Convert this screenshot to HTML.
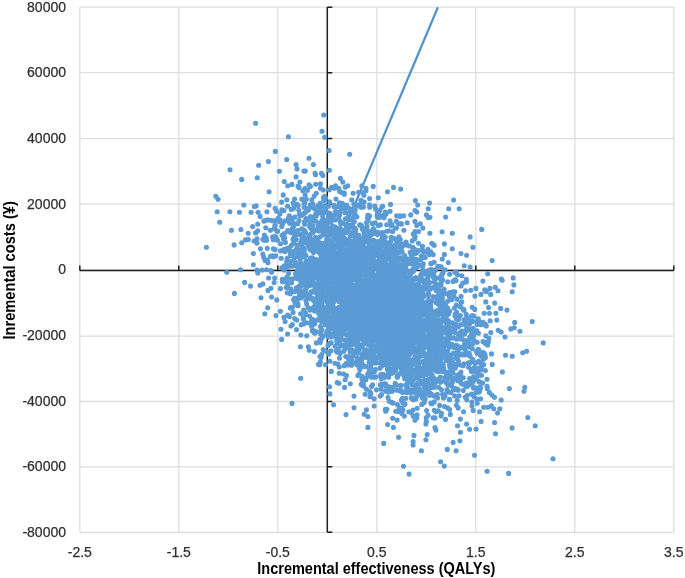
<!DOCTYPE html>
<html><head><meta charset="utf-8"><style>
html,body{margin:0;padding:0;background:#fff;}
svg{display:block;will-change:transform;}
text{font-family:"Liberation Sans",sans-serif;}
</style></head><body>
<svg width="685" height="578" viewBox="0 0 685 578">
<rect width="685" height="578" fill="#fff"/>
<g stroke="#dedede" stroke-width="1.3"><line x1="79.8" y1="7.1" x2="79.8" y2="532.3"/><line x1="178.8" y1="7.1" x2="178.8" y2="532.3"/><line x1="277.8" y1="7.1" x2="277.8" y2="532.3"/><line x1="376.8" y1="7.1" x2="376.8" y2="532.3"/><line x1="475.8" y1="7.1" x2="475.8" y2="532.3"/><line x1="574.8" y1="7.1" x2="574.8" y2="532.3"/><line x1="673.8" y1="7.1" x2="673.8" y2="532.3"/><line x1="79.8" y1="7.20" x2="673.8" y2="7.20"/><line x1="79.8" y1="72.70" x2="673.8" y2="72.70"/><line x1="79.8" y1="138.55" x2="673.8" y2="138.55"/><line x1="79.8" y1="204.10" x2="673.8" y2="204.10"/><line x1="79.8" y1="269.90" x2="673.8" y2="269.90"/><line x1="79.8" y1="336.20" x2="673.8" y2="336.20"/><line x1="79.8" y1="401.50" x2="673.8" y2="401.50"/><line x1="79.8" y1="466.80" x2="673.8" y2="466.80"/><line x1="79.8" y1="532.30" x2="673.8" y2="532.30"/></g>
<g stroke="#1e1e1e" stroke-width="1.5" fill="none">
<line x1="79.8" y1="270.5" x2="673.8" y2="270.5"/>
<line x1="327.3" y1="7.1" x2="327.3" y2="532.3"/>
<path d="M327.3 7.20h5 M327.3 72.70h5 M327.3 138.55h5 M327.3 204.10h5 M327.3 269.90h5 M327.3 336.20h5 M327.3 401.50h5 M327.3 466.80h5 M327.3 532.30h5 M79.8 270.5v-5 M178.8 270.5v-5 M277.8 270.5v-5 M376.8 270.5v-5 M475.8 270.5v-5 M574.8 270.5v-5 M673.8 270.5v-5"/>
</g>
<line x1="327.3" y1="269.7" x2="437.9" y2="7.3" stroke="#5090cc" stroke-width="2.2"/>
<g id="cloud" fill="#5b9bd5">
<circle cx="424.4" cy="372.1" r="2.55"/><circle cx="418.1" cy="320.7" r="2.55"/><circle cx="349.6" cy="284.0" r="2.55"/><circle cx="287.8" cy="315.5" r="2.55"/><circle cx="415.9" cy="399.0" r="2.55"/><circle cx="393.0" cy="330.7" r="2.55"/><circle cx="367.6" cy="269.0" r="2.55"/><circle cx="367.0" cy="277.6" r="2.55"/><circle cx="404.9" cy="403.8" r="2.55"/><circle cx="392.3" cy="323.8" r="2.55"/><circle cx="378.8" cy="299.1" r="2.55"/><circle cx="502.4" cy="371.9" r="2.55"/><circle cx="400.2" cy="306.0" r="2.55"/><circle cx="398.1" cy="284.2" r="2.55"/><circle cx="448.6" cy="314.1" r="2.55"/><circle cx="352.9" cy="254.5" r="2.55"/><circle cx="391.7" cy="338.7" r="2.55"/><circle cx="411.5" cy="345.7" r="2.55"/><circle cx="404.8" cy="342.9" r="2.55"/><circle cx="340.7" cy="292.1" r="2.55"/><circle cx="369.4" cy="281.5" r="2.55"/><circle cx="338.7" cy="253.3" r="2.55"/><circle cx="295.1" cy="261.9" r="2.55"/><circle cx="406.1" cy="293.2" r="2.55"/><circle cx="374.7" cy="231.6" r="2.55"/><circle cx="349.0" cy="356.6" r="2.55"/><circle cx="401.9" cy="260.1" r="2.55"/><circle cx="367.5" cy="306.1" r="2.55"/><circle cx="363.9" cy="195.3" r="2.55"/><circle cx="356.4" cy="274.8" r="2.55"/><circle cx="421.9" cy="301.0" r="2.55"/><circle cx="408.0" cy="346.2" r="2.55"/><circle cx="349.1" cy="318.8" r="2.55"/><circle cx="317.3" cy="238.6" r="2.55"/><circle cx="344.3" cy="327.8" r="2.55"/><circle cx="337.6" cy="272.8" r="2.55"/><circle cx="383.1" cy="295.6" r="2.55"/><circle cx="429.6" cy="392.9" r="2.55"/><circle cx="338.0" cy="326.0" r="2.55"/><circle cx="401.9" cy="356.3" r="2.55"/><circle cx="446.7" cy="328.0" r="2.55"/><circle cx="266.1" cy="237.5" r="2.55"/><circle cx="326.3" cy="255.4" r="2.55"/><circle cx="450.8" cy="384.2" r="2.55"/><circle cx="413.3" cy="379.9" r="2.55"/><circle cx="266.7" cy="240.2" r="2.55"/><circle cx="355.8" cy="290.5" r="2.55"/><circle cx="345.4" cy="303.3" r="2.55"/><circle cx="439.5" cy="339.8" r="2.55"/><circle cx="333.4" cy="233.2" r="2.55"/><circle cx="372.1" cy="290.9" r="2.55"/><circle cx="324.3" cy="283.0" r="2.55"/><circle cx="405.6" cy="295.7" r="2.55"/><circle cx="386.8" cy="265.5" r="2.55"/><circle cx="478.1" cy="390.0" r="2.55"/><circle cx="376.0" cy="252.1" r="2.55"/><circle cx="338.9" cy="206.4" r="2.55"/><circle cx="385.7" cy="290.5" r="2.55"/><circle cx="300.6" cy="313.7" r="2.55"/><circle cx="329.8" cy="326.1" r="2.55"/><circle cx="377.9" cy="211.1" r="2.55"/><circle cx="413.4" cy="303.5" r="2.55"/><circle cx="377.9" cy="279.0" r="2.55"/><circle cx="389.1" cy="327.1" r="2.55"/><circle cx="330.0" cy="306.0" r="2.55"/><circle cx="423.3" cy="263.7" r="2.55"/><circle cx="368.1" cy="217.3" r="2.55"/><circle cx="389.9" cy="341.3" r="2.55"/><circle cx="295.5" cy="273.8" r="2.55"/><circle cx="422.0" cy="342.6" r="2.55"/><circle cx="500.6" cy="308.4" r="2.55"/><circle cx="379.4" cy="268.9" r="2.55"/><circle cx="398.9" cy="374.3" r="2.55"/><circle cx="352.4" cy="330.6" r="2.55"/><circle cx="325.0" cy="295.8" r="2.55"/><circle cx="400.2" cy="244.4" r="2.55"/><circle cx="323.4" cy="197.6" r="2.55"/><circle cx="369.8" cy="376.3" r="2.55"/><circle cx="376.9" cy="334.2" r="2.55"/><circle cx="371.6" cy="299.0" r="2.55"/><circle cx="331.3" cy="320.9" r="2.55"/><circle cx="394.1" cy="357.4" r="2.55"/><circle cx="350.3" cy="302.3" r="2.55"/><circle cx="381.5" cy="306.7" r="2.55"/><circle cx="370.6" cy="268.1" r="2.55"/><circle cx="350.0" cy="329.3" r="2.55"/><circle cx="349.7" cy="344.4" r="2.55"/><circle cx="324.7" cy="276.4" r="2.55"/><circle cx="454.8" cy="328.4" r="2.55"/><circle cx="482.6" cy="324.2" r="2.55"/><circle cx="401.1" cy="327.5" r="2.55"/><circle cx="303.5" cy="239.6" r="2.55"/><circle cx="412.3" cy="340.5" r="2.55"/><circle cx="389.5" cy="264.8" r="2.55"/><circle cx="437.6" cy="398.0" r="2.55"/><circle cx="368.3" cy="339.4" r="2.55"/><circle cx="403.7" cy="215.8" r="2.55"/><circle cx="348.4" cy="311.1" r="2.55"/><circle cx="419.2" cy="334.6" r="2.55"/><circle cx="345.2" cy="206.6" r="2.55"/><circle cx="322.3" cy="313.7" r="2.55"/><circle cx="399.4" cy="331.1" r="2.55"/><circle cx="473.9" cy="340.3" r="2.55"/><circle cx="411.8" cy="304.7" r="2.55"/><circle cx="411.4" cy="293.2" r="2.55"/><circle cx="437.7" cy="364.9" r="2.55"/><circle cx="294.9" cy="300.4" r="2.55"/><circle cx="379.1" cy="249.1" r="2.55"/><circle cx="323.3" cy="309.5" r="2.55"/><circle cx="522.7" cy="352.7" r="2.55"/><circle cx="470.1" cy="267.0" r="2.55"/><circle cx="396.7" cy="351.4" r="2.55"/><circle cx="350.1" cy="351.7" r="2.55"/><circle cx="327.0" cy="301.4" r="2.55"/><circle cx="322.8" cy="175.4" r="2.55"/><circle cx="384.5" cy="327.1" r="2.55"/><circle cx="319.7" cy="263.8" r="2.55"/><circle cx="360.6" cy="297.4" r="2.55"/><circle cx="350.1" cy="248.2" r="2.55"/><circle cx="331.0" cy="259.3" r="2.55"/><circle cx="452.0" cy="380.9" r="2.55"/><circle cx="457.8" cy="363.8" r="2.55"/><circle cx="479.7" cy="382.1" r="2.55"/><circle cx="416.9" cy="368.0" r="2.55"/><circle cx="373.1" cy="248.2" r="2.55"/><circle cx="354.4" cy="246.4" r="2.55"/><circle cx="366.1" cy="315.9" r="2.55"/><circle cx="337.5" cy="262.2" r="2.55"/><circle cx="395.1" cy="326.2" r="2.55"/><circle cx="366.4" cy="334.6" r="2.55"/><circle cx="328.8" cy="250.0" r="2.55"/><circle cx="386.3" cy="343.2" r="2.55"/><circle cx="376.8" cy="314.6" r="2.55"/><circle cx="445.5" cy="304.3" r="2.55"/><circle cx="384.3" cy="340.8" r="2.55"/><circle cx="337.0" cy="299.0" r="2.55"/><circle cx="315.8" cy="275.5" r="2.55"/><circle cx="400.9" cy="350.4" r="2.55"/><circle cx="374.8" cy="264.6" r="2.55"/><circle cx="402.4" cy="328.6" r="2.55"/><circle cx="415.9" cy="268.0" r="2.55"/><circle cx="375.5" cy="329.2" r="2.55"/><circle cx="229.9" cy="211.7" r="2.55"/><circle cx="307.2" cy="238.4" r="2.55"/><circle cx="383.1" cy="305.2" r="2.55"/><circle cx="267.7" cy="307.7" r="2.55"/><circle cx="356.4" cy="267.5" r="2.55"/><circle cx="336.9" cy="257.9" r="2.55"/><circle cx="434.0" cy="352.6" r="2.55"/><circle cx="436.2" cy="278.3" r="2.55"/><circle cx="339.0" cy="280.3" r="2.55"/><circle cx="305.0" cy="188.6" r="2.55"/><circle cx="306.0" cy="218.6" r="2.55"/><circle cx="409.4" cy="292.1" r="2.55"/><circle cx="324.2" cy="295.6" r="2.55"/><circle cx="329.5" cy="263.2" r="2.55"/><circle cx="349.8" cy="274.1" r="2.55"/><circle cx="475.0" cy="363.6" r="2.55"/><circle cx="364.3" cy="316.1" r="2.55"/><circle cx="234.1" cy="244.9" r="2.55"/><circle cx="331.2" cy="287.6" r="2.55"/><circle cx="311.0" cy="282.0" r="2.55"/><circle cx="387.0" cy="356.0" r="2.55"/><circle cx="400.3" cy="252.2" r="2.55"/><circle cx="386.0" cy="361.6" r="2.55"/><circle cx="370.6" cy="299.4" r="2.55"/><circle cx="304.3" cy="249.2" r="2.55"/><circle cx="433.4" cy="365.2" r="2.55"/><circle cx="376.1" cy="324.8" r="2.55"/><circle cx="429.8" cy="348.6" r="2.55"/><circle cx="309.8" cy="241.3" r="2.55"/><circle cx="395.2" cy="383.2" r="2.55"/><circle cx="365.7" cy="322.4" r="2.55"/><circle cx="397.3" cy="331.2" r="2.55"/><circle cx="402.4" cy="283.2" r="2.55"/><circle cx="239.4" cy="212.3" r="2.55"/><circle cx="315.9" cy="213.3" r="2.55"/><circle cx="370.7" cy="274.7" r="2.55"/><circle cx="377.8" cy="286.6" r="2.55"/><circle cx="356.4" cy="256.2" r="2.55"/><circle cx="402.1" cy="251.5" r="2.55"/><circle cx="472.3" cy="348.7" r="2.55"/><circle cx="346.2" cy="279.1" r="2.55"/><circle cx="289.1" cy="220.6" r="2.55"/><circle cx="461.4" cy="331.9" r="2.55"/><circle cx="357.8" cy="362.9" r="2.55"/><circle cx="325.6" cy="205.5" r="2.55"/><circle cx="279.4" cy="171.3" r="2.55"/><circle cx="406.1" cy="316.0" r="2.55"/><circle cx="403.8" cy="339.7" r="2.55"/><circle cx="440.3" cy="348.3" r="2.55"/><circle cx="328.5" cy="272.6" r="2.55"/><circle cx="339.4" cy="316.2" r="2.55"/><circle cx="455.3" cy="366.8" r="2.55"/><circle cx="413.8" cy="342.8" r="2.55"/><circle cx="391.7" cy="347.7" r="2.55"/><circle cx="377.3" cy="315.7" r="2.55"/><circle cx="366.6" cy="308.2" r="2.55"/><circle cx="384.3" cy="377.4" r="2.55"/><circle cx="351.3" cy="314.2" r="2.55"/><circle cx="380.6" cy="265.5" r="2.55"/><circle cx="351.2" cy="292.3" r="2.55"/><circle cx="372.3" cy="309.6" r="2.55"/><circle cx="420.3" cy="384.3" r="2.55"/><circle cx="352.8" cy="250.7" r="2.55"/><circle cx="379.2" cy="255.5" r="2.55"/><circle cx="330.0" cy="268.3" r="2.55"/><circle cx="343.5" cy="301.6" r="2.55"/><circle cx="447.0" cy="392.2" r="2.55"/><circle cx="463.2" cy="365.8" r="2.55"/><circle cx="395.8" cy="275.2" r="2.55"/><circle cx="412.5" cy="314.0" r="2.55"/><circle cx="332.1" cy="277.7" r="2.55"/><circle cx="439.5" cy="290.3" r="2.55"/><circle cx="424.4" cy="284.7" r="2.55"/><circle cx="350.3" cy="276.1" r="2.55"/><circle cx="332.1" cy="257.3" r="2.55"/><circle cx="480.1" cy="322.4" r="2.55"/><circle cx="340.3" cy="275.5" r="2.55"/><circle cx="354.4" cy="212.9" r="2.55"/><circle cx="402.0" cy="348.3" r="2.55"/><circle cx="405.9" cy="315.2" r="2.55"/><circle cx="372.2" cy="254.4" r="2.55"/><circle cx="382.0" cy="301.4" r="2.55"/><circle cx="378.6" cy="304.5" r="2.55"/><circle cx="375.9" cy="303.3" r="2.55"/><circle cx="396.3" cy="269.9" r="2.55"/><circle cx="438.0" cy="360.5" r="2.55"/><circle cx="374.4" cy="327.4" r="2.55"/><circle cx="383.9" cy="302.1" r="2.55"/><circle cx="255.6" cy="123.2" r="2.55"/><circle cx="413.8" cy="261.1" r="2.55"/><circle cx="441.7" cy="280.4" r="2.55"/><circle cx="383.0" cy="300.6" r="2.55"/><circle cx="287.7" cy="287.5" r="2.55"/><circle cx="323.9" cy="206.0" r="2.55"/><circle cx="370.2" cy="305.2" r="2.55"/><circle cx="445.6" cy="351.7" r="2.55"/><circle cx="467.0" cy="330.7" r="2.55"/><circle cx="365.0" cy="316.7" r="2.55"/><circle cx="374.3" cy="351.9" r="2.55"/><circle cx="350.2" cy="325.9" r="2.55"/><circle cx="366.2" cy="278.5" r="2.55"/><circle cx="440.7" cy="351.9" r="2.55"/><circle cx="411.2" cy="302.1" r="2.55"/><circle cx="345.4" cy="307.8" r="2.55"/><circle cx="351.0" cy="304.7" r="2.55"/><circle cx="375.1" cy="324.0" r="2.55"/><circle cx="473.0" cy="328.4" r="2.55"/><circle cx="293.5" cy="238.2" r="2.55"/><circle cx="407.8" cy="355.1" r="2.55"/><circle cx="361.7" cy="292.6" r="2.55"/><circle cx="376.7" cy="268.8" r="2.55"/><circle cx="343.4" cy="241.6" r="2.55"/><circle cx="336.1" cy="287.6" r="2.55"/><circle cx="410.7" cy="308.9" r="2.55"/><circle cx="438.2" cy="347.7" r="2.55"/><circle cx="535.2" cy="425.7" r="2.55"/><circle cx="342.6" cy="331.0" r="2.55"/><circle cx="390.5" cy="204.4" r="2.55"/><circle cx="378.5" cy="276.8" r="2.55"/><circle cx="265.8" cy="227.8" r="2.55"/><circle cx="361.1" cy="326.2" r="2.55"/><circle cx="328.7" cy="275.6" r="2.55"/><circle cx="390.2" cy="319.9" r="2.55"/><circle cx="362.5" cy="327.1" r="2.55"/><circle cx="355.3" cy="237.9" r="2.55"/><circle cx="371.0" cy="286.9" r="2.55"/><circle cx="321.4" cy="279.9" r="2.55"/><circle cx="371.2" cy="315.7" r="2.55"/><circle cx="374.2" cy="406.0" r="2.55"/><circle cx="436.4" cy="310.8" r="2.55"/><circle cx="352.3" cy="245.1" r="2.55"/><circle cx="398.8" cy="337.1" r="2.55"/><circle cx="385.0" cy="355.0" r="2.55"/><circle cx="357.4" cy="313.0" r="2.55"/><circle cx="386.1" cy="265.1" r="2.55"/><circle cx="368.3" cy="324.8" r="2.55"/><circle cx="366.2" cy="274.1" r="2.55"/><circle cx="355.8" cy="316.6" r="2.55"/><circle cx="240.5" cy="269.7" r="2.55"/><circle cx="289.9" cy="222.4" r="2.55"/><circle cx="347.7" cy="185.7" r="2.55"/><circle cx="368.2" cy="220.5" r="2.55"/><circle cx="427.8" cy="277.7" r="2.55"/><circle cx="372.6" cy="251.4" r="2.55"/><circle cx="383.2" cy="329.2" r="2.55"/><circle cx="366.4" cy="277.7" r="2.55"/><circle cx="331.0" cy="222.3" r="2.55"/><circle cx="326.1" cy="333.4" r="2.55"/><circle cx="443.1" cy="272.8" r="2.55"/><circle cx="357.3" cy="353.3" r="2.55"/><circle cx="350.3" cy="383.8" r="2.55"/><circle cx="425.9" cy="288.5" r="2.55"/><circle cx="343.0" cy="268.5" r="2.55"/><circle cx="396.1" cy="286.2" r="2.55"/><circle cx="294.6" cy="237.4" r="2.55"/><circle cx="338.7" cy="246.5" r="2.55"/><circle cx="432.7" cy="325.6" r="2.55"/><circle cx="380.5" cy="347.0" r="2.55"/><circle cx="305.2" cy="194.7" r="2.55"/><circle cx="424.2" cy="402.4" r="2.55"/><circle cx="407.2" cy="222.8" r="2.55"/><circle cx="406.3" cy="330.9" r="2.55"/><circle cx="361.2" cy="283.8" r="2.55"/><circle cx="495.5" cy="433.7" r="2.55"/><circle cx="454.8" cy="291.8" r="2.55"/><circle cx="383.4" cy="265.7" r="2.55"/><circle cx="310.0" cy="266.1" r="2.55"/><circle cx="396.7" cy="284.4" r="2.55"/><circle cx="302.8" cy="199.5" r="2.55"/><circle cx="413.5" cy="324.6" r="2.55"/><circle cx="338.8" cy="218.7" r="2.55"/><circle cx="424.2" cy="308.4" r="2.55"/><circle cx="363.8" cy="280.0" r="2.55"/><circle cx="364.5" cy="321.4" r="2.55"/><circle cx="409.4" cy="310.6" r="2.55"/><circle cx="434.3" cy="351.0" r="2.55"/><circle cx="392.7" cy="231.5" r="2.55"/><circle cx="348.2" cy="319.1" r="2.55"/><circle cx="415.0" cy="210.6" r="2.55"/><circle cx="445.6" cy="338.8" r="2.55"/><circle cx="398.7" cy="307.0" r="2.55"/><circle cx="349.4" cy="245.6" r="2.55"/><circle cx="376.7" cy="298.2" r="2.55"/><circle cx="260.0" cy="285.3" r="2.55"/><circle cx="377.4" cy="292.3" r="2.55"/><circle cx="450.9" cy="392.6" r="2.55"/><circle cx="408.4" cy="376.4" r="2.55"/><circle cx="332.0" cy="274.2" r="2.55"/><circle cx="425.3" cy="325.4" r="2.55"/><circle cx="432.3" cy="319.9" r="2.55"/><circle cx="364.8" cy="318.5" r="2.55"/><circle cx="393.4" cy="265.8" r="2.55"/><circle cx="383.5" cy="285.3" r="2.55"/><circle cx="382.1" cy="238.4" r="2.55"/><circle cx="318.6" cy="300.4" r="2.55"/><circle cx="429.9" cy="233.3" r="2.55"/><circle cx="365.0" cy="334.2" r="2.55"/><circle cx="438.7" cy="327.9" r="2.55"/><circle cx="339.9" cy="333.9" r="2.55"/><circle cx="337.6" cy="254.8" r="2.55"/><circle cx="370.3" cy="335.1" r="2.55"/><circle cx="438.5" cy="294.9" r="2.55"/><circle cx="422.5" cy="246.3" r="2.55"/><circle cx="428.5" cy="359.3" r="2.55"/><circle cx="351.1" cy="265.3" r="2.55"/><circle cx="461.1" cy="324.6" r="2.55"/><circle cx="334.4" cy="236.6" r="2.55"/><circle cx="339.8" cy="228.0" r="2.55"/><circle cx="352.6" cy="292.2" r="2.55"/><circle cx="387.9" cy="244.6" r="2.55"/><circle cx="418.0" cy="376.0" r="2.55"/><circle cx="412.4" cy="340.5" r="2.55"/><circle cx="420.7" cy="315.9" r="2.55"/><circle cx="419.0" cy="311.5" r="2.55"/><circle cx="348.6" cy="247.9" r="2.55"/><circle cx="344.8" cy="349.1" r="2.55"/><circle cx="301.1" cy="324.8" r="2.55"/><circle cx="416.9" cy="259.6" r="2.55"/><circle cx="328.7" cy="304.4" r="2.55"/><circle cx="343.0" cy="275.8" r="2.55"/><circle cx="351.5" cy="293.0" r="2.55"/><circle cx="354.3" cy="230.8" r="2.55"/><circle cx="420.1" cy="394.8" r="2.55"/><circle cx="381.7" cy="254.3" r="2.55"/><circle cx="365.4" cy="283.2" r="2.55"/><circle cx="398.2" cy="297.6" r="2.55"/><circle cx="390.2" cy="297.5" r="2.55"/><circle cx="362.2" cy="313.6" r="2.55"/><circle cx="419.0" cy="264.7" r="2.55"/><circle cx="382.0" cy="359.6" r="2.55"/><circle cx="363.6" cy="354.1" r="2.55"/><circle cx="384.5" cy="328.5" r="2.55"/><circle cx="357.6" cy="255.2" r="2.55"/><circle cx="407.4" cy="349.3" r="2.55"/><circle cx="486.4" cy="291.6" r="2.55"/><circle cx="366.4" cy="389.2" r="2.55"/><circle cx="364.3" cy="328.1" r="2.55"/><circle cx="353.5" cy="322.9" r="2.55"/><circle cx="428.0" cy="285.0" r="2.55"/><circle cx="394.3" cy="336.5" r="2.55"/><circle cx="389.2" cy="230.8" r="2.55"/><circle cx="519.9" cy="331.3" r="2.55"/><circle cx="313.6" cy="278.1" r="2.55"/><circle cx="340.3" cy="282.6" r="2.55"/><circle cx="336.5" cy="275.5" r="2.55"/><circle cx="414.8" cy="321.1" r="2.55"/><circle cx="358.2" cy="268.4" r="2.55"/><circle cx="381.3" cy="326.9" r="2.55"/><circle cx="275.3" cy="236.6" r="2.55"/><circle cx="441.9" cy="346.4" r="2.55"/><circle cx="420.7" cy="295.0" r="2.55"/><circle cx="309.0" cy="272.8" r="2.55"/><circle cx="361.5" cy="304.6" r="2.55"/><circle cx="340.9" cy="266.0" r="2.55"/><circle cx="460.0" cy="380.3" r="2.55"/><circle cx="342.9" cy="272.4" r="2.55"/><circle cx="334.5" cy="335.4" r="2.55"/><circle cx="380.6" cy="299.6" r="2.55"/><circle cx="396.8" cy="354.5" r="2.55"/><circle cx="393.2" cy="292.6" r="2.55"/><circle cx="359.9" cy="369.5" r="2.55"/><circle cx="390.1" cy="309.7" r="2.55"/><circle cx="442.2" cy="338.2" r="2.55"/><circle cx="328.0" cy="314.8" r="2.55"/><circle cx="418.1" cy="290.9" r="2.55"/><circle cx="321.2" cy="318.6" r="2.55"/><circle cx="403.9" cy="230.2" r="2.55"/><circle cx="388.1" cy="315.1" r="2.55"/><circle cx="393.5" cy="312.6" r="2.55"/><circle cx="426.5" cy="374.6" r="2.55"/><circle cx="418.5" cy="231.6" r="2.55"/><circle cx="272.4" cy="255.9" r="2.55"/><circle cx="318.0" cy="308.1" r="2.55"/><circle cx="441.1" cy="282.8" r="2.55"/><circle cx="421.8" cy="327.6" r="2.55"/><circle cx="407.7" cy="355.0" r="2.55"/><circle cx="381.6" cy="321.0" r="2.55"/><circle cx="348.2" cy="304.9" r="2.55"/><circle cx="292.6" cy="218.2" r="2.55"/><circle cx="388.0" cy="317.2" r="2.55"/><circle cx="339.6" cy="333.0" r="2.55"/><circle cx="319.1" cy="265.3" r="2.55"/><circle cx="363.6" cy="292.7" r="2.55"/><circle cx="297.8" cy="263.7" r="2.55"/><circle cx="414.2" cy="250.5" r="2.55"/><circle cx="352.7" cy="311.7" r="2.55"/><circle cx="475.3" cy="379.3" r="2.55"/><circle cx="461.1" cy="296.4" r="2.55"/><circle cx="314.2" cy="196.1" r="2.55"/><circle cx="353.8" cy="352.8" r="2.55"/><circle cx="329.8" cy="290.1" r="2.55"/><circle cx="321.8" cy="329.5" r="2.55"/><circle cx="310.2" cy="277.6" r="2.55"/><circle cx="362.4" cy="366.5" r="2.55"/><circle cx="375.5" cy="376.9" r="2.55"/><circle cx="380.6" cy="320.6" r="2.55"/><circle cx="444.1" cy="309.6" r="2.55"/><circle cx="368.0" cy="264.9" r="2.55"/><circle cx="416.3" cy="312.5" r="2.55"/><circle cx="445.8" cy="372.2" r="2.55"/><circle cx="441.1" cy="415.9" r="2.55"/><circle cx="383.9" cy="262.3" r="2.55"/><circle cx="293.1" cy="312.4" r="2.55"/><circle cx="431.1" cy="387.4" r="2.55"/><circle cx="403.7" cy="277.3" r="2.55"/><circle cx="440.0" cy="364.1" r="2.55"/><circle cx="411.2" cy="321.1" r="2.55"/><circle cx="354.5" cy="216.2" r="2.55"/><circle cx="391.9" cy="328.3" r="2.55"/><circle cx="346.8" cy="258.8" r="2.55"/><circle cx="393.4" cy="427.4" r="2.55"/><circle cx="373.4" cy="297.5" r="2.55"/><circle cx="355.8" cy="325.9" r="2.55"/><circle cx="412.3" cy="328.3" r="2.55"/><circle cx="415.4" cy="338.8" r="2.55"/><circle cx="360.4" cy="243.9" r="2.55"/><circle cx="330.7" cy="262.9" r="2.55"/><circle cx="400.8" cy="359.3" r="2.55"/><circle cx="345.2" cy="294.8" r="2.55"/><circle cx="392.2" cy="291.9" r="2.55"/><circle cx="253.4" cy="253.6" r="2.55"/><circle cx="315.8" cy="259.5" r="2.55"/><circle cx="487.0" cy="379.3" r="2.55"/><circle cx="284.2" cy="270.1" r="2.55"/><circle cx="441.2" cy="363.0" r="2.55"/><circle cx="438.4" cy="355.2" r="2.55"/><circle cx="314.1" cy="283.4" r="2.55"/><circle cx="309.6" cy="267.7" r="2.55"/><circle cx="366.0" cy="295.8" r="2.55"/><circle cx="401.9" cy="307.9" r="2.55"/><circle cx="294.1" cy="257.9" r="2.55"/><circle cx="391.0" cy="280.8" r="2.55"/><circle cx="452.9" cy="372.8" r="2.55"/><circle cx="382.6" cy="206.2" r="2.55"/><circle cx="305.7" cy="292.2" r="2.55"/><circle cx="331.1" cy="350.8" r="2.55"/><circle cx="420.2" cy="350.4" r="2.55"/><circle cx="393.7" cy="355.9" r="2.55"/><circle cx="381.6" cy="339.1" r="2.55"/><circle cx="321.5" cy="310.7" r="2.55"/><circle cx="367.0" cy="253.1" r="2.55"/><circle cx="438.5" cy="356.4" r="2.55"/><circle cx="477.6" cy="388.0" r="2.55"/><circle cx="386.9" cy="332.2" r="2.55"/><circle cx="379.8" cy="232.7" r="2.55"/><circle cx="432.1" cy="366.3" r="2.55"/><circle cx="378.6" cy="241.5" r="2.55"/><circle cx="432.1" cy="374.7" r="2.55"/><circle cx="402.0" cy="309.0" r="2.55"/><circle cx="315.2" cy="238.2" r="2.55"/><circle cx="387.7" cy="315.3" r="2.55"/><circle cx="289.0" cy="220.1" r="2.55"/><circle cx="371.8" cy="320.0" r="2.55"/><circle cx="395.2" cy="303.5" r="2.55"/><circle cx="303.9" cy="295.2" r="2.55"/><circle cx="379.1" cy="277.4" r="2.55"/><circle cx="325.0" cy="318.4" r="2.55"/><circle cx="338.0" cy="263.2" r="2.55"/><circle cx="350.6" cy="226.4" r="2.55"/><circle cx="318.2" cy="225.7" r="2.55"/><circle cx="296.9" cy="204.4" r="2.55"/><circle cx="380.9" cy="276.2" r="2.55"/><circle cx="418.4" cy="343.4" r="2.55"/><circle cx="398.0" cy="276.1" r="2.55"/><circle cx="394.0" cy="329.8" r="2.55"/><circle cx="454.0" cy="296.2" r="2.55"/><circle cx="355.4" cy="324.6" r="2.55"/><circle cx="358.7" cy="345.4" r="2.55"/><circle cx="345.4" cy="218.7" r="2.55"/><circle cx="347.0" cy="240.8" r="2.55"/><circle cx="292.1" cy="266.3" r="2.55"/><circle cx="260.1" cy="216.4" r="2.55"/><circle cx="428.8" cy="384.3" r="2.55"/><circle cx="409.4" cy="287.5" r="2.55"/><circle cx="343.4" cy="283.3" r="2.55"/><circle cx="399.0" cy="257.9" r="2.55"/><circle cx="429.7" cy="282.5" r="2.55"/><circle cx="330.1" cy="274.2" r="2.55"/><circle cx="456.7" cy="339.2" r="2.55"/><circle cx="410.7" cy="321.3" r="2.55"/><circle cx="351.3" cy="280.3" r="2.55"/><circle cx="367.3" cy="277.6" r="2.55"/><circle cx="383.7" cy="352.1" r="2.55"/><circle cx="405.7" cy="360.1" r="2.55"/><circle cx="334.3" cy="329.6" r="2.55"/><circle cx="403.5" cy="284.6" r="2.55"/><circle cx="342.4" cy="276.0" r="2.55"/><circle cx="429.0" cy="301.2" r="2.55"/><circle cx="418.3" cy="360.9" r="2.55"/><circle cx="405.4" cy="292.8" r="2.55"/><circle cx="395.3" cy="270.3" r="2.55"/><circle cx="401.8" cy="303.2" r="2.55"/><circle cx="362.3" cy="228.8" r="2.55"/><circle cx="385.1" cy="319.0" r="2.55"/><circle cx="418.5" cy="243.2" r="2.55"/><circle cx="340.0" cy="319.0" r="2.55"/><circle cx="428.2" cy="293.0" r="2.55"/><circle cx="371.8" cy="320.3" r="2.55"/><circle cx="385.0" cy="273.0" r="2.55"/><circle cx="281.0" cy="329.2" r="2.55"/><circle cx="464.1" cy="340.3" r="2.55"/><circle cx="409.1" cy="474.1" r="2.55"/><circle cx="340.0" cy="291.3" r="2.55"/><circle cx="400.8" cy="352.6" r="2.55"/><circle cx="392.4" cy="280.0" r="2.55"/><circle cx="386.8" cy="297.8" r="2.55"/><circle cx="396.5" cy="228.0" r="2.55"/><circle cx="377.0" cy="292.5" r="2.55"/><circle cx="381.5" cy="272.7" r="2.55"/><circle cx="325.0" cy="323.0" r="2.55"/><circle cx="391.7" cy="290.5" r="2.55"/><circle cx="405.3" cy="345.6" r="2.55"/><circle cx="498.0" cy="290.8" r="2.55"/><circle cx="432.5" cy="378.4" r="2.55"/><circle cx="356.9" cy="216.8" r="2.55"/><circle cx="328.6" cy="265.8" r="2.55"/><circle cx="384.1" cy="217.7" r="2.55"/><circle cx="342.8" cy="283.9" r="2.55"/><circle cx="329.1" cy="230.6" r="2.55"/><circle cx="395.2" cy="310.0" r="2.55"/><circle cx="419.3" cy="346.8" r="2.55"/><circle cx="411.5" cy="317.8" r="2.55"/><circle cx="427.0" cy="320.2" r="2.55"/><circle cx="349.2" cy="304.4" r="2.55"/><circle cx="257.0" cy="270.1" r="2.55"/><circle cx="324.1" cy="319.2" r="2.55"/><circle cx="333.3" cy="268.1" r="2.55"/><circle cx="293.9" cy="242.5" r="2.55"/><circle cx="398.9" cy="313.0" r="2.55"/><circle cx="393.8" cy="352.1" r="2.55"/><circle cx="364.5" cy="251.5" r="2.55"/><circle cx="320.4" cy="361.9" r="2.55"/><circle cx="435.9" cy="326.9" r="2.55"/><circle cx="423.1" cy="325.9" r="2.55"/><circle cx="411.2" cy="301.7" r="2.55"/><circle cx="351.4" cy="349.9" r="2.55"/><circle cx="323.8" cy="234.9" r="2.55"/><circle cx="464.0" cy="319.8" r="2.55"/><circle cx="382.9" cy="251.4" r="2.55"/><circle cx="274.7" cy="278.0" r="2.55"/><circle cx="396.1" cy="253.5" r="2.55"/><circle cx="368.4" cy="321.9" r="2.55"/><circle cx="373.5" cy="246.7" r="2.55"/><circle cx="444.4" cy="254.4" r="2.55"/><circle cx="306.7" cy="335.7" r="2.55"/><circle cx="377.3" cy="321.5" r="2.55"/><circle cx="408.8" cy="337.7" r="2.55"/><circle cx="324.0" cy="281.9" r="2.55"/><circle cx="493.7" cy="408.7" r="2.55"/><circle cx="483.0" cy="341.6" r="2.55"/><circle cx="370.1" cy="332.7" r="2.55"/><circle cx="330.9" cy="278.7" r="2.55"/><circle cx="448.3" cy="262.5" r="2.55"/><circle cx="364.9" cy="301.7" r="2.55"/><circle cx="453.1" cy="281.4" r="2.55"/><circle cx="347.2" cy="308.9" r="2.55"/><circle cx="362.6" cy="294.4" r="2.55"/><circle cx="414.2" cy="359.0" r="2.55"/><circle cx="399.7" cy="310.0" r="2.55"/><circle cx="332.3" cy="295.8" r="2.55"/><circle cx="359.7" cy="258.3" r="2.55"/><circle cx="364.2" cy="295.4" r="2.55"/><circle cx="377.0" cy="252.6" r="2.55"/><circle cx="466.0" cy="383.2" r="2.55"/><circle cx="372.6" cy="384.8" r="2.55"/><circle cx="339.3" cy="249.1" r="2.55"/><circle cx="329.6" cy="292.7" r="2.55"/><circle cx="384.7" cy="255.9" r="2.55"/><circle cx="316.4" cy="265.2" r="2.55"/><circle cx="385.0" cy="264.6" r="2.55"/><circle cx="389.2" cy="338.6" r="2.55"/><circle cx="455.6" cy="364.3" r="2.55"/><circle cx="313.2" cy="264.3" r="2.55"/><circle cx="362.4" cy="270.6" r="2.55"/><circle cx="400.8" cy="352.3" r="2.55"/><circle cx="335.1" cy="248.0" r="2.55"/><circle cx="400.6" cy="341.4" r="2.55"/><circle cx="305.9" cy="237.8" r="2.55"/><circle cx="406.0" cy="343.9" r="2.55"/><circle cx="339.0" cy="307.2" r="2.55"/><circle cx="319.9" cy="301.6" r="2.55"/><circle cx="413.1" cy="269.0" r="2.55"/><circle cx="353.4" cy="258.5" r="2.55"/><circle cx="346.5" cy="316.6" r="2.55"/><circle cx="332.8" cy="309.2" r="2.55"/><circle cx="321.9" cy="244.9" r="2.55"/><circle cx="384.6" cy="280.4" r="2.55"/><circle cx="367.6" cy="279.0" r="2.55"/><circle cx="404.5" cy="308.5" r="2.55"/><circle cx="423.9" cy="334.5" r="2.55"/><circle cx="333.9" cy="260.9" r="2.55"/><circle cx="435.1" cy="269.9" r="2.55"/><circle cx="433.7" cy="369.6" r="2.55"/><circle cx="430.3" cy="368.2" r="2.55"/><circle cx="366.2" cy="239.3" r="2.55"/><circle cx="341.5" cy="243.5" r="2.55"/><circle cx="395.6" cy="326.8" r="2.55"/><circle cx="376.9" cy="318.2" r="2.55"/><circle cx="357.4" cy="307.5" r="2.55"/><circle cx="372.9" cy="360.4" r="2.55"/><circle cx="333.6" cy="237.9" r="2.55"/><circle cx="393.3" cy="294.3" r="2.55"/><circle cx="409.0" cy="350.7" r="2.55"/><circle cx="402.4" cy="316.7" r="2.55"/><circle cx="332.7" cy="327.6" r="2.55"/><circle cx="420.6" cy="289.9" r="2.55"/><circle cx="410.5" cy="312.1" r="2.55"/><circle cx="379.7" cy="344.8" r="2.55"/><circle cx="416.6" cy="307.8" r="2.55"/><circle cx="351.7" cy="302.5" r="2.55"/><circle cx="325.0" cy="297.7" r="2.55"/><circle cx="392.1" cy="326.3" r="2.55"/><circle cx="327.5" cy="257.9" r="2.55"/><circle cx="389.3" cy="401.2" r="2.55"/><circle cx="365.4" cy="378.3" r="2.55"/><circle cx="459.9" cy="306.4" r="2.55"/><circle cx="317.3" cy="287.6" r="2.55"/><circle cx="399.5" cy="285.4" r="2.55"/><circle cx="496.8" cy="320.1" r="2.55"/><circle cx="329.7" cy="213.3" r="2.55"/><circle cx="385.6" cy="280.1" r="2.55"/><circle cx="345.8" cy="268.8" r="2.55"/><circle cx="325.8" cy="309.9" r="2.55"/><circle cx="435.7" cy="352.9" r="2.55"/><circle cx="280.0" cy="213.9" r="2.55"/><circle cx="226.8" cy="272.3" r="2.55"/><circle cx="374.7" cy="261.7" r="2.55"/><circle cx="440.4" cy="377.1" r="2.55"/><circle cx="430.2" cy="372.8" r="2.55"/><circle cx="401.5" cy="277.4" r="2.55"/><circle cx="324.6" cy="137.2" r="2.55"/><circle cx="410.0" cy="299.8" r="2.55"/><circle cx="362.0" cy="385.1" r="2.55"/><circle cx="372.0" cy="293.6" r="2.55"/><circle cx="351.9" cy="290.4" r="2.55"/><circle cx="388.7" cy="316.7" r="2.55"/><circle cx="428.4" cy="288.9" r="2.55"/><circle cx="366.0" cy="379.8" r="2.55"/><circle cx="404.5" cy="336.8" r="2.55"/><circle cx="345.2" cy="301.7" r="2.55"/><circle cx="321.8" cy="354.6" r="2.55"/><circle cx="457.8" cy="389.2" r="2.55"/><circle cx="308.5" cy="278.0" r="2.55"/><circle cx="405.4" cy="266.1" r="2.55"/><circle cx="391.3" cy="312.4" r="2.55"/><circle cx="383.2" cy="318.2" r="2.55"/><circle cx="405.5" cy="346.0" r="2.55"/><circle cx="380.1" cy="308.0" r="2.55"/><circle cx="379.6" cy="324.8" r="2.55"/><circle cx="342.4" cy="266.0" r="2.55"/><circle cx="434.0" cy="314.2" r="2.55"/><circle cx="387.1" cy="319.9" r="2.55"/><circle cx="290.5" cy="220.7" r="2.55"/><circle cx="309.7" cy="237.6" r="2.55"/><circle cx="389.7" cy="342.8" r="2.55"/><circle cx="430.3" cy="329.4" r="2.55"/><circle cx="352.2" cy="286.9" r="2.55"/><circle cx="401.7" cy="309.6" r="2.55"/><circle cx="341.2" cy="282.4" r="2.55"/><circle cx="396.1" cy="338.6" r="2.55"/><circle cx="414.4" cy="307.3" r="2.55"/><circle cx="400.6" cy="339.7" r="2.55"/><circle cx="441.2" cy="278.6" r="2.55"/><circle cx="361.2" cy="309.1" r="2.55"/><circle cx="413.3" cy="286.8" r="2.55"/><circle cx="344.3" cy="295.9" r="2.55"/><circle cx="328.5" cy="246.0" r="2.55"/><circle cx="297.8" cy="254.3" r="2.55"/><circle cx="406.5" cy="322.7" r="2.55"/><circle cx="459.6" cy="373.9" r="2.55"/><circle cx="322.2" cy="282.9" r="2.55"/><circle cx="433.6" cy="339.9" r="2.55"/><circle cx="371.7" cy="264.0" r="2.55"/><circle cx="440.4" cy="323.2" r="2.55"/><circle cx="349.7" cy="290.7" r="2.55"/><circle cx="352.3" cy="247.0" r="2.55"/><circle cx="485.4" cy="324.2" r="2.55"/><circle cx="330.6" cy="270.0" r="2.55"/><circle cx="313.1" cy="271.0" r="2.55"/><circle cx="409.5" cy="305.5" r="2.55"/><circle cx="443.0" cy="350.5" r="2.55"/><circle cx="342.8" cy="182.0" r="2.55"/><circle cx="382.8" cy="295.9" r="2.55"/><circle cx="329.8" cy="290.3" r="2.55"/><circle cx="498.2" cy="330.3" r="2.55"/><circle cx="380.2" cy="320.7" r="2.55"/><circle cx="356.3" cy="251.2" r="2.55"/><circle cx="442.9" cy="331.7" r="2.55"/><circle cx="401.6" cy="305.1" r="2.55"/><circle cx="384.8" cy="298.8" r="2.55"/><circle cx="383.1" cy="346.9" r="2.55"/><circle cx="396.6" cy="330.4" r="2.55"/><circle cx="332.6" cy="226.3" r="2.55"/><circle cx="318.3" cy="284.6" r="2.55"/><circle cx="439.9" cy="355.4" r="2.55"/><circle cx="483.7" cy="352.7" r="2.55"/><circle cx="368.7" cy="292.5" r="2.55"/><circle cx="394.0" cy="317.5" r="2.55"/><circle cx="386.0" cy="316.8" r="2.55"/><circle cx="378.4" cy="329.8" r="2.55"/><circle cx="309.2" cy="242.9" r="2.55"/><circle cx="463.9" cy="310.2" r="2.55"/><circle cx="423.0" cy="345.3" r="2.55"/><circle cx="382.9" cy="300.1" r="2.55"/><circle cx="321.1" cy="357.5" r="2.55"/><circle cx="364.0" cy="233.4" r="2.55"/><circle cx="368.0" cy="218.7" r="2.55"/><circle cx="257.0" cy="243.1" r="2.55"/><circle cx="330.8" cy="305.2" r="2.55"/><circle cx="356.2" cy="288.6" r="2.55"/><circle cx="356.0" cy="238.4" r="2.55"/><circle cx="368.4" cy="316.3" r="2.55"/><circle cx="365.7" cy="295.0" r="2.55"/><circle cx="310.2" cy="273.1" r="2.55"/><circle cx="355.3" cy="286.2" r="2.55"/><circle cx="399.7" cy="264.5" r="2.55"/><circle cx="345.6" cy="208.4" r="2.55"/><circle cx="355.2" cy="209.7" r="2.55"/><circle cx="403.1" cy="331.5" r="2.55"/><circle cx="376.9" cy="334.3" r="2.55"/><circle cx="328.7" cy="316.5" r="2.55"/><circle cx="407.4" cy="358.0" r="2.55"/><circle cx="366.5" cy="265.3" r="2.55"/><circle cx="357.5" cy="267.9" r="2.55"/><circle cx="456.6" cy="354.2" r="2.55"/><circle cx="394.3" cy="310.7" r="2.55"/><circle cx="366.2" cy="299.6" r="2.55"/><circle cx="373.6" cy="302.4" r="2.55"/><circle cx="435.3" cy="348.0" r="2.55"/><circle cx="437.7" cy="340.1" r="2.55"/><circle cx="377.4" cy="282.9" r="2.55"/><circle cx="217.2" cy="211.7" r="2.55"/><circle cx="392.5" cy="309.0" r="2.55"/><circle cx="512.2" cy="291.8" r="2.55"/><circle cx="304.4" cy="221.9" r="2.55"/><circle cx="312.7" cy="230.8" r="2.55"/><circle cx="354.9" cy="271.3" r="2.55"/><circle cx="330.1" cy="249.0" r="2.55"/><circle cx="338.8" cy="328.6" r="2.55"/><circle cx="392.6" cy="267.6" r="2.55"/><circle cx="347.7" cy="340.9" r="2.55"/><circle cx="331.6" cy="281.0" r="2.55"/><circle cx="393.7" cy="287.3" r="2.55"/><circle cx="348.2" cy="247.1" r="2.55"/><circle cx="373.8" cy="303.2" r="2.55"/><circle cx="347.3" cy="297.2" r="2.55"/><circle cx="477.9" cy="388.9" r="2.55"/><circle cx="353.5" cy="277.6" r="2.55"/><circle cx="313.3" cy="239.9" r="2.55"/><circle cx="338.8" cy="269.8" r="2.55"/><circle cx="368.9" cy="336.5" r="2.55"/><circle cx="401.0" cy="269.9" r="2.55"/><circle cx="449.8" cy="338.0" r="2.55"/><circle cx="393.0" cy="315.8" r="2.55"/><circle cx="448.0" cy="391.3" r="2.55"/><circle cx="343.7" cy="351.2" r="2.55"/><circle cx="450.2" cy="358.3" r="2.55"/><circle cx="361.8" cy="185.7" r="2.55"/><circle cx="354.0" cy="396.1" r="2.55"/><circle cx="392.1" cy="253.7" r="2.55"/><circle cx="389.3" cy="314.9" r="2.55"/><circle cx="417.9" cy="351.9" r="2.55"/><circle cx="317.8" cy="263.6" r="2.55"/><circle cx="351.9" cy="250.9" r="2.55"/><circle cx="315.3" cy="261.5" r="2.55"/><circle cx="401.1" cy="321.9" r="2.55"/><circle cx="328.5" cy="337.1" r="2.55"/><circle cx="283.2" cy="281.8" r="2.55"/><circle cx="331.2" cy="342.7" r="2.55"/><circle cx="322.7" cy="298.0" r="2.55"/><circle cx="377.1" cy="341.1" r="2.55"/><circle cx="380.7" cy="301.5" r="2.55"/><circle cx="352.1" cy="312.9" r="2.55"/><circle cx="316.0" cy="303.4" r="2.55"/><circle cx="363.0" cy="311.8" r="2.55"/><circle cx="320.7" cy="339.4" r="2.55"/><circle cx="391.8" cy="276.7" r="2.55"/><circle cx="378.0" cy="325.6" r="2.55"/><circle cx="420.0" cy="380.9" r="2.55"/><circle cx="388.0" cy="337.2" r="2.55"/><circle cx="290.3" cy="307.7" r="2.55"/><circle cx="431.5" cy="332.5" r="2.55"/><circle cx="375.0" cy="302.0" r="2.55"/><circle cx="380.5" cy="282.5" r="2.55"/><circle cx="406.2" cy="349.6" r="2.55"/><circle cx="367.5" cy="259.4" r="2.55"/><circle cx="443.0" cy="349.7" r="2.55"/><circle cx="360.7" cy="250.5" r="2.55"/><circle cx="384.7" cy="364.6" r="2.55"/><circle cx="394.1" cy="354.2" r="2.55"/><circle cx="391.7" cy="293.9" r="2.55"/><circle cx="325.0" cy="263.9" r="2.55"/><circle cx="426.7" cy="322.6" r="2.55"/><circle cx="371.2" cy="295.8" r="2.55"/><circle cx="386.3" cy="303.2" r="2.55"/><circle cx="270.9" cy="288.2" r="2.55"/><circle cx="447.2" cy="356.5" r="2.55"/><circle cx="377.3" cy="328.7" r="2.55"/><circle cx="317.2" cy="230.0" r="2.55"/><circle cx="397.5" cy="304.5" r="2.55"/><circle cx="408.1" cy="318.9" r="2.55"/><circle cx="349.0" cy="243.4" r="2.55"/><circle cx="297.2" cy="233.9" r="2.55"/><circle cx="374.1" cy="398.7" r="2.55"/><circle cx="393.0" cy="279.7" r="2.55"/><circle cx="346.6" cy="285.5" r="2.55"/><circle cx="289.3" cy="215.8" r="2.55"/><circle cx="455.0" cy="368.2" r="2.55"/><circle cx="404.4" cy="282.5" r="2.55"/><circle cx="404.5" cy="262.9" r="2.55"/><circle cx="310.9" cy="250.2" r="2.55"/><circle cx="386.0" cy="285.1" r="2.55"/><circle cx="370.7" cy="299.0" r="2.55"/><circle cx="409.2" cy="287.7" r="2.55"/><circle cx="482.6" cy="383.0" r="2.55"/><circle cx="402.9" cy="392.2" r="2.55"/><circle cx="287.2" cy="292.8" r="2.55"/><circle cx="386.6" cy="343.5" r="2.55"/><circle cx="360.0" cy="264.2" r="2.55"/><circle cx="404.6" cy="291.4" r="2.55"/><circle cx="393.2" cy="318.6" r="2.55"/><circle cx="491.5" cy="353.9" r="2.55"/><circle cx="406.1" cy="356.3" r="2.55"/><circle cx="314.6" cy="324.0" r="2.55"/><circle cx="405.8" cy="270.3" r="2.55"/><circle cx="333.0" cy="280.3" r="2.55"/><circle cx="395.5" cy="294.3" r="2.55"/><circle cx="349.5" cy="273.4" r="2.55"/><circle cx="351.4" cy="247.3" r="2.55"/><circle cx="328.4" cy="330.6" r="2.55"/><circle cx="401.9" cy="413.6" r="2.55"/><circle cx="458.2" cy="407.9" r="2.55"/><circle cx="429.3" cy="334.9" r="2.55"/><circle cx="473.1" cy="381.2" r="2.55"/><circle cx="409.5" cy="337.7" r="2.55"/><circle cx="420.6" cy="372.7" r="2.55"/><circle cx="326.8" cy="297.5" r="2.55"/><circle cx="373.8" cy="341.0" r="2.55"/><circle cx="408.9" cy="290.2" r="2.55"/><circle cx="380.7" cy="310.9" r="2.55"/><circle cx="329.4" cy="189.7" r="2.55"/><circle cx="372.5" cy="230.9" r="2.55"/><circle cx="378.7" cy="274.1" r="2.55"/><circle cx="312.4" cy="261.5" r="2.55"/><circle cx="334.8" cy="275.6" r="2.55"/><circle cx="385.1" cy="242.0" r="2.55"/><circle cx="377.1" cy="215.7" r="2.55"/><circle cx="457.3" cy="346.1" r="2.55"/><circle cx="316.2" cy="277.8" r="2.55"/><circle cx="317.1" cy="297.3" r="2.55"/><circle cx="339.7" cy="290.0" r="2.55"/><circle cx="340.4" cy="221.5" r="2.55"/><circle cx="412.6" cy="385.3" r="2.55"/><circle cx="354.8" cy="319.1" r="2.55"/><circle cx="401.6" cy="313.1" r="2.55"/><circle cx="397.4" cy="314.2" r="2.55"/><circle cx="414.3" cy="279.0" r="2.55"/><circle cx="427.6" cy="380.2" r="2.55"/><circle cx="365.0" cy="305.9" r="2.55"/><circle cx="418.2" cy="382.5" r="2.55"/><circle cx="393.5" cy="187.4" r="2.55"/><circle cx="354.1" cy="273.5" r="2.55"/><circle cx="312.8" cy="280.6" r="2.55"/><circle cx="396.5" cy="338.6" r="2.55"/><circle cx="400.5" cy="272.5" r="2.55"/><circle cx="420.1" cy="301.4" r="2.55"/><circle cx="321.2" cy="291.6" r="2.55"/><circle cx="321.4" cy="321.6" r="2.55"/><circle cx="378.7" cy="313.2" r="2.55"/><circle cx="404.4" cy="301.8" r="2.55"/><circle cx="230.0" cy="169.7" r="2.55"/><circle cx="369.2" cy="362.2" r="2.55"/><circle cx="372.1" cy="268.1" r="2.55"/><circle cx="375.7" cy="291.6" r="2.55"/><circle cx="318.3" cy="288.5" r="2.55"/><circle cx="377.5" cy="322.3" r="2.55"/><circle cx="328.2" cy="273.1" r="2.55"/><circle cx="396.6" cy="305.2" r="2.55"/><circle cx="365.4" cy="271.5" r="2.55"/><circle cx="418.7" cy="350.0" r="2.55"/><circle cx="418.9" cy="332.8" r="2.55"/><circle cx="391.2" cy="328.6" r="2.55"/><circle cx="452.9" cy="291.9" r="2.55"/><circle cx="296.5" cy="249.1" r="2.55"/><circle cx="360.1" cy="308.1" r="2.55"/><circle cx="333.3" cy="319.3" r="2.55"/><circle cx="336.7" cy="291.5" r="2.55"/><circle cx="469.3" cy="340.3" r="2.55"/><circle cx="476.9" cy="321.4" r="2.55"/><circle cx="389.4" cy="357.6" r="2.55"/><circle cx="474.5" cy="455.2" r="2.55"/><circle cx="397.0" cy="285.5" r="2.55"/><circle cx="401.0" cy="281.7" r="2.55"/><circle cx="404.6" cy="271.9" r="2.55"/><circle cx="410.7" cy="390.4" r="2.55"/><circle cx="422.4" cy="398.0" r="2.55"/><circle cx="410.4" cy="275.0" r="2.55"/><circle cx="421.6" cy="327.3" r="2.55"/><circle cx="347.9" cy="259.7" r="2.55"/><circle cx="348.1" cy="295.0" r="2.55"/><circle cx="404.0" cy="265.9" r="2.55"/><circle cx="297.8" cy="230.5" r="2.55"/><circle cx="308.0" cy="268.2" r="2.55"/><circle cx="359.3" cy="255.2" r="2.55"/><circle cx="392.7" cy="246.3" r="2.55"/><circle cx="395.1" cy="336.7" r="2.55"/><circle cx="369.5" cy="325.8" r="2.55"/><circle cx="447.6" cy="407.9" r="2.55"/><circle cx="393.2" cy="315.2" r="2.55"/><circle cx="380.0" cy="308.5" r="2.55"/><circle cx="378.9" cy="305.3" r="2.55"/><circle cx="338.1" cy="338.6" r="2.55"/><circle cx="356.9" cy="346.6" r="2.55"/><circle cx="402.5" cy="302.4" r="2.55"/><circle cx="417.6" cy="309.1" r="2.55"/><circle cx="345.1" cy="255.2" r="2.55"/><circle cx="366.9" cy="247.9" r="2.55"/><circle cx="344.1" cy="261.1" r="2.55"/><circle cx="287.8" cy="265.8" r="2.55"/><circle cx="358.8" cy="270.9" r="2.55"/><circle cx="349.3" cy="303.1" r="2.55"/><circle cx="371.1" cy="314.6" r="2.55"/><circle cx="349.7" cy="302.5" r="2.55"/><circle cx="401.5" cy="344.7" r="2.55"/><circle cx="329.0" cy="323.5" r="2.55"/><circle cx="313.4" cy="220.8" r="2.55"/><circle cx="341.5" cy="296.5" r="2.55"/><circle cx="391.6" cy="369.4" r="2.55"/><circle cx="276.8" cy="299.9" r="2.55"/><circle cx="341.0" cy="294.9" r="2.55"/><circle cx="365.0" cy="276.3" r="2.55"/><circle cx="305.9" cy="255.4" r="2.55"/><circle cx="385.1" cy="364.4" r="2.55"/><circle cx="391.9" cy="224.6" r="2.55"/><circle cx="369.3" cy="259.9" r="2.55"/><circle cx="342.6" cy="333.9" r="2.55"/><circle cx="333.6" cy="404.8" r="2.55"/><circle cx="440.7" cy="329.9" r="2.55"/><circle cx="464.7" cy="333.9" r="2.55"/><circle cx="463.3" cy="390.6" r="2.55"/><circle cx="396.4" cy="264.7" r="2.55"/><circle cx="369.7" cy="243.3" r="2.55"/><circle cx="387.5" cy="249.3" r="2.55"/><circle cx="376.3" cy="289.0" r="2.55"/><circle cx="306.6" cy="303.8" r="2.55"/><circle cx="402.0" cy="399.6" r="2.55"/><circle cx="396.8" cy="328.9" r="2.55"/><circle cx="543.2" cy="342.9" r="2.55"/><circle cx="355.4" cy="343.8" r="2.55"/><circle cx="431.0" cy="308.7" r="2.55"/><circle cx="332.1" cy="308.3" r="2.55"/><circle cx="383.8" cy="357.9" r="2.55"/><circle cx="413.0" cy="410.1" r="2.55"/><circle cx="362.9" cy="317.2" r="2.55"/><circle cx="308.8" cy="282.9" r="2.55"/><circle cx="386.6" cy="318.0" r="2.55"/><circle cx="384.5" cy="315.6" r="2.55"/><circle cx="359.5" cy="325.5" r="2.55"/><circle cx="397.0" cy="284.0" r="2.55"/><circle cx="393.6" cy="295.1" r="2.55"/><circle cx="366.8" cy="313.0" r="2.55"/><circle cx="332.3" cy="251.1" r="2.55"/><circle cx="400.4" cy="316.9" r="2.55"/><circle cx="320.1" cy="236.9" r="2.55"/><circle cx="304.2" cy="282.8" r="2.55"/><circle cx="295.3" cy="232.2" r="2.55"/><circle cx="388.6" cy="274.2" r="2.55"/><circle cx="442.2" cy="274.1" r="2.55"/><circle cx="363.5" cy="267.4" r="2.55"/><circle cx="314.3" cy="351.5" r="2.55"/><circle cx="355.8" cy="305.9" r="2.55"/><circle cx="445.0" cy="357.3" r="2.55"/><circle cx="434.6" cy="387.2" r="2.55"/><circle cx="453.1" cy="353.3" r="2.55"/><circle cx="332.7" cy="282.2" r="2.55"/><circle cx="442.8" cy="320.7" r="2.55"/><circle cx="382.8" cy="347.9" r="2.55"/><circle cx="423.7" cy="361.4" r="2.55"/><circle cx="408.7" cy="284.8" r="2.55"/><circle cx="359.0" cy="329.3" r="2.55"/><circle cx="332.0" cy="283.3" r="2.55"/><circle cx="442.7" cy="347.7" r="2.55"/><circle cx="411.9" cy="362.2" r="2.55"/><circle cx="290.7" cy="308.0" r="2.55"/><circle cx="477.4" cy="353.4" r="2.55"/><circle cx="477.2" cy="342.2" r="2.55"/><circle cx="381.5" cy="288.9" r="2.55"/><circle cx="284.6" cy="250.5" r="2.55"/><circle cx="357.2" cy="360.4" r="2.55"/><circle cx="293.0" cy="253.9" r="2.55"/><circle cx="388.3" cy="392.1" r="2.55"/><circle cx="361.1" cy="334.4" r="2.55"/><circle cx="283.5" cy="238.9" r="2.55"/><circle cx="363.6" cy="353.9" r="2.55"/><circle cx="346.6" cy="328.3" r="2.55"/><circle cx="326.4" cy="271.4" r="2.55"/><circle cx="333.5" cy="302.5" r="2.55"/><circle cx="386.1" cy="386.2" r="2.55"/><circle cx="390.3" cy="326.2" r="2.55"/><circle cx="301.7" cy="254.5" r="2.55"/><circle cx="466.3" cy="279.3" r="2.55"/><circle cx="456.7" cy="312.1" r="2.55"/><circle cx="298.8" cy="210.3" r="2.55"/><circle cx="366.0" cy="272.8" r="2.55"/><circle cx="380.2" cy="285.1" r="2.55"/><circle cx="405.6" cy="301.6" r="2.55"/><circle cx="312.9" cy="204.0" r="2.55"/><circle cx="315.5" cy="237.4" r="2.55"/><circle cx="384.5" cy="317.0" r="2.55"/><circle cx="410.2" cy="337.8" r="2.55"/><circle cx="428.5" cy="293.2" r="2.55"/><circle cx="351.4" cy="288.7" r="2.55"/><circle cx="348.4" cy="300.7" r="2.55"/><circle cx="257.8" cy="273.1" r="2.55"/><circle cx="411.8" cy="351.3" r="2.55"/><circle cx="434.2" cy="245.3" r="2.55"/><circle cx="363.7" cy="304.5" r="2.55"/><circle cx="327.0" cy="279.5" r="2.55"/><circle cx="377.8" cy="280.6" r="2.55"/><circle cx="394.9" cy="245.0" r="2.55"/><circle cx="291.3" cy="209.4" r="2.55"/><circle cx="372.1" cy="326.2" r="2.55"/><circle cx="412.8" cy="314.6" r="2.55"/><circle cx="414.6" cy="351.8" r="2.55"/><circle cx="379.6" cy="258.8" r="2.55"/><circle cx="385.0" cy="314.3" r="2.55"/><circle cx="320.1" cy="340.4" r="2.55"/><circle cx="380.6" cy="296.4" r="2.55"/><circle cx="442.0" cy="306.4" r="2.55"/><circle cx="346.9" cy="321.9" r="2.55"/><circle cx="374.4" cy="277.6" r="2.55"/><circle cx="357.3" cy="319.7" r="2.55"/><circle cx="412.9" cy="329.6" r="2.55"/><circle cx="416.4" cy="342.6" r="2.55"/><circle cx="411.4" cy="311.2" r="2.55"/><circle cx="319.6" cy="364.8" r="2.55"/><circle cx="383.8" cy="355.0" r="2.55"/><circle cx="386.0" cy="247.9" r="2.55"/><circle cx="356.2" cy="322.7" r="2.55"/><circle cx="447.8" cy="377.0" r="2.55"/><circle cx="365.7" cy="302.7" r="2.55"/><circle cx="387.3" cy="297.9" r="2.55"/><circle cx="351.2" cy="336.0" r="2.55"/><circle cx="410.6" cy="320.8" r="2.55"/><circle cx="352.8" cy="227.0" r="2.55"/><circle cx="335.8" cy="272.9" r="2.55"/><circle cx="336.2" cy="253.2" r="2.55"/><circle cx="390.9" cy="260.7" r="2.55"/><circle cx="409.4" cy="323.4" r="2.55"/><circle cx="332.1" cy="246.5" r="2.55"/><circle cx="483.4" cy="359.3" r="2.55"/><circle cx="453.1" cy="442.4" r="2.55"/><circle cx="375.4" cy="301.9" r="2.55"/><circle cx="430.4" cy="365.8" r="2.55"/><circle cx="411.6" cy="272.1" r="2.55"/><circle cx="400.5" cy="248.8" r="2.55"/><circle cx="507.0" cy="310.1" r="2.55"/><circle cx="374.0" cy="304.8" r="2.55"/><circle cx="321.2" cy="284.7" r="2.55"/><circle cx="377.9" cy="212.5" r="2.55"/><circle cx="387.4" cy="290.8" r="2.55"/><circle cx="386.8" cy="340.5" r="2.55"/><circle cx="285.4" cy="242.4" r="2.55"/><circle cx="400.0" cy="340.1" r="2.55"/><circle cx="311.1" cy="284.5" r="2.55"/><circle cx="385.7" cy="302.5" r="2.55"/><circle cx="329.1" cy="150.5" r="2.55"/><circle cx="267.4" cy="260.1" r="2.55"/><circle cx="398.8" cy="271.4" r="2.55"/><circle cx="320.9" cy="229.9" r="2.55"/><circle cx="344.8" cy="250.2" r="2.55"/><circle cx="395.8" cy="345.1" r="2.55"/><circle cx="366.1" cy="229.0" r="2.55"/><circle cx="370.0" cy="296.6" r="2.55"/><circle cx="396.2" cy="327.4" r="2.55"/><circle cx="322.5" cy="229.4" r="2.55"/><circle cx="489.9" cy="288.4" r="2.55"/><circle cx="367.0" cy="303.1" r="2.55"/><circle cx="328.6" cy="334.2" r="2.55"/><circle cx="475.9" cy="288.4" r="2.55"/><circle cx="399.9" cy="216.4" r="2.55"/><circle cx="352.0" cy="241.2" r="2.55"/><circle cx="389.9" cy="317.7" r="2.55"/><circle cx="432.3" cy="312.7" r="2.55"/><circle cx="333.7" cy="317.1" r="2.55"/><circle cx="381.2" cy="288.3" r="2.55"/><circle cx="348.0" cy="275.1" r="2.55"/><circle cx="447.3" cy="449.4" r="2.55"/><circle cx="309.8" cy="244.1" r="2.55"/><circle cx="366.0" cy="257.5" r="2.55"/><circle cx="487.6" cy="345.1" r="2.55"/><circle cx="386.4" cy="335.5" r="2.55"/><circle cx="362.1" cy="282.8" r="2.55"/><circle cx="397.5" cy="271.0" r="2.55"/><circle cx="403.5" cy="292.6" r="2.55"/><circle cx="445.1" cy="351.9" r="2.55"/><circle cx="356.3" cy="247.5" r="2.55"/><circle cx="465.3" cy="325.1" r="2.55"/><circle cx="354.7" cy="250.3" r="2.55"/><circle cx="334.1" cy="274.6" r="2.55"/><circle cx="335.7" cy="325.8" r="2.55"/><circle cx="406.4" cy="332.2" r="2.55"/><circle cx="359.7" cy="225.1" r="2.55"/><circle cx="391.8" cy="363.6" r="2.55"/><circle cx="397.7" cy="245.9" r="2.55"/><circle cx="334.3" cy="315.1" r="2.55"/><circle cx="320.3" cy="263.1" r="2.55"/><circle cx="348.8" cy="323.9" r="2.55"/><circle cx="407.2" cy="318.9" r="2.55"/><circle cx="339.9" cy="277.2" r="2.55"/><circle cx="378.7" cy="338.3" r="2.55"/><circle cx="434.9" cy="286.9" r="2.55"/><circle cx="415.6" cy="302.8" r="2.55"/><circle cx="353.3" cy="341.2" r="2.55"/><circle cx="383.8" cy="345.9" r="2.55"/><circle cx="407.0" cy="329.2" r="2.55"/><circle cx="367.4" cy="307.8" r="2.55"/><circle cx="510.8" cy="328.9" r="2.55"/><circle cx="347.1" cy="259.4" r="2.55"/><circle cx="422.6" cy="314.2" r="2.55"/><circle cx="384.8" cy="293.4" r="2.55"/><circle cx="435.6" cy="288.6" r="2.55"/><circle cx="379.7" cy="278.3" r="2.55"/><circle cx="354.3" cy="221.5" r="2.55"/><circle cx="417.5" cy="373.4" r="2.55"/><circle cx="324.9" cy="272.8" r="2.55"/><circle cx="336.7" cy="274.4" r="2.55"/><circle cx="355.9" cy="271.4" r="2.55"/><circle cx="416.4" cy="349.2" r="2.55"/><circle cx="385.0" cy="278.8" r="2.55"/><circle cx="336.1" cy="273.4" r="2.55"/><circle cx="390.6" cy="290.2" r="2.55"/><circle cx="438.8" cy="314.5" r="2.55"/><circle cx="348.9" cy="316.8" r="2.55"/><circle cx="354.9" cy="273.5" r="2.55"/><circle cx="383.6" cy="327.6" r="2.55"/><circle cx="429.4" cy="355.7" r="2.55"/><circle cx="389.8" cy="297.1" r="2.55"/><circle cx="338.9" cy="383.3" r="2.55"/><circle cx="266.5" cy="220.3" r="2.55"/><circle cx="377.4" cy="299.2" r="2.55"/><circle cx="378.0" cy="301.4" r="2.55"/><circle cx="363.8" cy="298.9" r="2.55"/><circle cx="444.4" cy="304.4" r="2.55"/><circle cx="413.9" cy="350.7" r="2.55"/><circle cx="315.4" cy="246.3" r="2.55"/><circle cx="404.6" cy="358.0" r="2.55"/><circle cx="432.1" cy="403.7" r="2.55"/><circle cx="341.0" cy="329.6" r="2.55"/><circle cx="330.4" cy="328.2" r="2.55"/><circle cx="403.6" cy="331.3" r="2.55"/><circle cx="406.5" cy="357.3" r="2.55"/><circle cx="347.0" cy="346.9" r="2.55"/><circle cx="354.0" cy="256.4" r="2.55"/><circle cx="394.4" cy="296.5" r="2.55"/><circle cx="372.7" cy="293.9" r="2.55"/><circle cx="524.0" cy="391.2" r="2.55"/><circle cx="323.2" cy="212.7" r="2.55"/><circle cx="346.7" cy="335.0" r="2.55"/><circle cx="369.7" cy="207.3" r="2.55"/><circle cx="416.9" cy="262.8" r="2.55"/><circle cx="487.9" cy="407.3" r="2.55"/><circle cx="373.5" cy="330.4" r="2.55"/><circle cx="382.1" cy="297.7" r="2.55"/><circle cx="379.9" cy="339.8" r="2.55"/><circle cx="388.0" cy="335.9" r="2.55"/><circle cx="396.3" cy="221.3" r="2.55"/><circle cx="465.9" cy="386.5" r="2.55"/><circle cx="383.4" cy="343.2" r="2.55"/><circle cx="359.3" cy="306.9" r="2.55"/><circle cx="343.7" cy="237.2" r="2.55"/><circle cx="427.2" cy="343.9" r="2.55"/><circle cx="383.6" cy="374.5" r="2.55"/><circle cx="406.6" cy="245.0" r="2.55"/><circle cx="402.9" cy="336.0" r="2.55"/><circle cx="438.5" cy="366.5" r="2.55"/><circle cx="318.0" cy="224.3" r="2.55"/><circle cx="328.7" cy="303.2" r="2.55"/><circle cx="370.2" cy="311.6" r="2.55"/><circle cx="315.7" cy="264.1" r="2.55"/><circle cx="307.2" cy="219.8" r="2.55"/><circle cx="345.8" cy="292.6" r="2.55"/><circle cx="410.9" cy="351.3" r="2.55"/><circle cx="409.7" cy="263.7" r="2.55"/><circle cx="342.8" cy="265.6" r="2.55"/><circle cx="369.3" cy="345.0" r="2.55"/><circle cx="432.3" cy="387.3" r="2.55"/><circle cx="312.2" cy="268.5" r="2.55"/><circle cx="389.4" cy="266.9" r="2.55"/><circle cx="338.2" cy="322.6" r="2.55"/><circle cx="411.8" cy="377.6" r="2.55"/><circle cx="436.6" cy="356.8" r="2.55"/><circle cx="319.6" cy="272.5" r="2.55"/><circle cx="449.5" cy="399.7" r="2.55"/><circle cx="400.1" cy="356.7" r="2.55"/><circle cx="304.7" cy="267.5" r="2.55"/><circle cx="394.4" cy="351.2" r="2.55"/><circle cx="386.3" cy="251.9" r="2.55"/><circle cx="365.7" cy="296.8" r="2.55"/><circle cx="391.3" cy="357.0" r="2.55"/><circle cx="417.3" cy="315.2" r="2.55"/><circle cx="422.2" cy="249.4" r="2.55"/><circle cx="441.8" cy="313.9" r="2.55"/><circle cx="432.5" cy="347.5" r="2.55"/><circle cx="447.2" cy="377.8" r="2.55"/><circle cx="428.9" cy="341.5" r="2.55"/><circle cx="386.2" cy="340.9" r="2.55"/><circle cx="425.3" cy="340.0" r="2.55"/><circle cx="375.2" cy="222.9" r="2.55"/><circle cx="420.3" cy="337.1" r="2.55"/><circle cx="297.9" cy="271.4" r="2.55"/><circle cx="312.1" cy="309.0" r="2.55"/><circle cx="310.5" cy="259.9" r="2.55"/><circle cx="376.5" cy="322.1" r="2.55"/><circle cx="316.1" cy="289.9" r="2.55"/><circle cx="330.1" cy="272.1" r="2.55"/><circle cx="339.9" cy="286.0" r="2.55"/><circle cx="347.6" cy="218.4" r="2.55"/><circle cx="458.8" cy="317.5" r="2.55"/><circle cx="416.0" cy="285.7" r="2.55"/><circle cx="353.7" cy="301.6" r="2.55"/><circle cx="461.0" cy="355.0" r="2.55"/><circle cx="316.4" cy="342.9" r="2.55"/><circle cx="363.1" cy="229.8" r="2.55"/><circle cx="363.5" cy="206.9" r="2.55"/><circle cx="335.8" cy="291.8" r="2.55"/><circle cx="310.0" cy="270.5" r="2.55"/><circle cx="310.8" cy="278.0" r="2.55"/><circle cx="396.2" cy="354.8" r="2.55"/><circle cx="313.0" cy="247.8" r="2.55"/><circle cx="299.9" cy="182.0" r="2.55"/><circle cx="328.5" cy="255.9" r="2.55"/><circle cx="422.3" cy="324.4" r="2.55"/><circle cx="481.4" cy="369.6" r="2.55"/><circle cx="350.3" cy="281.2" r="2.55"/><circle cx="231.4" cy="230.3" r="2.55"/><circle cx="417.2" cy="361.2" r="2.55"/><circle cx="395.8" cy="246.9" r="2.55"/><circle cx="410.1" cy="284.7" r="2.55"/><circle cx="360.8" cy="320.1" r="2.55"/><circle cx="472.5" cy="344.1" r="2.55"/><circle cx="435.0" cy="417.9" r="2.55"/><circle cx="325.2" cy="324.8" r="2.55"/><circle cx="326.0" cy="294.9" r="2.55"/><circle cx="358.6" cy="204.9" r="2.55"/><circle cx="331.9" cy="257.2" r="2.55"/><circle cx="355.0" cy="311.3" r="2.55"/><circle cx="356.6" cy="288.5" r="2.55"/><circle cx="353.4" cy="244.1" r="2.55"/><circle cx="418.3" cy="250.6" r="2.55"/><circle cx="390.3" cy="319.8" r="2.55"/><circle cx="300.4" cy="346.7" r="2.55"/><circle cx="386.1" cy="291.7" r="2.55"/><circle cx="421.0" cy="288.5" r="2.55"/><circle cx="355.1" cy="293.4" r="2.55"/><circle cx="300.9" cy="272.1" r="2.55"/><circle cx="363.1" cy="303.5" r="2.55"/><circle cx="356.9" cy="235.4" r="2.55"/><circle cx="435.7" cy="325.6" r="2.55"/><circle cx="376.8" cy="275.4" r="2.55"/><circle cx="337.6" cy="277.2" r="2.55"/><circle cx="316.3" cy="193.2" r="2.55"/><circle cx="390.0" cy="253.1" r="2.55"/><circle cx="452.2" cy="369.6" r="2.55"/><circle cx="392.9" cy="302.2" r="2.55"/><circle cx="373.6" cy="333.1" r="2.55"/><circle cx="426.4" cy="214.9" r="2.55"/><circle cx="410.9" cy="310.6" r="2.55"/><circle cx="413.7" cy="326.6" r="2.55"/><circle cx="329.6" cy="259.9" r="2.55"/><circle cx="336.3" cy="257.9" r="2.55"/><circle cx="309.9" cy="224.4" r="2.55"/><circle cx="389.3" cy="328.4" r="2.55"/><circle cx="363.2" cy="330.0" r="2.55"/><circle cx="299.4" cy="292.0" r="2.55"/><circle cx="395.8" cy="313.8" r="2.55"/><circle cx="302.9" cy="239.6" r="2.55"/><circle cx="326.5" cy="221.2" r="2.55"/><circle cx="379.1" cy="292.2" r="2.55"/><circle cx="327.0" cy="239.3" r="2.55"/><circle cx="275.2" cy="208.4" r="2.55"/><circle cx="270.5" cy="256.2" r="2.55"/><circle cx="390.9" cy="292.0" r="2.55"/><circle cx="395.3" cy="316.4" r="2.55"/><circle cx="360.4" cy="285.5" r="2.55"/><circle cx="432.2" cy="350.6" r="2.55"/><circle cx="401.8" cy="274.0" r="2.55"/><circle cx="417.3" cy="368.1" r="2.55"/><circle cx="318.6" cy="289.7" r="2.55"/><circle cx="424.3" cy="337.8" r="2.55"/><circle cx="293.8" cy="208.2" r="2.55"/><circle cx="291.9" cy="229.0" r="2.55"/><circle cx="380.5" cy="276.8" r="2.55"/><circle cx="415.6" cy="326.0" r="2.55"/><circle cx="446.0" cy="318.3" r="2.55"/><circle cx="419.2" cy="286.1" r="2.55"/><circle cx="393.5" cy="302.7" r="2.55"/><circle cx="375.6" cy="296.2" r="2.55"/><circle cx="424.5" cy="309.0" r="2.55"/><circle cx="400.0" cy="361.0" r="2.55"/><circle cx="297.9" cy="303.8" r="2.55"/><circle cx="392.4" cy="268.9" r="2.55"/><circle cx="411.6" cy="325.3" r="2.55"/><circle cx="323.4" cy="290.7" r="2.55"/><circle cx="380.3" cy="344.9" r="2.55"/><circle cx="324.4" cy="220.2" r="2.55"/><circle cx="377.7" cy="277.4" r="2.55"/><circle cx="300.5" cy="286.6" r="2.55"/><circle cx="345.1" cy="278.6" r="2.55"/><circle cx="331.6" cy="289.4" r="2.55"/><circle cx="382.6" cy="265.7" r="2.55"/><circle cx="434.8" cy="396.1" r="2.55"/><circle cx="384.3" cy="346.0" r="2.55"/><circle cx="377.9" cy="266.8" r="2.55"/><circle cx="318.4" cy="364.2" r="2.55"/><circle cx="356.1" cy="339.5" r="2.55"/><circle cx="420.4" cy="259.7" r="2.55"/><circle cx="308.5" cy="210.1" r="2.55"/><circle cx="385.8" cy="300.8" r="2.55"/><circle cx="353.3" cy="257.7" r="2.55"/><circle cx="282.3" cy="281.6" r="2.55"/><circle cx="404.7" cy="360.2" r="2.55"/><circle cx="370.1" cy="249.9" r="2.55"/><circle cx="404.9" cy="272.6" r="2.55"/><circle cx="330.1" cy="293.5" r="2.55"/><circle cx="434.8" cy="335.3" r="2.55"/><circle cx="467.0" cy="322.4" r="2.55"/><circle cx="436.0" cy="302.6" r="2.55"/><circle cx="262.2" cy="270.1" r="2.55"/><circle cx="403.6" cy="334.0" r="2.55"/><circle cx="307.0" cy="267.8" r="2.55"/><circle cx="404.8" cy="267.5" r="2.55"/><circle cx="485.4" cy="357.4" r="2.55"/><circle cx="339.2" cy="283.9" r="2.55"/><circle cx="291.6" cy="282.8" r="2.55"/><circle cx="363.9" cy="304.3" r="2.55"/><circle cx="391.1" cy="290.8" r="2.55"/><circle cx="472.6" cy="359.4" r="2.55"/><circle cx="361.6" cy="328.0" r="2.55"/><circle cx="457.2" cy="400.4" r="2.55"/><circle cx="404.3" cy="354.8" r="2.55"/><circle cx="367.9" cy="274.8" r="2.55"/><circle cx="411.5" cy="297.4" r="2.55"/><circle cx="362.7" cy="293.2" r="2.55"/><circle cx="404.2" cy="274.7" r="2.55"/><circle cx="406.8" cy="351.9" r="2.55"/><circle cx="404.8" cy="343.2" r="2.55"/><circle cx="412.9" cy="247.4" r="2.55"/><circle cx="346.9" cy="315.1" r="2.55"/><circle cx="374.0" cy="324.0" r="2.55"/><circle cx="348.7" cy="280.0" r="2.55"/><circle cx="413.1" cy="364.4" r="2.55"/><circle cx="421.6" cy="338.2" r="2.55"/><circle cx="336.3" cy="334.1" r="2.55"/><circle cx="358.9" cy="248.3" r="2.55"/><circle cx="335.5" cy="327.7" r="2.55"/><circle cx="354.8" cy="335.9" r="2.55"/><circle cx="404.0" cy="301.4" r="2.55"/><circle cx="369.6" cy="216.0" r="2.55"/><circle cx="386.6" cy="231.3" r="2.55"/><circle cx="356.3" cy="297.8" r="2.55"/><circle cx="326.5" cy="270.4" r="2.55"/><circle cx="353.0" cy="319.5" r="2.55"/><circle cx="448.5" cy="342.8" r="2.55"/><circle cx="387.4" cy="310.5" r="2.55"/><circle cx="428.7" cy="390.9" r="2.55"/><circle cx="414.6" cy="323.5" r="2.55"/><circle cx="393.4" cy="273.5" r="2.55"/><circle cx="443.8" cy="351.6" r="2.55"/><circle cx="347.4" cy="282.2" r="2.55"/><circle cx="324.9" cy="295.2" r="2.55"/><circle cx="315.1" cy="173.2" r="2.55"/><circle cx="427.1" cy="302.4" r="2.55"/><circle cx="332.0" cy="268.6" r="2.55"/><circle cx="331.8" cy="311.5" r="2.55"/><circle cx="355.1" cy="259.5" r="2.55"/><circle cx="392.5" cy="359.2" r="2.55"/><circle cx="403.8" cy="375.7" r="2.55"/><circle cx="364.3" cy="316.6" r="2.55"/><circle cx="393.2" cy="372.5" r="2.55"/><circle cx="386.5" cy="282.9" r="2.55"/><circle cx="374.8" cy="291.2" r="2.55"/><circle cx="387.6" cy="424.5" r="2.55"/><circle cx="294.3" cy="239.9" r="2.55"/><circle cx="323.3" cy="212.4" r="2.55"/><circle cx="357.7" cy="264.0" r="2.55"/><circle cx="314.4" cy="208.4" r="2.55"/><circle cx="409.4" cy="339.8" r="2.55"/><circle cx="466.6" cy="424.0" r="2.55"/><circle cx="440.3" cy="324.0" r="2.55"/><circle cx="336.0" cy="230.0" r="2.55"/><circle cx="347.1" cy="299.0" r="2.55"/><circle cx="320.0" cy="308.9" r="2.55"/><circle cx="423.5" cy="354.8" r="2.55"/><circle cx="322.0" cy="283.8" r="2.55"/><circle cx="276.6" cy="211.3" r="2.55"/><circle cx="308.9" cy="246.6" r="2.55"/><circle cx="342.3" cy="269.5" r="2.55"/><circle cx="512.2" cy="356.2" r="2.55"/><circle cx="366.9" cy="357.6" r="2.55"/><circle cx="341.9" cy="271.5" r="2.55"/><circle cx="416.9" cy="320.5" r="2.55"/><circle cx="336.7" cy="340.0" r="2.55"/><circle cx="369.9" cy="300.1" r="2.55"/><circle cx="425.3" cy="326.6" r="2.55"/><circle cx="342.9" cy="258.0" r="2.55"/><circle cx="329.6" cy="269.0" r="2.55"/><circle cx="420.4" cy="308.9" r="2.55"/><circle cx="261.0" cy="297.7" r="2.55"/><circle cx="438.6" cy="351.5" r="2.55"/><circle cx="423.6" cy="352.5" r="2.55"/><circle cx="369.6" cy="304.7" r="2.55"/><circle cx="351.9" cy="310.7" r="2.55"/><circle cx="338.2" cy="323.0" r="2.55"/><circle cx="391.7" cy="372.3" r="2.55"/><circle cx="376.7" cy="266.5" r="2.55"/><circle cx="307.6" cy="262.8" r="2.55"/><circle cx="325.5" cy="364.8" r="2.55"/><circle cx="380.8" cy="266.4" r="2.55"/><circle cx="433.0" cy="338.2" r="2.55"/><circle cx="327.7" cy="241.1" r="2.55"/><circle cx="335.5" cy="185.7" r="2.55"/><circle cx="382.5" cy="314.4" r="2.55"/><circle cx="234.4" cy="293.4" r="2.55"/><circle cx="303.8" cy="254.6" r="2.55"/><circle cx="336.4" cy="284.9" r="2.55"/><circle cx="509.4" cy="388.6" r="2.55"/><circle cx="310.5" cy="216.6" r="2.55"/><circle cx="450.4" cy="355.2" r="2.55"/><circle cx="386.7" cy="224.7" r="2.55"/><circle cx="411.8" cy="297.9" r="2.55"/><circle cx="343.0" cy="271.8" r="2.55"/><circle cx="371.0" cy="279.6" r="2.55"/><circle cx="309.0" cy="158.2" r="2.55"/><circle cx="372.4" cy="348.0" r="2.55"/><circle cx="454.3" cy="331.4" r="2.55"/><circle cx="342.4" cy="305.3" r="2.55"/><circle cx="287.9" cy="248.0" r="2.55"/><circle cx="483.7" cy="407.3" r="2.55"/><circle cx="375.6" cy="319.8" r="2.55"/><circle cx="379.5" cy="311.6" r="2.55"/><circle cx="365.1" cy="294.9" r="2.55"/><circle cx="348.5" cy="225.0" r="2.55"/><circle cx="292.5" cy="307.4" r="2.55"/><circle cx="440.3" cy="360.3" r="2.55"/><circle cx="369.1" cy="368.4" r="2.55"/><circle cx="302.0" cy="273.5" r="2.55"/><circle cx="367.6" cy="283.8" r="2.55"/><circle cx="435.6" cy="358.8" r="2.55"/><circle cx="446.8" cy="325.9" r="2.55"/><circle cx="393.5" cy="313.0" r="2.55"/><circle cx="357.9" cy="375.5" r="2.55"/><circle cx="325.7" cy="307.8" r="2.55"/><circle cx="360.7" cy="264.5" r="2.55"/><circle cx="386.6" cy="274.7" r="2.55"/><circle cx="381.9" cy="270.0" r="2.55"/><circle cx="336.6" cy="246.7" r="2.55"/><circle cx="403.3" cy="312.0" r="2.55"/><circle cx="342.2" cy="309.1" r="2.55"/><circle cx="354.8" cy="333.7" r="2.55"/><circle cx="319.5" cy="227.6" r="2.55"/><circle cx="345.1" cy="243.6" r="2.55"/><circle cx="344.2" cy="193.1" r="2.55"/><circle cx="405.4" cy="325.6" r="2.55"/><circle cx="328.0" cy="235.3" r="2.55"/><circle cx="375.4" cy="338.0" r="2.55"/><circle cx="380.1" cy="320.6" r="2.55"/><circle cx="417.7" cy="205.0" r="2.55"/><circle cx="424.6" cy="314.9" r="2.55"/><circle cx="345.9" cy="244.8" r="2.55"/><circle cx="353.2" cy="326.5" r="2.55"/><circle cx="382.7" cy="330.4" r="2.55"/><circle cx="401.4" cy="303.6" r="2.55"/><circle cx="386.2" cy="375.5" r="2.55"/><circle cx="369.3" cy="312.9" r="2.55"/><circle cx="368.0" cy="344.4" r="2.55"/><circle cx="422.7" cy="361.5" r="2.55"/><circle cx="344.9" cy="277.2" r="2.55"/><circle cx="369.3" cy="242.0" r="2.55"/><circle cx="425.6" cy="320.9" r="2.55"/><circle cx="466.9" cy="340.8" r="2.55"/><circle cx="341.9" cy="307.0" r="2.55"/><circle cx="392.6" cy="304.6" r="2.55"/><circle cx="380.1" cy="375.8" r="2.55"/><circle cx="441.1" cy="322.6" r="2.55"/><circle cx="324.9" cy="280.9" r="2.55"/><circle cx="461.0" cy="286.0" r="2.55"/><circle cx="394.8" cy="352.3" r="2.55"/><circle cx="501.2" cy="400.0" r="2.55"/><circle cx="485.9" cy="335.9" r="2.55"/><circle cx="403.0" cy="305.1" r="2.55"/><circle cx="366.6" cy="261.5" r="2.55"/><circle cx="422.1" cy="292.8" r="2.55"/><circle cx="301.7" cy="228.9" r="2.55"/><circle cx="430.9" cy="403.1" r="2.55"/><circle cx="494.7" cy="303.1" r="2.55"/><circle cx="273.6" cy="256.8" r="2.55"/><circle cx="391.9" cy="306.7" r="2.55"/><circle cx="433.0" cy="296.6" r="2.55"/><circle cx="340.0" cy="299.9" r="2.55"/><circle cx="370.7" cy="257.6" r="2.55"/><circle cx="329.8" cy="303.7" r="2.55"/><circle cx="445.6" cy="332.8" r="2.55"/><circle cx="349.3" cy="303.2" r="2.55"/><circle cx="391.9" cy="300.7" r="2.55"/><circle cx="344.3" cy="330.3" r="2.55"/><circle cx="370.8" cy="346.4" r="2.55"/><circle cx="397.4" cy="279.1" r="2.55"/><circle cx="369.8" cy="325.9" r="2.55"/><circle cx="413.1" cy="416.1" r="2.55"/><circle cx="402.9" cy="409.9" r="2.55"/><circle cx="368.8" cy="323.8" r="2.55"/><circle cx="381.4" cy="348.4" r="2.55"/><circle cx="270.8" cy="270.6" r="2.55"/><circle cx="309.9" cy="295.3" r="2.55"/><circle cx="393.1" cy="299.0" r="2.55"/><circle cx="436.2" cy="290.6" r="2.55"/><circle cx="340.2" cy="264.7" r="2.55"/><circle cx="443.8" cy="317.2" r="2.55"/><circle cx="447.7" cy="334.9" r="2.55"/><circle cx="370.8" cy="325.1" r="2.55"/><circle cx="350.7" cy="257.4" r="2.55"/><circle cx="398.0" cy="312.0" r="2.55"/><circle cx="341.9" cy="322.8" r="2.55"/><circle cx="410.9" cy="305.5" r="2.55"/><circle cx="386.3" cy="277.5" r="2.55"/><circle cx="349.0" cy="240.8" r="2.55"/><circle cx="324.2" cy="232.6" r="2.55"/><circle cx="410.6" cy="348.4" r="2.55"/><circle cx="366.2" cy="298.2" r="2.55"/><circle cx="419.7" cy="290.6" r="2.55"/><circle cx="439.3" cy="329.0" r="2.55"/><circle cx="330.9" cy="252.7" r="2.55"/><circle cx="435.8" cy="381.9" r="2.55"/><circle cx="350.6" cy="328.6" r="2.55"/><circle cx="422.3" cy="354.5" r="2.55"/><circle cx="483.1" cy="322.4" r="2.55"/><circle cx="369.1" cy="312.9" r="2.55"/><circle cx="356.9" cy="296.3" r="2.55"/><circle cx="356.6" cy="271.9" r="2.55"/><circle cx="343.4" cy="282.4" r="2.55"/><circle cx="329.0" cy="310.7" r="2.55"/><circle cx="358.7" cy="282.6" r="2.55"/><circle cx="409.8" cy="360.6" r="2.55"/><circle cx="384.8" cy="309.3" r="2.55"/><circle cx="340.1" cy="326.6" r="2.55"/><circle cx="314.8" cy="289.7" r="2.55"/><circle cx="385.1" cy="291.6" r="2.55"/><circle cx="376.4" cy="296.3" r="2.55"/><circle cx="413.2" cy="284.7" r="2.55"/><circle cx="392.4" cy="306.1" r="2.55"/><circle cx="339.3" cy="367.0" r="2.55"/><circle cx="370.2" cy="341.5" r="2.55"/><circle cx="455.2" cy="314.3" r="2.55"/><circle cx="387.9" cy="314.5" r="2.55"/><circle cx="346.2" cy="317.5" r="2.55"/><circle cx="328.0" cy="282.7" r="2.55"/><circle cx="371.8" cy="285.8" r="2.55"/><circle cx="343.5" cy="374.0" r="2.55"/><circle cx="339.3" cy="215.6" r="2.55"/><circle cx="383.1" cy="364.1" r="2.55"/><circle cx="395.3" cy="323.4" r="2.55"/><circle cx="430.3" cy="302.2" r="2.55"/><circle cx="393.9" cy="306.7" r="2.55"/><circle cx="390.2" cy="297.2" r="2.55"/><circle cx="329.9" cy="292.1" r="2.55"/><circle cx="312.4" cy="319.7" r="2.55"/><circle cx="472.2" cy="334.9" r="2.55"/><circle cx="362.4" cy="265.3" r="2.55"/><circle cx="373.4" cy="303.3" r="2.55"/><circle cx="340.9" cy="251.9" r="2.55"/><circle cx="427.7" cy="340.6" r="2.55"/><circle cx="384.0" cy="353.4" r="2.55"/><circle cx="311.3" cy="280.8" r="2.55"/><circle cx="391.0" cy="249.3" r="2.55"/><circle cx="425.0" cy="366.2" r="2.55"/><circle cx="388.7" cy="291.4" r="2.55"/><circle cx="332.3" cy="301.7" r="2.55"/><circle cx="307.9" cy="307.6" r="2.55"/><circle cx="434.5" cy="329.7" r="2.55"/><circle cx="384.0" cy="270.0" r="2.55"/><circle cx="323.0" cy="287.1" r="2.55"/><circle cx="387.2" cy="301.8" r="2.55"/><circle cx="360.3" cy="278.8" r="2.55"/><circle cx="251.1" cy="212.3" r="2.55"/><circle cx="448.8" cy="372.1" r="2.55"/><circle cx="398.4" cy="349.8" r="2.55"/><circle cx="298.2" cy="205.4" r="2.55"/><circle cx="416.4" cy="301.4" r="2.55"/><circle cx="425.6" cy="381.3" r="2.55"/><circle cx="409.0" cy="345.5" r="2.55"/><circle cx="354.8" cy="298.8" r="2.55"/><circle cx="401.6" cy="265.5" r="2.55"/><circle cx="323.9" cy="278.9" r="2.55"/><circle cx="395.3" cy="333.6" r="2.55"/><circle cx="390.7" cy="359.5" r="2.55"/><circle cx="461.3" cy="383.2" r="2.55"/><circle cx="365.6" cy="276.9" r="2.55"/><circle cx="376.1" cy="265.2" r="2.55"/><circle cx="331.5" cy="229.1" r="2.55"/><circle cx="368.5" cy="303.6" r="2.55"/><circle cx="379.9" cy="368.3" r="2.55"/><circle cx="429.6" cy="203.0" r="2.55"/><circle cx="305.7" cy="212.3" r="2.55"/><circle cx="383.0" cy="337.9" r="2.55"/><circle cx="442.5" cy="297.5" r="2.55"/><circle cx="347.2" cy="284.9" r="2.55"/><circle cx="350.0" cy="311.9" r="2.55"/><circle cx="390.1" cy="265.3" r="2.55"/><circle cx="367.9" cy="242.2" r="2.55"/><circle cx="353.9" cy="331.0" r="2.55"/><circle cx="375.2" cy="300.5" r="2.55"/><circle cx="382.2" cy="304.5" r="2.55"/><circle cx="393.5" cy="290.0" r="2.55"/><circle cx="409.0" cy="292.6" r="2.55"/><circle cx="339.5" cy="298.9" r="2.55"/><circle cx="426.3" cy="421.4" r="2.55"/><circle cx="435.8" cy="329.4" r="2.55"/><circle cx="412.3" cy="335.2" r="2.55"/><circle cx="354.0" cy="312.0" r="2.55"/><circle cx="285.0" cy="251.4" r="2.55"/><circle cx="361.6" cy="317.4" r="2.55"/><circle cx="365.9" cy="350.4" r="2.55"/><circle cx="395.1" cy="228.1" r="2.55"/><circle cx="417.7" cy="336.0" r="2.55"/><circle cx="403.3" cy="308.3" r="2.55"/><circle cx="371.9" cy="276.7" r="2.55"/><circle cx="398.2" cy="252.2" r="2.55"/><circle cx="386.9" cy="250.4" r="2.55"/><circle cx="321.5" cy="273.0" r="2.55"/><circle cx="487.2" cy="388.5" r="2.55"/><circle cx="373.2" cy="186.4" r="2.55"/><circle cx="380.8" cy="357.0" r="2.55"/><circle cx="430.4" cy="348.1" r="2.55"/><circle cx="297.3" cy="299.6" r="2.55"/><circle cx="339.1" cy="310.0" r="2.55"/><circle cx="367.1" cy="308.5" r="2.55"/><circle cx="376.4" cy="293.9" r="2.55"/><circle cx="465.2" cy="397.2" r="2.55"/><circle cx="322.9" cy="277.8" r="2.55"/><circle cx="411.4" cy="363.4" r="2.55"/><circle cx="283.2" cy="194.9" r="2.55"/><circle cx="406.8" cy="287.4" r="2.55"/><circle cx="340.4" cy="252.4" r="2.55"/><circle cx="449.8" cy="311.1" r="2.55"/><circle cx="295.5" cy="263.8" r="2.55"/><circle cx="396.4" cy="284.0" r="2.55"/><circle cx="408.0" cy="388.9" r="2.55"/><circle cx="345.2" cy="187.1" r="2.55"/><circle cx="352.6" cy="296.7" r="2.55"/><circle cx="357.6" cy="303.1" r="2.55"/><circle cx="377.1" cy="264.3" r="2.55"/><circle cx="418.8" cy="339.7" r="2.55"/><circle cx="401.9" cy="285.9" r="2.55"/><circle cx="389.9" cy="286.3" r="2.55"/><circle cx="373.9" cy="335.6" r="2.55"/><circle cx="502.2" cy="280.2" r="2.55"/><circle cx="342.9" cy="304.5" r="2.55"/><circle cx="359.7" cy="322.7" r="2.55"/><circle cx="318.1" cy="282.1" r="2.55"/><circle cx="362.9" cy="326.5" r="2.55"/><circle cx="376.8" cy="276.0" r="2.55"/><circle cx="380.2" cy="354.8" r="2.55"/><circle cx="485.5" cy="343.5" r="2.55"/><circle cx="340.4" cy="298.9" r="2.55"/><circle cx="489.4" cy="313.3" r="2.55"/><circle cx="449.7" cy="409.5" r="2.55"/><circle cx="394.7" cy="314.6" r="2.55"/><circle cx="361.4" cy="326.9" r="2.55"/><circle cx="361.6" cy="254.6" r="2.55"/><circle cx="433.7" cy="276.2" r="2.55"/><circle cx="392.7" cy="418.2" r="2.55"/><circle cx="344.8" cy="288.4" r="2.55"/><circle cx="407.9" cy="271.6" r="2.55"/><circle cx="299.0" cy="220.5" r="2.55"/><circle cx="473.2" cy="410.4" r="2.55"/><circle cx="346.8" cy="311.8" r="2.55"/><circle cx="364.2" cy="237.1" r="2.55"/><circle cx="341.1" cy="192.2" r="2.55"/><circle cx="381.5" cy="234.1" r="2.55"/><circle cx="330.6" cy="280.0" r="2.55"/><circle cx="376.6" cy="309.7" r="2.55"/><circle cx="408.4" cy="299.5" r="2.55"/><circle cx="412.1" cy="256.7" r="2.55"/><circle cx="428.6" cy="354.8" r="2.55"/><circle cx="363.7" cy="304.2" r="2.55"/><circle cx="481.7" cy="229.4" r="2.55"/><circle cx="308.8" cy="220.5" r="2.55"/><circle cx="409.8" cy="305.2" r="2.55"/><circle cx="431.8" cy="351.0" r="2.55"/><circle cx="451.3" cy="377.8" r="2.55"/><circle cx="383.6" cy="294.1" r="2.55"/><circle cx="294.9" cy="265.5" r="2.55"/><circle cx="315.7" cy="184.2" r="2.55"/><circle cx="413.9" cy="298.9" r="2.55"/><circle cx="401.3" cy="319.6" r="2.55"/><circle cx="356.4" cy="298.3" r="2.55"/><circle cx="389.1" cy="323.5" r="2.55"/><circle cx="388.1" cy="336.8" r="2.55"/><circle cx="376.5" cy="389.8" r="2.55"/><circle cx="428.7" cy="365.3" r="2.55"/><circle cx="371.2" cy="319.8" r="2.55"/><circle cx="397.1" cy="259.2" r="2.55"/><circle cx="401.2" cy="291.3" r="2.55"/><circle cx="479.0" cy="392.1" r="2.55"/><circle cx="370.8" cy="393.9" r="2.55"/><circle cx="361.4" cy="301.7" r="2.55"/><circle cx="469.0" cy="363.5" r="2.55"/><circle cx="337.5" cy="288.4" r="2.55"/><circle cx="429.4" cy="346.0" r="2.55"/><circle cx="346.6" cy="253.0" r="2.55"/><circle cx="416.7" cy="300.5" r="2.55"/><circle cx="308.9" cy="308.3" r="2.55"/><circle cx="326.7" cy="312.2" r="2.55"/><circle cx="452.3" cy="322.8" r="2.55"/><circle cx="335.1" cy="252.7" r="2.55"/><circle cx="431.5" cy="269.6" r="2.55"/><circle cx="426.4" cy="315.2" r="2.55"/><circle cx="382.7" cy="255.8" r="2.55"/><circle cx="314.8" cy="333.3" r="2.55"/><circle cx="403.0" cy="328.5" r="2.55"/><circle cx="425.9" cy="304.2" r="2.55"/><circle cx="293.6" cy="299.7" r="2.55"/><circle cx="291.2" cy="245.6" r="2.55"/><circle cx="439.8" cy="341.7" r="2.55"/><circle cx="359.1" cy="283.0" r="2.55"/><circle cx="361.5" cy="225.6" r="2.55"/><circle cx="403.2" cy="321.6" r="2.55"/><circle cx="400.5" cy="293.5" r="2.55"/><circle cx="366.0" cy="310.7" r="2.55"/><circle cx="443.9" cy="350.1" r="2.55"/><circle cx="311.5" cy="298.4" r="2.55"/><circle cx="405.0" cy="327.0" r="2.55"/><circle cx="350.9" cy="273.8" r="2.55"/><circle cx="326.7" cy="287.1" r="2.55"/><circle cx="358.4" cy="248.6" r="2.55"/><circle cx="405.1" cy="341.0" r="2.55"/><circle cx="331.4" cy="259.7" r="2.55"/><circle cx="492.2" cy="364.4" r="2.55"/><circle cx="386.3" cy="266.8" r="2.55"/><circle cx="405.8" cy="354.7" r="2.55"/><circle cx="377.0" cy="327.2" r="2.55"/><circle cx="406.4" cy="389.5" r="2.55"/><circle cx="349.7" cy="254.6" r="2.55"/><circle cx="284.3" cy="265.7" r="2.55"/><circle cx="343.6" cy="277.4" r="2.55"/><circle cx="305.2" cy="293.0" r="2.55"/><circle cx="280.6" cy="250.9" r="2.55"/><circle cx="414.9" cy="285.9" r="2.55"/><circle cx="315.7" cy="259.9" r="2.55"/><circle cx="354.2" cy="204.4" r="2.55"/><circle cx="395.1" cy="277.2" r="2.55"/><circle cx="464.6" cy="322.7" r="2.55"/><circle cx="424.4" cy="320.4" r="2.55"/><circle cx="290.6" cy="251.1" r="2.55"/><circle cx="314.0" cy="291.6" r="2.55"/><circle cx="375.9" cy="316.1" r="2.55"/><circle cx="268.4" cy="161.6" r="2.55"/><circle cx="373.0" cy="345.6" r="2.55"/><circle cx="308.4" cy="346.7" r="2.55"/><circle cx="361.1" cy="207.3" r="2.55"/><circle cx="339.2" cy="205.8" r="2.55"/><circle cx="329.4" cy="170.3" r="2.55"/><circle cx="382.0" cy="306.5" r="2.55"/><circle cx="421.7" cy="314.1" r="2.55"/><circle cx="390.3" cy="253.6" r="2.55"/><circle cx="328.0" cy="345.5" r="2.55"/><circle cx="401.4" cy="267.4" r="2.55"/><circle cx="390.9" cy="298.9" r="2.55"/><circle cx="438.7" cy="387.2" r="2.55"/><circle cx="402.9" cy="244.0" r="2.55"/><circle cx="526.6" cy="351.3" r="2.55"/><circle cx="360.6" cy="244.3" r="2.55"/><circle cx="360.1" cy="249.1" r="2.55"/><circle cx="416.6" cy="392.4" r="2.55"/><circle cx="384.6" cy="270.8" r="2.55"/><circle cx="443.4" cy="354.8" r="2.55"/><circle cx="341.1" cy="311.4" r="2.55"/><circle cx="475.3" cy="368.8" r="2.55"/><circle cx="359.2" cy="344.5" r="2.55"/><circle cx="424.3" cy="283.8" r="2.55"/><circle cx="307.5" cy="190.3" r="2.55"/><circle cx="311.9" cy="268.8" r="2.55"/><circle cx="433.2" cy="395.7" r="2.55"/><circle cx="289.9" cy="251.6" r="2.55"/><circle cx="330.2" cy="259.2" r="2.55"/><circle cx="358.5" cy="261.0" r="2.55"/><circle cx="348.1" cy="347.7" r="2.55"/><circle cx="331.6" cy="187.4" r="2.55"/><circle cx="479.6" cy="367.9" r="2.55"/><circle cx="461.9" cy="275.8" r="2.55"/><circle cx="445.6" cy="313.0" r="2.55"/><circle cx="384.5" cy="276.8" r="2.55"/><circle cx="367.5" cy="318.2" r="2.55"/><circle cx="309.6" cy="285.7" r="2.55"/><circle cx="352.1" cy="258.4" r="2.55"/><circle cx="473.5" cy="335.7" r="2.55"/><circle cx="367.1" cy="226.3" r="2.55"/><circle cx="341.3" cy="240.7" r="2.55"/><circle cx="411.5" cy="271.6" r="2.55"/><circle cx="411.5" cy="297.8" r="2.55"/><circle cx="433.3" cy="385.3" r="2.55"/><circle cx="338.9" cy="279.3" r="2.55"/><circle cx="459.2" cy="208.8" r="2.55"/><circle cx="290.3" cy="293.8" r="2.55"/><circle cx="375.8" cy="320.3" r="2.55"/><circle cx="426.1" cy="329.9" r="2.55"/><circle cx="409.4" cy="288.2" r="2.55"/><circle cx="404.9" cy="344.7" r="2.55"/><circle cx="364.7" cy="314.2" r="2.55"/><circle cx="379.2" cy="241.8" r="2.55"/><circle cx="400.4" cy="286.1" r="2.55"/><circle cx="405.3" cy="293.0" r="2.55"/><circle cx="402.4" cy="285.0" r="2.55"/><circle cx="389.2" cy="360.6" r="2.55"/><circle cx="421.7" cy="308.0" r="2.55"/><circle cx="342.8" cy="276.6" r="2.55"/><circle cx="338.6" cy="256.6" r="2.55"/><circle cx="370.1" cy="331.8" r="2.55"/><circle cx="385.3" cy="335.4" r="2.55"/><circle cx="278.1" cy="218.3" r="2.55"/><circle cx="469.1" cy="346.9" r="2.55"/><circle cx="328.8" cy="327.7" r="2.55"/><circle cx="388.8" cy="315.7" r="2.55"/><circle cx="281.8" cy="267.8" r="2.55"/><circle cx="307.7" cy="243.6" r="2.55"/><circle cx="352.7" cy="296.2" r="2.55"/><circle cx="328.9" cy="217.0" r="2.55"/><circle cx="325.1" cy="296.9" r="2.55"/><circle cx="359.4" cy="297.2" r="2.55"/><circle cx="393.6" cy="331.3" r="2.55"/><circle cx="385.1" cy="309.8" r="2.55"/><circle cx="452.3" cy="248.7" r="2.55"/><circle cx="382.2" cy="343.9" r="2.55"/><circle cx="313.8" cy="230.1" r="2.55"/><circle cx="411.3" cy="381.0" r="2.55"/><circle cx="417.4" cy="292.8" r="2.55"/><circle cx="382.0" cy="302.8" r="2.55"/><circle cx="332.0" cy="281.8" r="2.55"/><circle cx="401.5" cy="408.1" r="2.55"/><circle cx="402.8" cy="333.6" r="2.55"/><circle cx="361.9" cy="293.4" r="2.55"/><circle cx="441.5" cy="413.2" r="2.55"/><circle cx="376.3" cy="242.5" r="2.55"/><circle cx="427.6" cy="252.8" r="2.55"/><circle cx="306.6" cy="219.0" r="2.55"/><circle cx="355.0" cy="323.3" r="2.55"/><circle cx="348.0" cy="304.9" r="2.55"/><circle cx="417.6" cy="310.6" r="2.55"/><circle cx="409.4" cy="339.6" r="2.55"/><circle cx="389.9" cy="299.8" r="2.55"/><circle cx="397.7" cy="359.9" r="2.55"/><circle cx="348.6" cy="272.9" r="2.55"/><circle cx="350.9" cy="273.3" r="2.55"/><circle cx="393.6" cy="292.9" r="2.55"/><circle cx="362.6" cy="262.0" r="2.55"/><circle cx="328.5" cy="206.3" r="2.55"/><circle cx="320.5" cy="326.5" r="2.55"/><circle cx="338.4" cy="331.4" r="2.55"/><circle cx="316.2" cy="248.4" r="2.55"/><circle cx="396.0" cy="350.9" r="2.55"/><circle cx="444.3" cy="466.1" r="2.55"/><circle cx="373.2" cy="233.2" r="2.55"/><circle cx="349.5" cy="301.2" r="2.55"/><circle cx="372.5" cy="288.1" r="2.55"/><circle cx="417.7" cy="299.4" r="2.55"/><circle cx="469.8" cy="362.9" r="2.55"/><circle cx="466.2" cy="329.5" r="2.55"/><circle cx="316.3" cy="216.0" r="2.55"/><circle cx="413.3" cy="281.9" r="2.55"/><circle cx="357.3" cy="277.9" r="2.55"/><circle cx="416.0" cy="339.7" r="2.55"/><circle cx="406.2" cy="288.7" r="2.55"/><circle cx="364.5" cy="342.8" r="2.55"/><circle cx="362.1" cy="247.1" r="2.55"/><circle cx="366.8" cy="268.5" r="2.55"/><circle cx="294.5" cy="298.3" r="2.55"/><circle cx="316.3" cy="286.2" r="2.55"/><circle cx="420.7" cy="305.8" r="2.55"/><circle cx="347.6" cy="253.8" r="2.55"/><circle cx="316.1" cy="331.5" r="2.55"/><circle cx="370.7" cy="311.8" r="2.55"/><circle cx="378.3" cy="246.9" r="2.55"/><circle cx="422.5" cy="327.8" r="2.55"/><circle cx="395.8" cy="253.4" r="2.55"/><circle cx="486.3" cy="325.9" r="2.55"/><circle cx="362.0" cy="379.4" r="2.55"/><circle cx="329.8" cy="276.7" r="2.55"/><circle cx="360.7" cy="261.0" r="2.55"/><circle cx="400.1" cy="353.2" r="2.55"/><circle cx="423.0" cy="309.0" r="2.55"/><circle cx="384.0" cy="278.4" r="2.55"/><circle cx="346.7" cy="279.7" r="2.55"/><circle cx="371.0" cy="264.9" r="2.55"/><circle cx="386.5" cy="269.0" r="2.55"/><circle cx="361.5" cy="288.1" r="2.55"/><circle cx="339.8" cy="344.5" r="2.55"/><circle cx="340.4" cy="295.6" r="2.55"/><circle cx="411.8" cy="308.9" r="2.55"/><circle cx="341.2" cy="250.4" r="2.55"/><circle cx="338.2" cy="341.7" r="2.55"/><circle cx="482.3" cy="365.3" r="2.55"/><circle cx="381.8" cy="366.1" r="2.55"/><circle cx="394.4" cy="328.3" r="2.55"/><circle cx="380.3" cy="384.8" r="2.55"/><circle cx="345.4" cy="250.5" r="2.55"/><circle cx="367.3" cy="236.8" r="2.55"/><circle cx="401.5" cy="311.6" r="2.55"/><circle cx="476.6" cy="362.5" r="2.55"/><circle cx="403.0" cy="365.9" r="2.55"/><circle cx="434.0" cy="338.1" r="2.55"/><circle cx="401.0" cy="336.1" r="2.55"/><circle cx="377.6" cy="307.2" r="2.55"/><circle cx="467.4" cy="395.3" r="2.55"/><circle cx="336.2" cy="288.4" r="2.55"/><circle cx="354.4" cy="325.9" r="2.55"/><circle cx="373.5" cy="359.6" r="2.55"/><circle cx="346.3" cy="243.4" r="2.55"/><circle cx="361.8" cy="317.7" r="2.55"/><circle cx="402.1" cy="275.3" r="2.55"/><circle cx="301.1" cy="281.4" r="2.55"/><circle cx="351.7" cy="291.8" r="2.55"/><circle cx="268.0" cy="262.8" r="2.55"/><circle cx="408.1" cy="260.3" r="2.55"/><circle cx="396.5" cy="273.7" r="2.55"/><circle cx="403.4" cy="277.0" r="2.55"/><circle cx="364.2" cy="326.5" r="2.55"/><circle cx="403.1" cy="303.4" r="2.55"/><circle cx="336.3" cy="320.5" r="2.55"/><circle cx="315.8" cy="310.3" r="2.55"/><circle cx="380.8" cy="322.4" r="2.55"/><circle cx="371.4" cy="377.1" r="2.55"/><circle cx="343.3" cy="284.1" r="2.55"/><circle cx="389.4" cy="353.1" r="2.55"/><circle cx="464.4" cy="348.5" r="2.55"/><circle cx="416.5" cy="372.6" r="2.55"/><circle cx="273.3" cy="239.8" r="2.55"/><circle cx="378.5" cy="284.3" r="2.55"/><circle cx="409.7" cy="377.4" r="2.55"/><circle cx="398.0" cy="320.2" r="2.55"/><circle cx="266.9" cy="211.7" r="2.55"/><circle cx="340.7" cy="280.3" r="2.55"/><circle cx="373.1" cy="355.9" r="2.55"/><circle cx="288.9" cy="248.5" r="2.55"/><circle cx="391.6" cy="315.0" r="2.55"/><circle cx="377.6" cy="252.7" r="2.55"/><circle cx="365.8" cy="279.9" r="2.55"/><circle cx="383.6" cy="323.3" r="2.55"/><circle cx="391.7" cy="345.6" r="2.55"/><circle cx="365.3" cy="323.9" r="2.55"/><circle cx="382.3" cy="345.5" r="2.55"/><circle cx="348.7" cy="334.0" r="2.55"/><circle cx="433.1" cy="312.1" r="2.55"/><circle cx="344.6" cy="309.8" r="2.55"/><circle cx="393.5" cy="356.3" r="2.55"/><circle cx="345.2" cy="379.7" r="2.55"/><circle cx="362.1" cy="281.1" r="2.55"/><circle cx="407.6" cy="343.3" r="2.55"/><circle cx="402.9" cy="277.2" r="2.55"/><circle cx="437.3" cy="394.2" r="2.55"/><circle cx="426.0" cy="313.0" r="2.55"/><circle cx="413.5" cy="399.7" r="2.55"/><circle cx="368.1" cy="249.9" r="2.55"/><circle cx="438.4" cy="310.1" r="2.55"/><circle cx="400.9" cy="336.0" r="2.55"/><circle cx="414.3" cy="303.8" r="2.55"/><circle cx="442.9" cy="328.6" r="2.55"/><circle cx="417.7" cy="266.2" r="2.55"/><circle cx="350.7" cy="333.8" r="2.55"/><circle cx="317.5" cy="264.1" r="2.55"/><circle cx="319.7" cy="206.1" r="2.55"/><circle cx="410.6" cy="340.1" r="2.55"/><circle cx="429.8" cy="350.5" r="2.55"/><circle cx="412.4" cy="348.6" r="2.55"/><circle cx="328.1" cy="275.3" r="2.55"/><circle cx="361.4" cy="360.2" r="2.55"/><circle cx="348.3" cy="322.1" r="2.55"/><circle cx="427.6" cy="372.8" r="2.55"/><circle cx="396.9" cy="299.8" r="2.55"/><circle cx="438.7" cy="378.7" r="2.55"/><circle cx="365.8" cy="295.3" r="2.55"/><circle cx="440.7" cy="340.7" r="2.55"/><circle cx="468.3" cy="362.8" r="2.55"/><circle cx="327.1" cy="331.5" r="2.55"/><circle cx="397.4" cy="404.6" r="2.55"/><circle cx="346.2" cy="284.3" r="2.55"/><circle cx="481.1" cy="421.4" r="2.55"/><circle cx="442.3" cy="259.1" r="2.55"/><circle cx="312.3" cy="273.5" r="2.55"/><circle cx="378.9" cy="296.9" r="2.55"/><circle cx="459.1" cy="395.8" r="2.55"/><circle cx="291.2" cy="232.8" r="2.55"/><circle cx="485.4" cy="370.5" r="2.55"/><circle cx="395.5" cy="333.6" r="2.55"/><circle cx="319.8" cy="308.6" r="2.55"/><circle cx="358.4" cy="330.4" r="2.55"/><circle cx="291.9" cy="184.4" r="2.55"/><circle cx="393.0" cy="329.8" r="2.55"/><circle cx="408.2" cy="369.2" r="2.55"/><circle cx="457.0" cy="352.8" r="2.55"/><circle cx="419.6" cy="279.1" r="2.55"/><circle cx="455.0" cy="316.0" r="2.55"/><circle cx="406.3" cy="318.9" r="2.55"/><circle cx="408.6" cy="362.4" r="2.55"/><circle cx="360.9" cy="345.9" r="2.55"/><circle cx="271.6" cy="297.0" r="2.55"/><circle cx="368.9" cy="328.2" r="2.55"/><circle cx="439.0" cy="339.9" r="2.55"/><circle cx="385.4" cy="409.2" r="2.55"/><circle cx="495.9" cy="313.3" r="2.55"/><circle cx="282.3" cy="279.3" r="2.55"/><circle cx="365.4" cy="268.7" r="2.55"/><circle cx="360.4" cy="289.8" r="2.55"/><circle cx="327.2" cy="296.1" r="2.55"/><circle cx="443.5" cy="343.9" r="2.55"/><circle cx="399.6" cy="271.6" r="2.55"/><circle cx="452.4" cy="382.3" r="2.55"/><circle cx="385.1" cy="309.0" r="2.55"/><circle cx="397.2" cy="310.3" r="2.55"/><circle cx="359.5" cy="292.2" r="2.55"/><circle cx="397.7" cy="257.9" r="2.55"/><circle cx="394.4" cy="249.3" r="2.55"/><circle cx="416.8" cy="252.6" r="2.55"/><circle cx="410.4" cy="373.8" r="2.55"/><circle cx="397.0" cy="341.9" r="2.55"/><circle cx="353.3" cy="351.3" r="2.55"/><circle cx="372.4" cy="320.0" r="2.55"/><circle cx="350.6" cy="362.4" r="2.55"/><circle cx="337.8" cy="262.9" r="2.55"/><circle cx="411.1" cy="325.8" r="2.55"/><circle cx="332.4" cy="307.8" r="2.55"/><circle cx="322.0" cy="337.8" r="2.55"/><circle cx="352.8" cy="209.9" r="2.55"/><circle cx="361.1" cy="240.6" r="2.55"/><circle cx="310.5" cy="258.1" r="2.55"/><circle cx="344.7" cy="212.6" r="2.55"/><circle cx="380.9" cy="267.5" r="2.55"/><circle cx="310.1" cy="323.2" r="2.55"/><circle cx="248.3" cy="239.5" r="2.55"/><circle cx="386.3" cy="282.1" r="2.55"/><circle cx="349.7" cy="259.2" r="2.55"/><circle cx="388.1" cy="292.3" r="2.55"/><circle cx="306.3" cy="199.3" r="2.55"/><circle cx="365.5" cy="293.2" r="2.55"/><circle cx="341.4" cy="325.3" r="2.55"/><circle cx="390.4" cy="278.6" r="2.55"/><circle cx="407.3" cy="364.7" r="2.55"/><circle cx="374.8" cy="301.8" r="2.55"/><circle cx="481.0" cy="294.4" r="2.55"/><circle cx="325.8" cy="229.5" r="2.55"/><circle cx="341.9" cy="262.7" r="2.55"/><circle cx="335.9" cy="199.1" r="2.55"/><circle cx="320.4" cy="183.9" r="2.55"/><circle cx="369.2" cy="262.1" r="2.55"/><circle cx="473.5" cy="388.0" r="2.55"/><circle cx="346.0" cy="285.1" r="2.55"/><circle cx="310.3" cy="204.8" r="2.55"/><circle cx="412.2" cy="390.4" r="2.55"/><circle cx="366.6" cy="255.1" r="2.55"/><circle cx="406.7" cy="307.1" r="2.55"/><circle cx="364.8" cy="341.4" r="2.55"/><circle cx="350.4" cy="249.2" r="2.55"/><circle cx="305.1" cy="269.0" r="2.55"/><circle cx="446.9" cy="331.1" r="2.55"/><circle cx="397.9" cy="272.9" r="2.55"/><circle cx="466.3" cy="281.9" r="2.55"/><circle cx="402.9" cy="344.2" r="2.55"/><circle cx="330.6" cy="255.9" r="2.55"/><circle cx="497.6" cy="413.0" r="2.55"/><circle cx="425.6" cy="326.5" r="2.55"/><circle cx="379.4" cy="314.6" r="2.55"/><circle cx="445.5" cy="342.9" r="2.55"/><circle cx="358.6" cy="235.4" r="2.55"/><circle cx="378.0" cy="290.2" r="2.55"/><circle cx="387.9" cy="366.0" r="2.55"/><circle cx="332.2" cy="217.0" r="2.55"/><circle cx="320.6" cy="316.7" r="2.55"/><circle cx="388.5" cy="300.5" r="2.55"/><circle cx="379.0" cy="292.2" r="2.55"/><circle cx="385.5" cy="340.1" r="2.55"/><circle cx="318.1" cy="319.5" r="2.55"/><circle cx="323.5" cy="271.6" r="2.55"/><circle cx="408.5" cy="322.5" r="2.55"/><circle cx="428.4" cy="287.3" r="2.55"/><circle cx="331.7" cy="336.9" r="2.55"/><circle cx="374.8" cy="206.0" r="2.55"/><circle cx="442.2" cy="367.2" r="2.55"/><circle cx="357.0" cy="267.0" r="2.55"/><circle cx="423.0" cy="340.2" r="2.55"/><circle cx="384.2" cy="304.0" r="2.55"/><circle cx="401.8" cy="353.6" r="2.55"/><circle cx="314.6" cy="311.1" r="2.55"/><circle cx="344.8" cy="291.7" r="2.55"/><circle cx="369.7" cy="271.6" r="2.55"/><circle cx="339.3" cy="315.5" r="2.55"/><circle cx="423.4" cy="395.2" r="2.55"/><circle cx="404.9" cy="369.2" r="2.55"/><circle cx="393.8" cy="360.8" r="2.55"/><circle cx="335.2" cy="236.3" r="2.55"/><circle cx="393.1" cy="298.1" r="2.55"/><circle cx="325.7" cy="248.4" r="2.55"/><circle cx="348.0" cy="213.4" r="2.55"/><circle cx="346.4" cy="345.7" r="2.55"/><circle cx="407.2" cy="336.2" r="2.55"/><circle cx="374.4" cy="332.2" r="2.55"/><circle cx="339.5" cy="290.1" r="2.55"/><circle cx="397.6" cy="337.2" r="2.55"/><circle cx="419.2" cy="319.5" r="2.55"/><circle cx="327.4" cy="226.7" r="2.55"/><circle cx="333.9" cy="318.1" r="2.55"/><circle cx="440.6" cy="341.3" r="2.55"/><circle cx="420.9" cy="274.5" r="2.55"/><circle cx="315.3" cy="277.6" r="2.55"/><circle cx="368.2" cy="273.5" r="2.55"/><circle cx="362.9" cy="305.8" r="2.55"/><circle cx="385.7" cy="320.1" r="2.55"/><circle cx="411.7" cy="296.3" r="2.55"/><circle cx="363.7" cy="236.7" r="2.55"/><circle cx="369.5" cy="290.6" r="2.55"/><circle cx="262.9" cy="239.3" r="2.55"/><circle cx="420.7" cy="340.5" r="2.55"/><circle cx="361.0" cy="322.5" r="2.55"/><circle cx="392.0" cy="257.9" r="2.55"/><circle cx="374.2" cy="371.7" r="2.55"/><circle cx="345.7" cy="356.5" r="2.55"/><circle cx="330.3" cy="229.4" r="2.55"/><circle cx="362.0" cy="310.7" r="2.55"/><circle cx="320.3" cy="315.0" r="2.55"/><circle cx="361.2" cy="259.0" r="2.55"/><circle cx="379.3" cy="310.8" r="2.55"/><circle cx="438.3" cy="304.3" r="2.55"/><circle cx="413.8" cy="292.3" r="2.55"/><circle cx="394.5" cy="362.8" r="2.55"/><circle cx="405.5" cy="354.2" r="2.55"/><circle cx="268.0" cy="290.4" r="2.55"/><circle cx="368.7" cy="321.1" r="2.55"/><circle cx="388.9" cy="319.6" r="2.55"/><circle cx="313.9" cy="285.0" r="2.55"/><circle cx="360.8" cy="292.2" r="2.55"/><circle cx="435.7" cy="351.3" r="2.55"/><circle cx="359.0" cy="374.3" r="2.55"/><circle cx="350.1" cy="321.8" r="2.55"/><circle cx="383.6" cy="291.6" r="2.55"/><circle cx="302.1" cy="248.3" r="2.55"/><circle cx="263.9" cy="221.1" r="2.55"/><circle cx="330.8" cy="230.9" r="2.55"/><circle cx="361.2" cy="331.1" r="2.55"/><circle cx="405.9" cy="334.8" r="2.55"/><circle cx="324.0" cy="247.5" r="2.55"/><circle cx="410.7" cy="323.4" r="2.55"/><circle cx="422.9" cy="228.1" r="2.55"/><circle cx="466.1" cy="319.4" r="2.55"/><circle cx="349.6" cy="208.5" r="2.55"/><circle cx="243.8" cy="205.0" r="2.55"/><circle cx="372.0" cy="311.5" r="2.55"/><circle cx="335.2" cy="232.3" r="2.55"/><circle cx="392.8" cy="350.0" r="2.55"/><circle cx="414.6" cy="320.8" r="2.55"/><circle cx="441.3" cy="266.8" r="2.55"/><circle cx="360.6" cy="260.5" r="2.55"/><circle cx="379.8" cy="257.0" r="2.55"/><circle cx="333.5" cy="320.3" r="2.55"/><circle cx="380.5" cy="296.0" r="2.55"/><circle cx="407.2" cy="304.9" r="2.55"/><circle cx="306.5" cy="208.6" r="2.55"/><circle cx="440.9" cy="305.6" r="2.55"/><circle cx="268.6" cy="278.0" r="2.55"/><circle cx="415.2" cy="340.2" r="2.55"/><circle cx="386.0" cy="323.7" r="2.55"/><circle cx="398.1" cy="276.4" r="2.55"/><circle cx="450.3" cy="414.4" r="2.55"/><circle cx="425.2" cy="338.4" r="2.55"/><circle cx="369.6" cy="204.9" r="2.55"/><circle cx="343.3" cy="277.3" r="2.55"/><circle cx="416.7" cy="312.7" r="2.55"/><circle cx="363.4" cy="240.2" r="2.55"/><circle cx="446.6" cy="330.7" r="2.55"/><circle cx="338.8" cy="307.7" r="2.55"/><circle cx="394.6" cy="271.1" r="2.55"/><circle cx="372.5" cy="312.3" r="2.55"/><circle cx="346.4" cy="295.9" r="2.55"/><circle cx="360.8" cy="244.7" r="2.55"/><circle cx="313.1" cy="270.8" r="2.55"/><circle cx="375.9" cy="320.0" r="2.55"/><circle cx="375.5" cy="326.8" r="2.55"/><circle cx="408.1" cy="263.0" r="2.55"/><circle cx="374.9" cy="233.4" r="2.55"/><circle cx="389.1" cy="311.7" r="2.55"/><circle cx="301.8" cy="199.0" r="2.55"/><circle cx="328.5" cy="304.8" r="2.55"/><circle cx="358.1" cy="291.3" r="2.55"/><circle cx="327.2" cy="257.4" r="2.55"/><circle cx="418.2" cy="283.5" r="2.55"/><circle cx="293.1" cy="239.3" r="2.55"/><circle cx="435.7" cy="297.1" r="2.55"/><circle cx="346.4" cy="232.2" r="2.55"/><circle cx="317.2" cy="285.3" r="2.55"/><circle cx="419.2" cy="380.9" r="2.55"/><circle cx="421.0" cy="293.5" r="2.55"/><circle cx="424.3" cy="367.7" r="2.55"/><circle cx="376.3" cy="277.6" r="2.55"/><circle cx="263.6" cy="257.0" r="2.55"/><circle cx="296.2" cy="277.5" r="2.55"/><circle cx="346.2" cy="260.4" r="2.55"/><circle cx="311.3" cy="243.1" r="2.55"/><circle cx="315.2" cy="229.9" r="2.55"/><circle cx="257.8" cy="230.7" r="2.55"/><circle cx="356.5" cy="289.9" r="2.55"/><circle cx="418.1" cy="368.5" r="2.55"/><circle cx="334.6" cy="296.3" r="2.55"/><circle cx="339.6" cy="280.8" r="2.55"/><circle cx="395.2" cy="277.2" r="2.55"/><circle cx="527.8" cy="417.5" r="2.55"/><circle cx="376.1" cy="249.3" r="2.55"/><circle cx="363.2" cy="245.0" r="2.55"/><circle cx="365.1" cy="323.0" r="2.55"/><circle cx="352.3" cy="319.9" r="2.55"/><circle cx="316.7" cy="272.6" r="2.55"/><circle cx="387.9" cy="316.0" r="2.55"/><circle cx="274.8" cy="249.6" r="2.55"/><circle cx="284.9" cy="279.9" r="2.55"/><circle cx="385.3" cy="306.3" r="2.55"/><circle cx="443.7" cy="397.5" r="2.55"/><circle cx="320.8" cy="254.4" r="2.55"/><circle cx="350.2" cy="267.5" r="2.55"/><circle cx="343.5" cy="238.9" r="2.55"/><circle cx="407.1" cy="271.0" r="2.55"/><circle cx="355.8" cy="247.3" r="2.55"/><circle cx="398.1" cy="345.6" r="2.55"/><circle cx="434.9" cy="344.2" r="2.55"/><circle cx="303.8" cy="285.3" r="2.55"/><circle cx="375.5" cy="345.7" r="2.55"/><circle cx="367.8" cy="374.4" r="2.55"/><circle cx="359.7" cy="364.4" r="2.55"/><circle cx="364.7" cy="300.7" r="2.55"/><circle cx="302.2" cy="236.0" r="2.55"/><circle cx="424.1" cy="395.8" r="2.55"/><circle cx="354.7" cy="265.0" r="2.55"/><circle cx="337.6" cy="296.7" r="2.55"/><circle cx="408.3" cy="358.8" r="2.55"/><circle cx="304.1" cy="203.6" r="2.55"/><circle cx="409.1" cy="320.5" r="2.55"/><circle cx="449.2" cy="322.3" r="2.55"/><circle cx="344.5" cy="285.5" r="2.55"/><circle cx="257.3" cy="177.8" r="2.55"/><circle cx="324.0" cy="321.0" r="2.55"/><circle cx="393.3" cy="293.2" r="2.55"/><circle cx="374.4" cy="267.1" r="2.55"/><circle cx="391.5" cy="304.3" r="2.55"/><circle cx="399.3" cy="313.8" r="2.55"/><circle cx="382.0" cy="342.0" r="2.55"/><circle cx="410.9" cy="365.5" r="2.55"/><circle cx="358.5" cy="253.3" r="2.55"/><circle cx="321.7" cy="294.0" r="2.55"/><circle cx="395.8" cy="342.3" r="2.55"/><circle cx="381.9" cy="384.3" r="2.55"/><circle cx="431.4" cy="314.3" r="2.55"/><circle cx="383.9" cy="262.7" r="2.55"/><circle cx="450.2" cy="372.8" r="2.55"/><circle cx="397.4" cy="377.3" r="2.55"/><circle cx="395.0" cy="265.9" r="2.55"/><circle cx="329.9" cy="361.2" r="2.55"/><circle cx="434.1" cy="262.3" r="2.55"/><circle cx="458.6" cy="319.6" r="2.55"/><circle cx="401.4" cy="350.6" r="2.55"/><circle cx="356.3" cy="327.2" r="2.55"/><circle cx="336.6" cy="316.5" r="2.55"/><circle cx="351.5" cy="271.3" r="2.55"/><circle cx="397.4" cy="310.0" r="2.55"/><circle cx="449.7" cy="292.6" r="2.55"/><circle cx="308.9" cy="279.2" r="2.55"/><circle cx="335.2" cy="227.2" r="2.55"/><circle cx="355.4" cy="232.0" r="2.55"/><circle cx="400.9" cy="385.3" r="2.55"/><circle cx="403.7" cy="364.9" r="2.55"/><circle cx="426.9" cy="273.3" r="2.55"/><circle cx="368.9" cy="314.8" r="2.55"/><circle cx="321.4" cy="284.2" r="2.55"/><circle cx="358.6" cy="339.4" r="2.55"/><circle cx="403.7" cy="328.4" r="2.55"/><circle cx="447.1" cy="353.0" r="2.55"/><circle cx="405.7" cy="279.4" r="2.55"/><circle cx="351.4" cy="339.0" r="2.55"/><circle cx="378.2" cy="288.3" r="2.55"/><circle cx="352.7" cy="305.6" r="2.55"/><circle cx="275.7" cy="255.7" r="2.55"/><circle cx="398.0" cy="347.6" r="2.55"/><circle cx="361.0" cy="310.7" r="2.55"/><circle cx="329.6" cy="386.7" r="2.55"/><circle cx="432.1" cy="375.8" r="2.55"/><circle cx="404.3" cy="351.0" r="2.55"/><circle cx="398.9" cy="322.0" r="2.55"/><circle cx="427.3" cy="302.2" r="2.55"/><circle cx="417.8" cy="311.1" r="2.55"/><circle cx="394.9" cy="300.0" r="2.55"/><circle cx="245.4" cy="239.9" r="2.55"/><circle cx="426.3" cy="417.9" r="2.55"/><circle cx="374.3" cy="262.1" r="2.55"/><circle cx="335.5" cy="295.9" r="2.55"/><circle cx="433.4" cy="342.9" r="2.55"/><circle cx="298.1" cy="305.7" r="2.55"/><circle cx="364.8" cy="307.4" r="2.55"/><circle cx="361.8" cy="354.2" r="2.55"/><circle cx="398.9" cy="301.7" r="2.55"/><circle cx="410.8" cy="352.9" r="2.55"/><circle cx="381.8" cy="353.9" r="2.55"/><circle cx="385.9" cy="282.2" r="2.55"/><circle cx="402.8" cy="287.1" r="2.55"/><circle cx="384.1" cy="298.2" r="2.55"/><circle cx="318.9" cy="251.8" r="2.55"/><circle cx="387.1" cy="298.8" r="2.55"/><circle cx="333.7" cy="291.7" r="2.55"/><circle cx="508.6" cy="473.4" r="2.55"/><circle cx="383.6" cy="330.0" r="2.55"/><circle cx="416.8" cy="225.4" r="2.55"/><circle cx="449.6" cy="274.3" r="2.55"/><circle cx="317.4" cy="249.3" r="2.55"/><circle cx="377.3" cy="347.0" r="2.55"/><circle cx="372.4" cy="253.1" r="2.55"/><circle cx="264.3" cy="235.1" r="2.55"/><circle cx="412.4" cy="373.2" r="2.55"/><circle cx="422.6" cy="309.7" r="2.55"/><circle cx="313.5" cy="300.5" r="2.55"/><circle cx="384.8" cy="362.9" r="2.55"/><circle cx="484.2" cy="313.3" r="2.55"/><circle cx="392.0" cy="315.7" r="2.55"/><circle cx="370.8" cy="367.4" r="2.55"/><circle cx="330.7" cy="214.4" r="2.55"/><circle cx="378.9" cy="294.3" r="2.55"/><circle cx="316.0" cy="320.6" r="2.55"/><circle cx="333.3" cy="278.3" r="2.55"/><circle cx="368.7" cy="327.6" r="2.55"/><circle cx="384.9" cy="284.2" r="2.55"/><circle cx="370.1" cy="263.7" r="2.55"/><circle cx="287.5" cy="285.2" r="2.55"/><circle cx="479.6" cy="411.8" r="2.55"/><circle cx="305.4" cy="295.7" r="2.55"/><circle cx="291.6" cy="291.8" r="2.55"/><circle cx="456.5" cy="319.3" r="2.55"/><circle cx="354.1" cy="305.1" r="2.55"/><circle cx="452.3" cy="377.7" r="2.55"/><circle cx="360.3" cy="319.0" r="2.55"/><circle cx="364.0" cy="259.0" r="2.55"/><circle cx="306.8" cy="264.7" r="2.55"/><circle cx="369.6" cy="198.5" r="2.55"/><circle cx="365.3" cy="291.7" r="2.55"/><circle cx="475.5" cy="371.6" r="2.55"/><circle cx="274.1" cy="282.5" r="2.55"/><circle cx="361.0" cy="365.7" r="2.55"/><circle cx="412.6" cy="346.3" r="2.55"/><circle cx="384.6" cy="358.5" r="2.55"/><circle cx="334.7" cy="308.0" r="2.55"/><circle cx="431.8" cy="243.3" r="2.55"/><circle cx="392.6" cy="387.3" r="2.55"/><circle cx="381.7" cy="292.1" r="2.55"/><circle cx="393.8" cy="367.6" r="2.55"/><circle cx="378.3" cy="323.1" r="2.55"/><circle cx="439.6" cy="300.9" r="2.55"/><circle cx="394.7" cy="293.1" r="2.55"/><circle cx="377.6" cy="249.8" r="2.55"/><circle cx="339.6" cy="311.3" r="2.55"/><circle cx="379.4" cy="351.9" r="2.55"/><circle cx="382.0" cy="340.5" r="2.55"/><circle cx="337.0" cy="342.2" r="2.55"/><circle cx="420.9" cy="310.0" r="2.55"/><circle cx="299.8" cy="271.8" r="2.55"/><circle cx="469.7" cy="323.8" r="2.55"/><circle cx="362.9" cy="308.3" r="2.55"/><circle cx="453.1" cy="293.4" r="2.55"/><circle cx="352.0" cy="268.2" r="2.55"/><circle cx="488.9" cy="338.2" r="2.55"/><circle cx="378.3" cy="341.0" r="2.55"/><circle cx="443.4" cy="367.5" r="2.55"/><circle cx="393.5" cy="341.7" r="2.55"/><circle cx="328.3" cy="321.6" r="2.55"/><circle cx="373.4" cy="228.6" r="2.55"/><circle cx="461.8" cy="301.8" r="2.55"/><circle cx="376.6" cy="333.4" r="2.55"/><circle cx="301.7" cy="245.9" r="2.55"/><circle cx="292.0" cy="403.4" r="2.55"/><circle cx="352.2" cy="291.6" r="2.55"/><circle cx="395.2" cy="273.8" r="2.55"/><circle cx="409.0" cy="321.1" r="2.55"/><circle cx="355.4" cy="267.9" r="2.55"/><circle cx="495.2" cy="287.2" r="2.55"/><circle cx="368.6" cy="374.7" r="2.55"/><circle cx="390.0" cy="343.2" r="2.55"/><circle cx="328.7" cy="277.1" r="2.55"/><circle cx="354.1" cy="336.2" r="2.55"/><circle cx="349.7" cy="254.9" r="2.55"/><circle cx="298.4" cy="291.3" r="2.55"/><circle cx="365.9" cy="188.3" r="2.55"/><circle cx="393.7" cy="238.2" r="2.55"/><circle cx="361.5" cy="310.0" r="2.55"/><circle cx="361.5" cy="347.0" r="2.55"/><circle cx="342.3" cy="204.9" r="2.55"/><circle cx="351.2" cy="248.8" r="2.55"/><circle cx="387.3" cy="369.4" r="2.55"/><circle cx="350.5" cy="329.5" r="2.55"/><circle cx="325.1" cy="249.0" r="2.55"/><circle cx="381.2" cy="255.3" r="2.55"/><circle cx="324.5" cy="253.3" r="2.55"/><circle cx="350.2" cy="255.5" r="2.55"/><circle cx="332.6" cy="232.0" r="2.55"/><circle cx="272.7" cy="237.6" r="2.55"/><circle cx="405.5" cy="292.8" r="2.55"/><circle cx="323.9" cy="276.7" r="2.55"/><circle cx="366.0" cy="366.3" r="2.55"/><circle cx="403.9" cy="304.9" r="2.55"/><circle cx="352.1" cy="289.6" r="2.55"/><circle cx="442.2" cy="300.4" r="2.55"/><circle cx="395.8" cy="305.6" r="2.55"/><circle cx="355.1" cy="236.7" r="2.55"/><circle cx="422.6" cy="337.6" r="2.55"/><circle cx="426.4" cy="388.4" r="2.55"/><circle cx="410.0" cy="377.9" r="2.55"/><circle cx="460.4" cy="432.2" r="2.55"/><circle cx="395.6" cy="340.8" r="2.55"/><circle cx="365.6" cy="279.1" r="2.55"/><circle cx="391.2" cy="355.5" r="2.55"/><circle cx="421.7" cy="297.5" r="2.55"/><circle cx="428.4" cy="331.7" r="2.55"/><circle cx="332.0" cy="307.6" r="2.55"/><circle cx="433.4" cy="277.4" r="2.55"/><circle cx="329.0" cy="301.8" r="2.55"/><circle cx="327.4" cy="220.9" r="2.55"/><circle cx="332.9" cy="320.3" r="2.55"/><circle cx="276.5" cy="238.5" r="2.55"/><circle cx="415.4" cy="253.7" r="2.55"/><circle cx="311.7" cy="298.5" r="2.55"/><circle cx="353.8" cy="299.1" r="2.55"/><circle cx="379.6" cy="281.9" r="2.55"/><circle cx="408.8" cy="280.9" r="2.55"/><circle cx="394.2" cy="351.7" r="2.55"/><circle cx="364.9" cy="268.4" r="2.55"/><circle cx="372.2" cy="263.0" r="2.55"/><circle cx="424.9" cy="380.4" r="2.55"/><circle cx="413.9" cy="312.3" r="2.55"/><circle cx="318.5" cy="242.1" r="2.55"/><circle cx="312.5" cy="298.6" r="2.55"/><circle cx="346.8" cy="205.1" r="2.55"/><circle cx="424.4" cy="370.7" r="2.55"/><circle cx="394.0" cy="291.9" r="2.55"/><circle cx="385.0" cy="348.1" r="2.55"/><circle cx="395.8" cy="339.5" r="2.55"/><circle cx="383.6" cy="353.2" r="2.55"/><circle cx="408.0" cy="348.2" r="2.55"/><circle cx="446.5" cy="313.7" r="2.55"/><circle cx="329.5" cy="282.6" r="2.55"/><circle cx="399.0" cy="265.0" r="2.55"/><circle cx="389.1" cy="281.8" r="2.55"/><circle cx="404.4" cy="282.1" r="2.55"/><circle cx="369.2" cy="305.9" r="2.55"/><circle cx="370.4" cy="350.7" r="2.55"/><circle cx="293.9" cy="231.3" r="2.55"/><circle cx="360.5" cy="333.6" r="2.55"/><circle cx="479.7" cy="390.7" r="2.55"/><circle cx="332.3" cy="306.3" r="2.55"/><circle cx="354.9" cy="335.9" r="2.55"/><circle cx="322.3" cy="261.1" r="2.55"/><circle cx="353.8" cy="296.2" r="2.55"/><circle cx="299.6" cy="290.6" r="2.55"/><circle cx="303.9" cy="171.1" r="2.55"/><circle cx="395.7" cy="302.7" r="2.55"/><circle cx="257.7" cy="224.1" r="2.55"/><circle cx="357.0" cy="322.3" r="2.55"/><circle cx="338.9" cy="342.0" r="2.55"/><circle cx="395.5" cy="370.5" r="2.55"/><circle cx="403.5" cy="345.5" r="2.55"/><circle cx="318.2" cy="277.6" r="2.55"/><circle cx="375.4" cy="290.8" r="2.55"/><circle cx="386.5" cy="298.9" r="2.55"/><circle cx="310.1" cy="240.9" r="2.55"/><circle cx="430.5" cy="313.8" r="2.55"/><circle cx="320.2" cy="342.6" r="2.55"/><circle cx="358.2" cy="315.5" r="2.55"/><circle cx="420.3" cy="327.0" r="2.55"/><circle cx="352.3" cy="279.5" r="2.55"/><circle cx="439.6" cy="320.4" r="2.55"/><circle cx="400.9" cy="287.5" r="2.55"/><circle cx="398.6" cy="349.0" r="2.55"/><circle cx="304.6" cy="256.5" r="2.55"/><circle cx="332.3" cy="274.3" r="2.55"/><circle cx="448.6" cy="334.8" r="2.55"/><circle cx="402.5" cy="246.6" r="2.55"/><circle cx="369.3" cy="273.7" r="2.55"/><circle cx="381.2" cy="389.2" r="2.55"/><circle cx="385.0" cy="334.8" r="2.55"/><circle cx="381.3" cy="249.8" r="2.55"/><circle cx="356.3" cy="255.6" r="2.55"/><circle cx="330.0" cy="275.6" r="2.55"/><circle cx="445.7" cy="217.0" r="2.55"/><circle cx="301.8" cy="266.2" r="2.55"/><circle cx="355.1" cy="316.2" r="2.55"/><circle cx="414.2" cy="265.6" r="2.55"/><circle cx="373.3" cy="308.4" r="2.55"/><circle cx="485.0" cy="354.6" r="2.55"/><circle cx="355.1" cy="301.3" r="2.55"/><circle cx="479.5" cy="354.2" r="2.55"/><circle cx="421.5" cy="330.7" r="2.55"/><circle cx="322.0" cy="260.6" r="2.55"/><circle cx="428.2" cy="217.6" r="2.55"/><circle cx="402.9" cy="279.7" r="2.55"/><circle cx="309.8" cy="271.4" r="2.55"/><circle cx="419.5" cy="304.1" r="2.55"/><circle cx="403.3" cy="333.5" r="2.55"/><circle cx="383.6" cy="283.2" r="2.55"/><circle cx="322.7" cy="216.7" r="2.55"/><circle cx="406.0" cy="276.4" r="2.55"/><circle cx="307.3" cy="286.2" r="2.55"/><circle cx="399.7" cy="305.8" r="2.55"/><circle cx="413.4" cy="263.7" r="2.55"/><circle cx="419.8" cy="308.6" r="2.55"/><circle cx="315.5" cy="174.7" r="2.55"/><circle cx="445.5" cy="353.8" r="2.55"/><circle cx="322.9" cy="256.7" r="2.55"/><circle cx="360.9" cy="259.8" r="2.55"/><circle cx="408.9" cy="331.5" r="2.55"/><circle cx="353.8" cy="272.6" r="2.55"/><circle cx="334.6" cy="324.4" r="2.55"/><circle cx="380.4" cy="303.1" r="2.55"/><circle cx="301.6" cy="263.5" r="2.55"/><circle cx="417.3" cy="366.7" r="2.55"/><circle cx="322.4" cy="262.3" r="2.55"/><circle cx="435.2" cy="315.2" r="2.55"/><circle cx="397.4" cy="273.1" r="2.55"/><circle cx="389.3" cy="342.4" r="2.55"/><circle cx="379.2" cy="251.2" r="2.55"/><circle cx="426.8" cy="391.2" r="2.55"/><circle cx="487.7" cy="273.7" r="2.55"/><circle cx="346.8" cy="276.3" r="2.55"/><circle cx="398.4" cy="304.3" r="2.55"/><circle cx="377.9" cy="275.5" r="2.55"/><circle cx="399.0" cy="356.7" r="2.55"/><circle cx="470.3" cy="330.1" r="2.55"/><circle cx="425.0" cy="304.2" r="2.55"/><circle cx="386.0" cy="273.1" r="2.55"/><circle cx="258.1" cy="212.3" r="2.55"/><circle cx="334.2" cy="291.5" r="2.55"/><circle cx="338.3" cy="262.8" r="2.55"/><circle cx="400.3" cy="337.5" r="2.55"/><circle cx="343.5" cy="223.4" r="2.55"/><circle cx="434.1" cy="313.4" r="2.55"/><circle cx="354.9" cy="322.8" r="2.55"/><circle cx="307.1" cy="260.8" r="2.55"/><circle cx="404.4" cy="267.3" r="2.55"/><circle cx="418.5" cy="316.8" r="2.55"/><circle cx="348.1" cy="247.7" r="2.55"/><circle cx="439.7" cy="266.7" r="2.55"/><circle cx="365.4" cy="267.0" r="2.55"/><circle cx="308.2" cy="270.2" r="2.55"/><circle cx="462.1" cy="333.4" r="2.55"/><circle cx="375.2" cy="301.5" r="2.55"/><circle cx="383.4" cy="362.6" r="2.55"/><circle cx="420.3" cy="368.6" r="2.55"/><circle cx="368.7" cy="279.2" r="2.55"/><circle cx="373.4" cy="327.0" r="2.55"/><circle cx="378.3" cy="340.4" r="2.55"/><circle cx="366.4" cy="409.9" r="2.55"/><circle cx="390.9" cy="342.0" r="2.55"/><circle cx="454.9" cy="272.3" r="2.55"/><circle cx="337.9" cy="296.7" r="2.55"/><circle cx="336.3" cy="322.3" r="2.55"/><circle cx="375.5" cy="358.9" r="2.55"/><circle cx="260.4" cy="248.7" r="2.55"/><circle cx="367.4" cy="292.5" r="2.55"/><circle cx="338.1" cy="299.7" r="2.55"/><circle cx="366.1" cy="314.1" r="2.55"/><circle cx="397.8" cy="299.4" r="2.55"/><circle cx="334.6" cy="283.0" r="2.55"/><circle cx="402.7" cy="305.2" r="2.55"/><circle cx="385.8" cy="285.8" r="2.55"/><circle cx="433.8" cy="332.9" r="2.55"/><circle cx="422.7" cy="355.8" r="2.55"/><circle cx="379.8" cy="351.2" r="2.55"/><circle cx="463.3" cy="309.8" r="2.55"/><circle cx="403.5" cy="275.1" r="2.55"/><circle cx="379.2" cy="334.4" r="2.55"/><circle cx="357.5" cy="277.8" r="2.55"/><circle cx="358.7" cy="250.9" r="2.55"/><circle cx="379.7" cy="288.2" r="2.55"/><circle cx="360.1" cy="290.6" r="2.55"/><circle cx="344.2" cy="319.6" r="2.55"/><circle cx="305.9" cy="289.4" r="2.55"/><circle cx="396.5" cy="283.7" r="2.55"/><circle cx="347.2" cy="315.9" r="2.55"/><circle cx="398.8" cy="350.8" r="2.55"/><circle cx="338.1" cy="238.0" r="2.55"/><circle cx="409.0" cy="308.9" r="2.55"/><circle cx="359.7" cy="274.7" r="2.55"/><circle cx="359.0" cy="261.8" r="2.55"/><circle cx="297.3" cy="291.0" r="2.55"/><circle cx="406.0" cy="356.0" r="2.55"/><circle cx="410.5" cy="310.1" r="2.55"/><circle cx="378.5" cy="323.4" r="2.55"/><circle cx="383.8" cy="319.7" r="2.55"/><circle cx="325.1" cy="277.8" r="2.55"/><circle cx="367.8" cy="324.8" r="2.55"/><circle cx="364.6" cy="323.3" r="2.55"/><circle cx="379.0" cy="288.9" r="2.55"/><circle cx="371.5" cy="303.4" r="2.55"/><circle cx="468.4" cy="354.8" r="2.55"/><circle cx="330.0" cy="299.2" r="2.55"/><circle cx="359.7" cy="368.5" r="2.55"/><circle cx="371.3" cy="293.4" r="2.55"/><circle cx="328.8" cy="354.0" r="2.55"/><circle cx="395.8" cy="332.8" r="2.55"/><circle cx="369.9" cy="285.4" r="2.55"/><circle cx="418.1" cy="289.9" r="2.55"/><circle cx="395.6" cy="314.3" r="2.55"/><circle cx="346.9" cy="314.5" r="2.55"/><circle cx="434.3" cy="330.7" r="2.55"/><circle cx="391.6" cy="342.0" r="2.55"/><circle cx="446.7" cy="383.3" r="2.55"/><circle cx="343.9" cy="289.9" r="2.55"/><circle cx="363.7" cy="324.9" r="2.55"/><circle cx="415.4" cy="338.1" r="2.55"/><circle cx="327.9" cy="260.6" r="2.55"/><circle cx="398.9" cy="319.7" r="2.55"/><circle cx="379.9" cy="263.1" r="2.55"/><circle cx="404.5" cy="296.0" r="2.55"/><circle cx="412.3" cy="240.9" r="2.55"/><circle cx="354.1" cy="246.4" r="2.55"/><circle cx="348.8" cy="292.3" r="2.55"/><circle cx="365.8" cy="259.8" r="2.55"/><circle cx="460.4" cy="419.1" r="2.55"/><circle cx="365.3" cy="320.7" r="2.55"/><circle cx="362.9" cy="322.4" r="2.55"/><circle cx="418.1" cy="279.1" r="2.55"/><circle cx="413.2" cy="320.6" r="2.55"/><circle cx="413.4" cy="377.6" r="2.55"/><circle cx="377.0" cy="310.7" r="2.55"/><circle cx="421.9" cy="331.1" r="2.55"/><circle cx="378.8" cy="277.0" r="2.55"/><circle cx="377.3" cy="246.7" r="2.55"/><circle cx="296.1" cy="164.5" r="2.55"/><circle cx="399.1" cy="343.4" r="2.55"/><circle cx="367.3" cy="308.6" r="2.55"/><circle cx="315.7" cy="221.0" r="2.55"/><circle cx="408.0" cy="319.1" r="2.55"/><circle cx="280.0" cy="220.5" r="2.55"/><circle cx="325.3" cy="262.9" r="2.55"/><circle cx="414.8" cy="259.2" r="2.55"/><circle cx="355.1" cy="237.6" r="2.55"/><circle cx="402.5" cy="294.6" r="2.55"/><circle cx="274.5" cy="228.4" r="2.55"/><circle cx="327.2" cy="351.9" r="2.55"/><circle cx="439.2" cy="349.3" r="2.55"/><circle cx="308.7" cy="285.4" r="2.55"/><circle cx="366.9" cy="285.8" r="2.55"/><circle cx="378.5" cy="225.7" r="2.55"/><circle cx="407.7" cy="372.5" r="2.55"/><circle cx="422.5" cy="288.0" r="2.55"/><circle cx="304.2" cy="251.2" r="2.55"/><circle cx="301.7" cy="239.5" r="2.55"/><circle cx="441.3" cy="348.0" r="2.55"/><circle cx="375.6" cy="309.9" r="2.55"/><circle cx="410.3" cy="304.8" r="2.55"/><circle cx="379.9" cy="297.4" r="2.55"/><circle cx="314.0" cy="332.2" r="2.55"/><circle cx="428.8" cy="317.8" r="2.55"/><circle cx="329.7" cy="249.2" r="2.55"/><circle cx="366.6" cy="307.4" r="2.55"/><circle cx="407.7" cy="368.0" r="2.55"/><circle cx="372.6" cy="323.8" r="2.55"/><circle cx="341.8" cy="204.3" r="2.55"/><circle cx="436.0" cy="369.9" r="2.55"/><circle cx="480.5" cy="388.0" r="2.55"/><circle cx="384.0" cy="281.7" r="2.55"/><circle cx="453.9" cy="325.4" r="2.55"/><circle cx="396.3" cy="285.1" r="2.55"/><circle cx="383.7" cy="292.0" r="2.55"/><circle cx="344.9" cy="323.5" r="2.55"/><circle cx="330.4" cy="269.5" r="2.55"/><circle cx="424.3" cy="363.5" r="2.55"/><circle cx="438.4" cy="288.1" r="2.55"/><circle cx="444.6" cy="314.7" r="2.55"/><circle cx="408.2" cy="348.3" r="2.55"/><circle cx="356.9" cy="333.1" r="2.55"/><circle cx="330.0" cy="280.5" r="2.55"/><circle cx="360.2" cy="224.8" r="2.55"/><circle cx="370.2" cy="283.1" r="2.55"/><circle cx="505.5" cy="355.2" r="2.55"/><circle cx="361.0" cy="274.9" r="2.55"/><circle cx="445.5" cy="419.4" r="2.55"/><circle cx="501.3" cy="279.0" r="2.55"/><circle cx="351.6" cy="286.1" r="2.55"/><circle cx="287.6" cy="206.2" r="2.55"/><circle cx="359.3" cy="331.7" r="2.55"/><circle cx="427.9" cy="326.6" r="2.55"/><circle cx="358.6" cy="192.2" r="2.55"/><circle cx="407.1" cy="317.1" r="2.55"/><circle cx="402.5" cy="392.2" r="2.55"/><circle cx="406.8" cy="375.7" r="2.55"/><circle cx="347.8" cy="357.5" r="2.55"/><circle cx="413.4" cy="288.7" r="2.55"/><circle cx="244.6" cy="282.4" r="2.55"/><circle cx="348.4" cy="261.3" r="2.55"/><circle cx="444.7" cy="352.0" r="2.55"/><circle cx="344.3" cy="329.7" r="2.55"/><circle cx="432.6" cy="336.0" r="2.55"/><circle cx="434.8" cy="316.6" r="2.55"/><circle cx="404.5" cy="368.0" r="2.55"/><circle cx="397.1" cy="420.1" r="2.55"/><circle cx="346.8" cy="284.6" r="2.55"/><circle cx="346.9" cy="346.0" r="2.55"/><circle cx="367.9" cy="236.0" r="2.55"/><circle cx="360.0" cy="359.2" r="2.55"/><circle cx="334.2" cy="207.0" r="2.55"/><circle cx="297.1" cy="232.5" r="2.55"/><circle cx="386.6" cy="280.4" r="2.55"/><circle cx="361.0" cy="309.8" r="2.55"/><circle cx="316.8" cy="293.2" r="2.55"/><circle cx="365.9" cy="303.9" r="2.55"/><circle cx="324.9" cy="273.2" r="2.55"/><circle cx="383.6" cy="286.4" r="2.55"/><circle cx="373.1" cy="281.3" r="2.55"/><circle cx="359.0" cy="314.9" r="2.55"/><circle cx="427.2" cy="434.5" r="2.55"/><circle cx="347.3" cy="311.5" r="2.55"/><circle cx="309.2" cy="350.3" r="2.55"/><circle cx="367.8" cy="264.9" r="2.55"/><circle cx="356.8" cy="316.8" r="2.55"/><circle cx="340.4" cy="274.7" r="2.55"/><circle cx="441.0" cy="285.3" r="2.55"/><circle cx="304.0" cy="248.0" r="2.55"/><circle cx="298.5" cy="289.0" r="2.55"/><circle cx="373.5" cy="371.6" r="2.55"/><circle cx="404.0" cy="296.3" r="2.55"/><circle cx="357.3" cy="333.1" r="2.55"/><circle cx="384.4" cy="328.0" r="2.55"/><circle cx="384.0" cy="353.2" r="2.55"/><circle cx="329.5" cy="245.3" r="2.55"/><circle cx="298.9" cy="266.6" r="2.55"/><circle cx="349.1" cy="294.3" r="2.55"/><circle cx="431.0" cy="263.7" r="2.55"/><circle cx="443.1" cy="327.6" r="2.55"/><circle cx="482.9" cy="281.1" r="2.55"/><circle cx="333.9" cy="244.5" r="2.55"/><circle cx="347.9" cy="295.5" r="2.55"/><circle cx="397.2" cy="303.1" r="2.55"/><circle cx="385.1" cy="321.7" r="2.55"/><circle cx="352.9" cy="296.5" r="2.55"/><circle cx="264.2" cy="220.8" r="2.55"/><circle cx="418.0" cy="358.3" r="2.55"/><circle cx="458.9" cy="326.0" r="2.55"/><circle cx="394.9" cy="309.8" r="2.55"/><circle cx="287.6" cy="267.1" r="2.55"/><circle cx="302.8" cy="190.8" r="2.55"/><circle cx="374.2" cy="350.6" r="2.55"/><circle cx="292.8" cy="278.8" r="2.55"/><circle cx="356.9" cy="338.5" r="2.55"/><circle cx="357.1" cy="323.3" r="2.55"/><circle cx="341.7" cy="252.8" r="2.55"/><circle cx="319.9" cy="249.8" r="2.55"/><circle cx="365.1" cy="268.6" r="2.55"/><circle cx="297.3" cy="245.0" r="2.55"/><circle cx="420.0" cy="309.1" r="2.55"/><circle cx="373.2" cy="303.8" r="2.55"/><circle cx="369.8" cy="315.6" r="2.55"/><circle cx="371.9" cy="296.8" r="2.55"/><circle cx="325.0" cy="280.7" r="2.55"/><circle cx="396.8" cy="354.4" r="2.55"/><circle cx="327.5" cy="306.8" r="2.55"/><circle cx="383.1" cy="344.1" r="2.55"/><circle cx="337.6" cy="275.4" r="2.55"/><circle cx="387.5" cy="291.7" r="2.55"/><circle cx="442.6" cy="394.2" r="2.55"/><circle cx="317.5" cy="247.2" r="2.55"/><circle cx="348.9" cy="262.5" r="2.55"/><circle cx="411.5" cy="290.1" r="2.55"/><circle cx="442.7" cy="279.7" r="2.55"/><circle cx="357.3" cy="245.4" r="2.55"/><circle cx="363.7" cy="242.6" r="2.55"/><circle cx="383.4" cy="236.1" r="2.55"/><circle cx="368.1" cy="263.6" r="2.55"/><circle cx="409.8" cy="391.2" r="2.55"/><circle cx="368.2" cy="324.5" r="2.55"/><circle cx="413.1" cy="263.4" r="2.55"/><circle cx="313.9" cy="239.7" r="2.55"/><circle cx="370.0" cy="337.7" r="2.55"/><circle cx="362.5" cy="356.2" r="2.55"/><circle cx="455.5" cy="353.6" r="2.55"/><circle cx="397.4" cy="281.7" r="2.55"/><circle cx="391.4" cy="280.6" r="2.55"/><circle cx="441.2" cy="358.5" r="2.55"/><circle cx="399.1" cy="297.5" r="2.55"/><circle cx="401.0" cy="223.7" r="2.55"/><circle cx="405.6" cy="314.3" r="2.55"/><circle cx="367.0" cy="337.5" r="2.55"/><circle cx="415.0" cy="377.4" r="2.55"/><circle cx="480.5" cy="362.6" r="2.55"/><circle cx="317.5" cy="288.7" r="2.55"/><circle cx="354.9" cy="214.4" r="2.55"/><circle cx="352.4" cy="350.4" r="2.55"/><circle cx="447.5" cy="339.8" r="2.55"/><circle cx="328.6" cy="239.5" r="2.55"/><circle cx="413.8" cy="332.8" r="2.55"/><circle cx="369.3" cy="296.3" r="2.55"/><circle cx="425.3" cy="327.4" r="2.55"/><circle cx="349.1" cy="323.2" r="2.55"/><circle cx="262.9" cy="283.9" r="2.55"/><circle cx="405.6" cy="334.7" r="2.55"/><circle cx="407.3" cy="387.8" r="2.55"/><circle cx="385.2" cy="290.9" r="2.55"/><circle cx="357.7" cy="309.7" r="2.55"/><circle cx="418.1" cy="319.3" r="2.55"/><circle cx="368.4" cy="339.1" r="2.55"/><circle cx="410.5" cy="371.5" r="2.55"/><circle cx="317.9" cy="262.4" r="2.55"/><circle cx="423.2" cy="325.0" r="2.55"/><circle cx="454.8" cy="326.7" r="2.55"/><circle cx="437.0" cy="331.0" r="2.55"/><circle cx="335.9" cy="283.8" r="2.55"/><circle cx="312.6" cy="285.1" r="2.55"/><circle cx="394.4" cy="271.5" r="2.55"/><circle cx="267.9" cy="219.7" r="2.55"/><circle cx="321.3" cy="282.4" r="2.55"/><circle cx="429.9" cy="217.2" r="2.55"/><circle cx="389.5" cy="251.7" r="2.55"/><circle cx="431.7" cy="314.1" r="2.55"/><circle cx="386.0" cy="312.3" r="2.55"/><circle cx="383.3" cy="300.1" r="2.55"/><circle cx="275.0" cy="225.2" r="2.55"/><circle cx="382.7" cy="277.3" r="2.55"/><circle cx="340.3" cy="284.7" r="2.55"/><circle cx="411.3" cy="338.2" r="2.55"/><circle cx="421.7" cy="331.0" r="2.55"/><circle cx="449.3" cy="296.6" r="2.55"/><circle cx="385.8" cy="352.5" r="2.55"/><circle cx="378.0" cy="302.1" r="2.55"/><circle cx="367.6" cy="336.3" r="2.55"/><circle cx="396.1" cy="264.4" r="2.55"/><circle cx="375.5" cy="317.7" r="2.55"/><circle cx="438.4" cy="370.1" r="2.55"/><circle cx="327.8" cy="306.8" r="2.55"/><circle cx="400.7" cy="189.0" r="2.55"/><circle cx="395.9" cy="353.4" r="2.55"/><circle cx="398.0" cy="311.3" r="2.55"/><circle cx="350.7" cy="272.1" r="2.55"/><circle cx="421.7" cy="404.5" r="2.55"/><circle cx="385.4" cy="333.8" r="2.55"/><circle cx="399.0" cy="259.8" r="2.55"/><circle cx="351.3" cy="273.6" r="2.55"/><circle cx="473.5" cy="376.6" r="2.55"/><circle cx="373.7" cy="303.6" r="2.55"/><circle cx="372.3" cy="263.9" r="2.55"/><circle cx="359.1" cy="308.6" r="2.55"/><circle cx="306.5" cy="322.7" r="2.55"/><circle cx="398.9" cy="308.8" r="2.55"/><circle cx="406.5" cy="285.9" r="2.55"/><circle cx="302.3" cy="284.2" r="2.55"/><circle cx="369.2" cy="353.3" r="2.55"/><circle cx="367.0" cy="298.1" r="2.55"/><circle cx="400.2" cy="348.9" r="2.55"/><circle cx="393.2" cy="249.5" r="2.55"/><circle cx="383.4" cy="342.2" r="2.55"/><circle cx="303.0" cy="277.1" r="2.55"/><circle cx="360.1" cy="306.5" r="2.55"/><circle cx="368.9" cy="258.6" r="2.55"/><circle cx="397.6" cy="312.1" r="2.55"/><circle cx="381.2" cy="374.3" r="2.55"/><circle cx="374.7" cy="278.8" r="2.55"/><circle cx="391.3" cy="270.0" r="2.55"/><circle cx="469.3" cy="320.3" r="2.55"/><circle cx="378.2" cy="261.6" r="2.55"/><circle cx="398.9" cy="314.4" r="2.55"/><circle cx="379.7" cy="316.1" r="2.55"/><circle cx="391.2" cy="249.4" r="2.55"/><circle cx="422.9" cy="372.9" r="2.55"/><circle cx="355.8" cy="229.8" r="2.55"/><circle cx="435.3" cy="367.7" r="2.55"/><circle cx="456.3" cy="272.0" r="2.55"/><circle cx="429.3" cy="347.3" r="2.55"/><circle cx="296.5" cy="329.6" r="2.55"/><circle cx="433.1" cy="287.2" r="2.55"/><circle cx="397.3" cy="376.6" r="2.55"/><circle cx="377.7" cy="217.5" r="2.55"/><circle cx="438.1" cy="345.4" r="2.55"/><circle cx="452.3" cy="361.9" r="2.55"/><circle cx="284.7" cy="237.8" r="2.55"/><circle cx="461.9" cy="353.7" r="2.55"/><circle cx="305.4" cy="242.6" r="2.55"/><circle cx="336.1" cy="263.4" r="2.55"/><circle cx="313.8" cy="216.9" r="2.55"/><circle cx="440.5" cy="307.2" r="2.55"/><circle cx="348.7" cy="299.2" r="2.55"/><circle cx="444.5" cy="406.5" r="2.55"/><circle cx="362.1" cy="316.3" r="2.55"/><circle cx="371.6" cy="312.0" r="2.55"/><circle cx="392.9" cy="358.9" r="2.55"/><circle cx="371.2" cy="288.4" r="2.55"/><circle cx="369.0" cy="268.2" r="2.55"/><circle cx="394.8" cy="352.1" r="2.55"/><circle cx="312.3" cy="230.0" r="2.55"/><circle cx="465.2" cy="322.8" r="2.55"/><circle cx="349.3" cy="244.2" r="2.55"/><circle cx="336.2" cy="283.6" r="2.55"/><circle cx="321.8" cy="315.3" r="2.55"/><circle cx="364.9" cy="302.6" r="2.55"/><circle cx="343.2" cy="313.9" r="2.55"/><circle cx="441.2" cy="335.7" r="2.55"/><circle cx="373.1" cy="253.5" r="2.55"/><circle cx="406.0" cy="335.0" r="2.55"/><circle cx="340.9" cy="306.7" r="2.55"/><circle cx="349.0" cy="297.6" r="2.55"/><circle cx="412.6" cy="279.6" r="2.55"/><circle cx="390.1" cy="312.6" r="2.55"/><circle cx="384.0" cy="275.7" r="2.55"/><circle cx="360.3" cy="326.0" r="2.55"/><circle cx="414.1" cy="308.6" r="2.55"/><circle cx="361.1" cy="282.9" r="2.55"/><circle cx="350.7" cy="317.5" r="2.55"/><circle cx="341.4" cy="250.0" r="2.55"/><circle cx="298.0" cy="186.0" r="2.55"/><circle cx="301.5" cy="257.3" r="2.55"/><circle cx="277.7" cy="231.1" r="2.55"/><circle cx="357.2" cy="342.0" r="2.55"/><circle cx="404.4" cy="339.1" r="2.55"/><circle cx="379.5" cy="271.9" r="2.55"/><circle cx="352.8" cy="356.3" r="2.55"/><circle cx="373.3" cy="318.5" r="2.55"/><circle cx="409.5" cy="344.7" r="2.55"/><circle cx="346.6" cy="259.0" r="2.55"/><circle cx="378.7" cy="308.2" r="2.55"/><circle cx="334.8" cy="272.6" r="2.55"/><circle cx="367.9" cy="416.5" r="2.55"/><circle cx="351.1" cy="304.0" r="2.55"/><circle cx="445.1" cy="377.5" r="2.55"/><circle cx="395.0" cy="259.0" r="2.55"/><circle cx="524.8" cy="387.2" r="2.55"/><circle cx="389.4" cy="318.0" r="2.55"/><circle cx="403.6" cy="283.7" r="2.55"/><circle cx="346.4" cy="279.3" r="2.55"/><circle cx="369.9" cy="300.7" r="2.55"/><circle cx="252.6" cy="226.6" r="2.55"/><circle cx="407.7" cy="339.5" r="2.55"/><circle cx="351.5" cy="365.3" r="2.55"/><circle cx="325.3" cy="254.5" r="2.55"/><circle cx="438.8" cy="327.9" r="2.55"/><circle cx="353.3" cy="318.0" r="2.55"/><circle cx="367.6" cy="327.2" r="2.55"/><circle cx="372.1" cy="343.5" r="2.55"/><circle cx="385.3" cy="293.8" r="2.55"/><circle cx="332.5" cy="219.4" r="2.55"/><circle cx="406.6" cy="361.9" r="2.55"/><circle cx="343.5" cy="244.8" r="2.55"/><circle cx="417.0" cy="286.6" r="2.55"/><circle cx="385.1" cy="327.3" r="2.55"/><circle cx="339.7" cy="212.1" r="2.55"/><circle cx="334.4" cy="273.4" r="2.55"/><circle cx="456.1" cy="450.8" r="2.55"/><circle cx="415.0" cy="231.6" r="2.55"/><circle cx="401.0" cy="341.6" r="2.55"/><circle cx="402.3" cy="269.0" r="2.55"/><circle cx="388.3" cy="306.2" r="2.55"/><circle cx="442.9" cy="303.1" r="2.55"/><circle cx="351.6" cy="308.3" r="2.55"/><circle cx="439.6" cy="405.4" r="2.55"/><circle cx="424.3" cy="348.1" r="2.55"/><circle cx="324.0" cy="230.5" r="2.55"/><circle cx="335.0" cy="281.8" r="2.55"/><circle cx="366.4" cy="325.7" r="2.55"/><circle cx="407.0" cy="300.0" r="2.55"/><circle cx="476.9" cy="330.9" r="2.55"/><circle cx="356.1" cy="250.7" r="2.55"/><circle cx="348.0" cy="290.3" r="2.55"/><circle cx="364.8" cy="297.2" r="2.55"/><circle cx="402.7" cy="356.9" r="2.55"/><circle cx="265.2" cy="260.4" r="2.55"/><circle cx="299.0" cy="251.9" r="2.55"/><circle cx="463.6" cy="411.8" r="2.55"/><circle cx="362.0" cy="303.8" r="2.55"/><circle cx="381.2" cy="332.2" r="2.55"/><circle cx="396.4" cy="347.1" r="2.55"/><circle cx="387.6" cy="331.9" r="2.55"/><circle cx="326.0" cy="285.2" r="2.55"/><circle cx="407.3" cy="337.1" r="2.55"/><circle cx="468.3" cy="321.5" r="2.55"/><circle cx="340.5" cy="292.1" r="2.55"/><circle cx="490.7" cy="294.4" r="2.55"/><circle cx="319.7" cy="314.8" r="2.55"/><circle cx="390.7" cy="346.5" r="2.55"/><circle cx="409.2" cy="317.1" r="2.55"/><circle cx="352.7" cy="277.5" r="2.55"/><circle cx="287.7" cy="315.0" r="2.55"/><circle cx="322.6" cy="289.9" r="2.55"/><circle cx="366.4" cy="323.8" r="2.55"/><circle cx="367.1" cy="289.3" r="2.55"/><circle cx="312.4" cy="257.7" r="2.55"/><circle cx="327.3" cy="233.4" r="2.55"/><circle cx="405.9" cy="398.3" r="2.55"/><circle cx="384.8" cy="335.2" r="2.55"/><circle cx="312.3" cy="330.7" r="2.55"/><circle cx="468.3" cy="343.8" r="2.55"/><circle cx="362.4" cy="346.7" r="2.55"/><circle cx="434.1" cy="357.3" r="2.55"/><circle cx="355.4" cy="279.6" r="2.55"/><circle cx="388.8" cy="320.8" r="2.55"/><circle cx="346.6" cy="300.0" r="2.55"/><circle cx="425.3" cy="284.8" r="2.55"/><circle cx="340.0" cy="328.0" r="2.55"/><circle cx="447.1" cy="310.2" r="2.55"/><circle cx="407.7" cy="296.7" r="2.55"/><circle cx="338.3" cy="238.4" r="2.55"/><circle cx="334.5" cy="295.4" r="2.55"/><circle cx="323.2" cy="349.5" r="2.55"/><circle cx="402.8" cy="285.0" r="2.55"/><circle cx="412.3" cy="312.2" r="2.55"/><circle cx="412.5" cy="331.9" r="2.55"/><circle cx="435.0" cy="427.5" r="2.55"/><circle cx="400.8" cy="337.1" r="2.55"/><circle cx="412.3" cy="360.0" r="2.55"/><circle cx="296.2" cy="239.5" r="2.55"/><circle cx="340.7" cy="321.9" r="2.55"/><circle cx="317.2" cy="269.0" r="2.55"/><circle cx="436.5" cy="284.4" r="2.55"/><circle cx="313.6" cy="271.2" r="2.55"/><circle cx="396.4" cy="288.6" r="2.55"/><circle cx="329.7" cy="296.0" r="2.55"/><circle cx="476.7" cy="398.9" r="2.55"/><circle cx="434.2" cy="324.4" r="2.55"/><circle cx="355.6" cy="306.5" r="2.55"/><circle cx="466.6" cy="255.3" r="2.55"/><circle cx="382.1" cy="334.3" r="2.55"/><circle cx="425.1" cy="399.1" r="2.55"/><circle cx="338.9" cy="205.7" r="2.55"/><circle cx="364.6" cy="250.2" r="2.55"/><circle cx="303.6" cy="324.0" r="2.55"/><circle cx="379.1" cy="271.6" r="2.55"/><circle cx="405.2" cy="366.9" r="2.55"/><circle cx="465.4" cy="290.7" r="2.55"/><circle cx="346.5" cy="341.8" r="2.55"/><circle cx="403.1" cy="373.0" r="2.55"/><circle cx="362.0" cy="270.3" r="2.55"/><circle cx="346.3" cy="259.6" r="2.55"/><circle cx="306.8" cy="241.9" r="2.55"/><circle cx="346.6" cy="229.5" r="2.55"/><circle cx="333.2" cy="267.0" r="2.55"/><circle cx="374.4" cy="318.5" r="2.55"/><circle cx="428.4" cy="295.6" r="2.55"/><circle cx="393.0" cy="319.2" r="2.55"/><circle cx="438.2" cy="410.8" r="2.55"/><circle cx="388.5" cy="242.9" r="2.55"/><circle cx="450.1" cy="363.3" r="2.55"/><circle cx="411.8" cy="323.9" r="2.55"/><circle cx="444.1" cy="320.5" r="2.55"/><circle cx="331.3" cy="241.9" r="2.55"/><circle cx="419.2" cy="326.8" r="2.55"/><circle cx="437.1" cy="299.1" r="2.55"/><circle cx="340.8" cy="345.6" r="2.55"/><circle cx="326.6" cy="242.7" r="2.55"/><circle cx="378.2" cy="278.4" r="2.55"/><circle cx="355.5" cy="306.5" r="2.55"/><circle cx="378.0" cy="250.6" r="2.55"/><circle cx="317.7" cy="307.0" r="2.55"/><circle cx="351.3" cy="343.3" r="2.55"/><circle cx="307.2" cy="262.1" r="2.55"/><circle cx="430.0" cy="332.9" r="2.55"/><circle cx="354.1" cy="299.6" r="2.55"/><circle cx="447.0" cy="389.8" r="2.55"/><circle cx="428.5" cy="300.1" r="2.55"/><circle cx="413.6" cy="398.3" r="2.55"/><circle cx="356.6" cy="294.2" r="2.55"/><circle cx="292.4" cy="324.5" r="2.55"/><circle cx="443.6" cy="381.0" r="2.55"/><circle cx="330.7" cy="262.0" r="2.55"/><circle cx="356.2" cy="323.7" r="2.55"/><circle cx="398.9" cy="236.7" r="2.55"/><circle cx="405.8" cy="297.4" r="2.55"/><circle cx="362.2" cy="282.1" r="2.55"/><circle cx="356.7" cy="343.0" r="2.55"/><circle cx="373.0" cy="335.4" r="2.55"/><circle cx="392.4" cy="336.0" r="2.55"/><circle cx="420.9" cy="325.5" r="2.55"/><circle cx="391.7" cy="273.0" r="2.55"/><circle cx="394.0" cy="256.8" r="2.55"/><circle cx="440.5" cy="341.8" r="2.55"/><circle cx="456.8" cy="364.5" r="2.55"/><circle cx="360.0" cy="262.8" r="2.55"/><circle cx="393.6" cy="327.8" r="2.55"/><circle cx="358.1" cy="262.0" r="2.55"/><circle cx="317.6" cy="239.1" r="2.55"/><circle cx="426.9" cy="319.3" r="2.55"/><circle cx="403.0" cy="352.2" r="2.55"/><circle cx="423.6" cy="381.4" r="2.55"/><circle cx="362.0" cy="296.6" r="2.55"/><circle cx="388.7" cy="377.3" r="2.55"/><circle cx="388.4" cy="356.2" r="2.55"/><circle cx="377.2" cy="280.7" r="2.55"/><circle cx="365.4" cy="303.3" r="2.55"/><circle cx="397.0" cy="252.1" r="2.55"/><circle cx="357.2" cy="298.8" r="2.55"/><circle cx="499.8" cy="408.7" r="2.55"/><circle cx="391.0" cy="272.8" r="2.55"/><circle cx="373.9" cy="326.6" r="2.55"/><circle cx="369.4" cy="267.5" r="2.55"/><circle cx="406.0" cy="325.9" r="2.55"/><circle cx="389.6" cy="333.7" r="2.55"/><circle cx="401.7" cy="300.6" r="2.55"/><circle cx="338.8" cy="332.0" r="2.55"/><circle cx="442.6" cy="302.9" r="2.55"/><circle cx="284.3" cy="181.5" r="2.55"/><circle cx="241.7" cy="242.8" r="2.55"/><circle cx="384.7" cy="287.8" r="2.55"/><circle cx="359.7" cy="279.7" r="2.55"/><circle cx="325.8" cy="268.9" r="2.55"/><circle cx="469.6" cy="378.5" r="2.55"/><circle cx="411.7" cy="318.5" r="2.55"/><circle cx="373.1" cy="306.0" r="2.55"/><circle cx="386.8" cy="328.0" r="2.55"/><circle cx="339.6" cy="263.3" r="2.55"/><circle cx="360.9" cy="259.0" r="2.55"/><circle cx="364.5" cy="314.6" r="2.55"/><circle cx="377.6" cy="213.1" r="2.55"/><circle cx="342.4" cy="287.3" r="2.55"/><circle cx="337.1" cy="268.4" r="2.55"/><circle cx="384.1" cy="296.6" r="2.55"/><circle cx="390.8" cy="301.7" r="2.55"/><circle cx="319.2" cy="300.5" r="2.55"/><circle cx="388.8" cy="386.9" r="2.55"/><circle cx="393.3" cy="333.2" r="2.55"/><circle cx="357.9" cy="259.3" r="2.55"/><circle cx="337.1" cy="299.7" r="2.55"/><circle cx="344.8" cy="252.8" r="2.55"/><circle cx="339.6" cy="214.7" r="2.55"/><circle cx="436.2" cy="357.0" r="2.55"/><circle cx="403.3" cy="317.2" r="2.55"/><circle cx="313.7" cy="269.2" r="2.55"/><circle cx="299.2" cy="296.8" r="2.55"/><circle cx="333.3" cy="314.6" r="2.55"/><circle cx="364.2" cy="202.1" r="2.55"/><circle cx="460.4" cy="374.7" r="2.55"/><circle cx="444.4" cy="243.9" r="2.55"/><circle cx="417.0" cy="414.8" r="2.55"/><circle cx="371.1" cy="295.7" r="2.55"/><circle cx="366.8" cy="290.1" r="2.55"/><circle cx="379.2" cy="312.6" r="2.55"/><circle cx="367.6" cy="321.1" r="2.55"/><circle cx="362.3" cy="335.5" r="2.55"/><circle cx="300.2" cy="215.7" r="2.55"/><circle cx="386.8" cy="337.9" r="2.55"/><circle cx="416.8" cy="324.5" r="2.55"/><circle cx="287.6" cy="334.0" r="2.55"/><circle cx="369.9" cy="276.2" r="2.55"/><circle cx="289.1" cy="263.5" r="2.55"/><circle cx="352.8" cy="301.5" r="2.55"/><circle cx="435.9" cy="411.8" r="2.55"/><circle cx="413.8" cy="296.9" r="2.55"/><circle cx="429.4" cy="394.8" r="2.55"/><circle cx="351.6" cy="359.7" r="2.55"/><circle cx="456.0" cy="345.5" r="2.55"/><circle cx="321.5" cy="248.5" r="2.55"/><circle cx="320.5" cy="250.3" r="2.55"/><circle cx="342.1" cy="283.8" r="2.55"/><circle cx="409.2" cy="381.2" r="2.55"/><circle cx="318.3" cy="260.8" r="2.55"/><circle cx="457.3" cy="358.8" r="2.55"/><circle cx="512.1" cy="427.9" r="2.55"/><circle cx="423.5" cy="367.7" r="2.55"/><circle cx="370.6" cy="290.8" r="2.55"/><circle cx="364.5" cy="310.3" r="2.55"/><circle cx="467.6" cy="386.2" r="2.55"/><circle cx="381.5" cy="281.4" r="2.55"/><circle cx="413.5" cy="298.6" r="2.55"/><circle cx="379.7" cy="316.5" r="2.55"/><circle cx="472.8" cy="321.4" r="2.55"/><circle cx="386.3" cy="337.0" r="2.55"/><circle cx="369.1" cy="238.2" r="2.55"/><circle cx="393.3" cy="335.3" r="2.55"/><circle cx="472.9" cy="247.2" r="2.55"/><circle cx="367.1" cy="331.7" r="2.55"/><circle cx="345.8" cy="280.4" r="2.55"/><circle cx="442.2" cy="303.1" r="2.55"/><circle cx="340.5" cy="320.9" r="2.55"/><circle cx="403.6" cy="321.1" r="2.55"/><circle cx="345.1" cy="286.2" r="2.55"/><circle cx="354.3" cy="275.7" r="2.55"/><circle cx="388.2" cy="365.5" r="2.55"/><circle cx="376.2" cy="296.1" r="2.55"/><circle cx="382.2" cy="270.9" r="2.55"/><circle cx="332.9" cy="247.2" r="2.55"/><circle cx="397.4" cy="286.5" r="2.55"/><circle cx="328.8" cy="309.4" r="2.55"/><circle cx="385.3" cy="212.0" r="2.55"/><circle cx="358.2" cy="298.9" r="2.55"/><circle cx="419.5" cy="328.7" r="2.55"/><circle cx="405.9" cy="264.8" r="2.55"/><circle cx="377.5" cy="311.0" r="2.55"/><circle cx="335.4" cy="313.1" r="2.55"/><circle cx="387.4" cy="274.1" r="2.55"/><circle cx="309.9" cy="249.2" r="2.55"/><circle cx="434.3" cy="281.9" r="2.55"/><circle cx="349.7" cy="311.2" r="2.55"/><circle cx="303.6" cy="271.9" r="2.55"/><circle cx="362.1" cy="292.5" r="2.55"/><circle cx="381.6" cy="332.3" r="2.55"/><circle cx="351.4" cy="320.4" r="2.55"/><circle cx="349.9" cy="321.5" r="2.55"/><circle cx="443.2" cy="349.6" r="2.55"/><circle cx="371.0" cy="275.6" r="2.55"/><circle cx="410.2" cy="271.7" r="2.55"/><circle cx="457.6" cy="327.0" r="2.55"/><circle cx="336.9" cy="309.9" r="2.55"/><circle cx="391.1" cy="360.8" r="2.55"/><circle cx="387.9" cy="349.1" r="2.55"/><circle cx="385.2" cy="244.9" r="2.55"/><circle cx="374.1" cy="313.8" r="2.55"/><circle cx="317.4" cy="209.0" r="2.55"/><circle cx="403.5" cy="293.1" r="2.55"/><circle cx="397.2" cy="375.9" r="2.55"/><circle cx="411.9" cy="320.5" r="2.55"/><circle cx="320.0" cy="203.3" r="2.55"/><circle cx="363.5" cy="318.9" r="2.55"/><circle cx="300.1" cy="259.5" r="2.55"/><circle cx="407.1" cy="323.2" r="2.55"/><circle cx="475.3" cy="371.0" r="2.55"/><circle cx="351.4" cy="295.8" r="2.55"/><circle cx="377.4" cy="306.9" r="2.55"/><circle cx="362.3" cy="301.6" r="2.55"/><circle cx="300.7" cy="378.2" r="2.55"/><circle cx="361.6" cy="303.5" r="2.55"/><circle cx="369.6" cy="244.6" r="2.55"/><circle cx="394.0" cy="296.1" r="2.55"/><circle cx="438.8" cy="371.6" r="2.55"/><circle cx="363.3" cy="335.0" r="2.55"/><circle cx="379.2" cy="279.4" r="2.55"/><circle cx="392.6" cy="310.3" r="2.55"/><circle cx="323.7" cy="115.0" r="2.55"/><circle cx="361.5" cy="285.5" r="2.55"/><circle cx="450.7" cy="338.0" r="2.55"/><circle cx="394.6" cy="331.8" r="2.55"/><circle cx="321.9" cy="286.6" r="2.55"/><circle cx="380.5" cy="246.5" r="2.55"/><circle cx="389.4" cy="368.5" r="2.55"/><circle cx="374.0" cy="307.5" r="2.55"/><circle cx="429.4" cy="332.1" r="2.55"/><circle cx="390.3" cy="317.5" r="2.55"/><circle cx="418.1" cy="338.6" r="2.55"/><circle cx="375.1" cy="348.2" r="2.55"/><circle cx="412.7" cy="313.5" r="2.55"/><circle cx="356.1" cy="343.4" r="2.55"/><circle cx="401.8" cy="284.6" r="2.55"/><circle cx="408.1" cy="356.8" r="2.55"/><circle cx="372.2" cy="258.2" r="2.55"/><circle cx="460.9" cy="302.6" r="2.55"/><circle cx="353.0" cy="308.7" r="2.55"/><circle cx="418.4" cy="328.9" r="2.55"/><circle cx="423.6" cy="296.8" r="2.55"/><circle cx="355.6" cy="285.0" r="2.55"/><circle cx="380.4" cy="313.4" r="2.55"/><circle cx="382.7" cy="280.1" r="2.55"/><circle cx="415.2" cy="314.9" r="2.55"/><circle cx="463.7" cy="309.3" r="2.55"/><circle cx="292.5" cy="251.7" r="2.55"/><circle cx="339.6" cy="191.2" r="2.55"/><circle cx="361.1" cy="242.8" r="2.55"/><circle cx="357.2" cy="304.4" r="2.55"/><circle cx="386.3" cy="327.5" r="2.55"/><circle cx="406.9" cy="384.2" r="2.55"/><circle cx="439.3" cy="319.6" r="2.55"/><circle cx="425.7" cy="273.5" r="2.55"/><circle cx="355.4" cy="291.2" r="2.55"/><circle cx="369.7" cy="332.6" r="2.55"/><circle cx="399.2" cy="313.4" r="2.55"/><circle cx="481.0" cy="324.7" r="2.55"/><circle cx="271.6" cy="272.3" r="2.55"/><circle cx="415.6" cy="387.2" r="2.55"/><circle cx="262.8" cy="254.1" r="2.55"/><circle cx="313.5" cy="252.4" r="2.55"/><circle cx="372.9" cy="292.3" r="2.55"/><circle cx="337.9" cy="364.1" r="2.55"/><circle cx="408.0" cy="388.7" r="2.55"/><circle cx="333.8" cy="260.2" r="2.55"/><circle cx="371.1" cy="282.4" r="2.55"/><circle cx="327.7" cy="244.3" r="2.55"/><circle cx="485.8" cy="301.9" r="2.55"/><circle cx="353.9" cy="295.4" r="2.55"/><circle cx="254.3" cy="206.6" r="2.55"/><circle cx="323.3" cy="309.1" r="2.55"/><circle cx="288.3" cy="218.4" r="2.55"/><circle cx="409.1" cy="317.4" r="2.55"/><circle cx="401.3" cy="314.7" r="2.55"/><circle cx="409.8" cy="362.6" r="2.55"/><circle cx="381.3" cy="379.0" r="2.55"/><circle cx="419.7" cy="342.5" r="2.55"/><circle cx="349.8" cy="291.1" r="2.55"/><circle cx="334.0" cy="295.5" r="2.55"/><circle cx="370.1" cy="241.6" r="2.55"/><circle cx="431.8" cy="386.7" r="2.55"/><circle cx="385.0" cy="330.2" r="2.55"/><circle cx="389.6" cy="293.3" r="2.55"/><circle cx="280.4" cy="311.2" r="2.55"/><circle cx="400.1" cy="310.9" r="2.55"/><circle cx="366.0" cy="338.1" r="2.55"/><circle cx="423.4" cy="367.8" r="2.55"/><circle cx="455.4" cy="332.5" r="2.55"/><circle cx="430.1" cy="368.7" r="2.55"/><circle cx="367.8" cy="333.7" r="2.55"/><circle cx="382.5" cy="333.0" r="2.55"/><circle cx="430.3" cy="363.6" r="2.55"/><circle cx="365.5" cy="275.8" r="2.55"/><circle cx="401.3" cy="315.4" r="2.55"/><circle cx="290.7" cy="251.9" r="2.55"/><circle cx="371.2" cy="234.9" r="2.55"/><circle cx="357.8" cy="332.3" r="2.55"/><circle cx="457.2" cy="357.5" r="2.55"/><circle cx="402.3" cy="338.8" r="2.55"/><circle cx="374.2" cy="260.3" r="2.55"/><circle cx="317.1" cy="293.3" r="2.55"/><circle cx="302.6" cy="253.6" r="2.55"/><circle cx="389.5" cy="301.3" r="2.55"/><circle cx="350.3" cy="225.9" r="2.55"/><circle cx="423.3" cy="294.6" r="2.55"/><circle cx="329.2" cy="272.6" r="2.55"/><circle cx="286.8" cy="199.7" r="2.55"/><circle cx="364.3" cy="228.6" r="2.55"/><circle cx="361.5" cy="201.4" r="2.55"/><circle cx="392.2" cy="263.2" r="2.55"/><circle cx="391.3" cy="284.3" r="2.55"/><circle cx="296.8" cy="320.1" r="2.55"/><circle cx="362.5" cy="326.9" r="2.55"/><circle cx="349.3" cy="339.6" r="2.55"/><circle cx="419.9" cy="281.1" r="2.55"/><circle cx="355.6" cy="287.2" r="2.55"/><circle cx="363.4" cy="249.1" r="2.55"/><circle cx="433.6" cy="380.7" r="2.55"/><circle cx="323.3" cy="190.0" r="2.55"/><circle cx="403.6" cy="295.4" r="2.55"/><circle cx="287.7" cy="185.8" r="2.55"/><circle cx="388.5" cy="343.4" r="2.55"/><circle cx="325.0" cy="292.5" r="2.55"/><circle cx="348.0" cy="300.4" r="2.55"/><circle cx="407.1" cy="335.8" r="2.55"/><circle cx="275.8" cy="220.5" r="2.55"/><circle cx="470.7" cy="290.2" r="2.55"/><circle cx="421.5" cy="278.5" r="2.55"/><circle cx="337.2" cy="382.6" r="2.55"/><circle cx="344.9" cy="304.2" r="2.55"/><circle cx="326.7" cy="225.4" r="2.55"/><circle cx="341.3" cy="325.3" r="2.55"/><circle cx="371.6" cy="262.3" r="2.55"/><circle cx="427.6" cy="309.9" r="2.55"/><circle cx="381.3" cy="296.9" r="2.55"/><circle cx="381.8" cy="207.0" r="2.55"/><circle cx="373.3" cy="322.9" r="2.55"/><circle cx="346.6" cy="229.6" r="2.55"/><circle cx="390.8" cy="320.0" r="2.55"/><circle cx="364.2" cy="414.3" r="2.55"/><circle cx="325.5" cy="198.1" r="2.55"/><circle cx="397.8" cy="275.0" r="2.55"/><circle cx="312.9" cy="330.1" r="2.55"/><circle cx="240.9" cy="229.5" r="2.55"/><circle cx="353.4" cy="303.9" r="2.55"/><circle cx="357.5" cy="237.4" r="2.55"/><circle cx="426.6" cy="410.5" r="2.55"/><circle cx="369.5" cy="358.2" r="2.55"/><circle cx="432.4" cy="367.8" r="2.55"/><circle cx="370.0" cy="396.8" r="2.55"/><circle cx="375.2" cy="312.6" r="2.55"/><circle cx="412.8" cy="269.4" r="2.55"/><circle cx="392.4" cy="283.0" r="2.55"/><circle cx="440.6" cy="461.7" r="2.55"/><circle cx="365.1" cy="319.7" r="2.55"/><circle cx="341.3" cy="294.6" r="2.55"/><circle cx="404.5" cy="332.4" r="2.55"/><circle cx="317.9" cy="251.3" r="2.55"/><circle cx="379.9" cy="350.7" r="2.55"/><circle cx="351.4" cy="270.3" r="2.55"/><circle cx="373.1" cy="282.6" r="2.55"/><circle cx="448.2" cy="385.2" r="2.55"/><circle cx="311.3" cy="278.7" r="2.55"/><circle cx="414.2" cy="392.3" r="2.55"/><circle cx="380.5" cy="263.1" r="2.55"/><circle cx="333.5" cy="254.9" r="2.55"/><circle cx="423.9" cy="312.7" r="2.55"/><circle cx="344.7" cy="302.4" r="2.55"/><circle cx="329.9" cy="393.9" r="2.55"/><circle cx="333.2" cy="251.6" r="2.55"/><circle cx="378.1" cy="342.4" r="2.55"/><circle cx="373.7" cy="296.7" r="2.55"/><circle cx="367.1" cy="298.6" r="2.55"/><circle cx="374.9" cy="276.9" r="2.55"/><circle cx="427.4" cy="386.0" r="2.55"/><circle cx="357.6" cy="283.9" r="2.55"/><circle cx="344.1" cy="365.7" r="2.55"/><circle cx="374.9" cy="311.2" r="2.55"/><circle cx="352.3" cy="309.6" r="2.55"/><circle cx="421.4" cy="450.8" r="2.55"/><circle cx="333.0" cy="249.5" r="2.55"/><circle cx="433.6" cy="244.8" r="2.55"/><circle cx="377.2" cy="357.4" r="2.55"/><circle cx="400.1" cy="304.3" r="2.55"/><circle cx="341.3" cy="269.0" r="2.55"/><circle cx="333.8" cy="290.4" r="2.55"/><circle cx="399.9" cy="338.5" r="2.55"/><circle cx="471.5" cy="316.2" r="2.55"/><circle cx="390.8" cy="241.4" r="2.55"/><circle cx="405.6" cy="321.2" r="2.55"/><circle cx="418.9" cy="376.9" r="2.55"/><circle cx="332.3" cy="267.5" r="2.55"/><circle cx="407.6" cy="340.2" r="2.55"/><circle cx="337.5" cy="325.1" r="2.55"/><circle cx="404.7" cy="255.5" r="2.55"/><circle cx="338.6" cy="322.1" r="2.55"/><circle cx="286.6" cy="261.6" r="2.55"/><circle cx="433.1" cy="417.8" r="2.55"/><circle cx="442.5" cy="371.4" r="2.55"/><circle cx="327.7" cy="254.4" r="2.55"/><circle cx="391.1" cy="295.3" r="2.55"/><circle cx="340.2" cy="291.4" r="2.55"/><circle cx="401.5" cy="306.4" r="2.55"/><circle cx="333.8" cy="296.8" r="2.55"/><circle cx="335.3" cy="219.9" r="2.55"/><circle cx="392.1" cy="335.6" r="2.55"/><circle cx="287.7" cy="249.6" r="2.55"/><circle cx="408.4" cy="324.2" r="2.55"/><circle cx="385.9" cy="321.2" r="2.55"/><circle cx="366.9" cy="336.3" r="2.55"/><circle cx="449.6" cy="359.6" r="2.55"/><circle cx="401.9" cy="322.4" r="2.55"/><circle cx="466.8" cy="399.7" r="2.55"/><circle cx="462.8" cy="283.0" r="2.55"/><circle cx="415.4" cy="292.3" r="2.55"/><circle cx="392.2" cy="312.8" r="2.55"/><circle cx="398.2" cy="314.4" r="2.55"/><circle cx="392.8" cy="310.6" r="2.55"/><circle cx="376.7" cy="262.5" r="2.55"/><circle cx="282.5" cy="224.1" r="2.55"/><circle cx="355.9" cy="337.8" r="2.55"/><circle cx="289.5" cy="316.5" r="2.55"/><circle cx="388.0" cy="317.7" r="2.55"/><circle cx="338.4" cy="297.0" r="2.55"/><circle cx="388.0" cy="397.6" r="2.55"/><circle cx="310.2" cy="278.1" r="2.55"/><circle cx="411.6" cy="397.9" r="2.55"/><circle cx="396.4" cy="307.9" r="2.55"/><circle cx="320.0" cy="301.6" r="2.55"/><circle cx="357.4" cy="302.1" r="2.55"/><circle cx="339.7" cy="227.7" r="2.55"/><circle cx="352.7" cy="302.6" r="2.55"/><circle cx="388.6" cy="306.4" r="2.55"/><circle cx="382.6" cy="281.1" r="2.55"/><circle cx="469.8" cy="337.2" r="2.55"/><circle cx="305.6" cy="232.6" r="2.55"/><circle cx="393.6" cy="311.5" r="2.55"/><circle cx="355.4" cy="265.6" r="2.55"/><circle cx="352.1" cy="310.9" r="2.55"/><circle cx="301.7" cy="297.0" r="2.55"/><circle cx="357.8" cy="325.8" r="2.55"/><circle cx="400.4" cy="309.9" r="2.55"/><circle cx="434.6" cy="270.2" r="2.55"/><circle cx="274.4" cy="228.3" r="2.55"/><circle cx="312.9" cy="244.4" r="2.55"/><circle cx="407.7" cy="331.4" r="2.55"/><circle cx="393.2" cy="300.9" r="2.55"/><circle cx="388.1" cy="366.2" r="2.55"/><circle cx="333.8" cy="258.7" r="2.55"/><circle cx="440.6" cy="382.3" r="2.55"/><circle cx="440.8" cy="332.3" r="2.55"/><circle cx="368.9" cy="372.2" r="2.55"/><circle cx="368.5" cy="329.4" r="2.55"/><circle cx="324.1" cy="276.4" r="2.55"/><circle cx="430.4" cy="361.0" r="2.55"/><circle cx="391.9" cy="315.0" r="2.55"/><circle cx="403.0" cy="315.9" r="2.55"/><circle cx="398.2" cy="319.4" r="2.55"/><circle cx="354.2" cy="329.7" r="2.55"/><circle cx="347.3" cy="274.8" r="2.55"/><circle cx="385.7" cy="411.2" r="2.55"/><circle cx="392.6" cy="275.8" r="2.55"/><circle cx="352.7" cy="304.0" r="2.55"/><circle cx="348.8" cy="269.5" r="2.55"/><circle cx="287.0" cy="281.4" r="2.55"/><circle cx="391.9" cy="326.3" r="2.55"/><circle cx="446.6" cy="314.6" r="2.55"/><circle cx="279.5" cy="221.8" r="2.55"/><circle cx="344.7" cy="294.2" r="2.55"/><circle cx="384.5" cy="259.5" r="2.55"/><circle cx="328.4" cy="277.5" r="2.55"/><circle cx="365.3" cy="326.0" r="2.55"/><circle cx="296.1" cy="176.9" r="2.55"/><circle cx="351.2" cy="314.5" r="2.55"/><circle cx="269.0" cy="205.0" r="2.55"/><circle cx="377.5" cy="249.5" r="2.55"/><circle cx="368.8" cy="269.6" r="2.55"/><circle cx="341.1" cy="319.6" r="2.55"/><circle cx="380.7" cy="332.3" r="2.55"/><circle cx="399.5" cy="329.7" r="2.55"/><circle cx="342.3" cy="203.2" r="2.55"/><circle cx="408.4" cy="332.1" r="2.55"/><circle cx="455.6" cy="358.0" r="2.55"/><circle cx="407.1" cy="345.8" r="2.55"/><circle cx="328.0" cy="264.2" r="2.55"/><circle cx="352.3" cy="275.3" r="2.55"/><circle cx="430.2" cy="305.1" r="2.55"/><circle cx="362.2" cy="312.7" r="2.55"/><circle cx="337.5" cy="309.3" r="2.55"/><circle cx="367.1" cy="306.2" r="2.55"/><circle cx="413.6" cy="370.4" r="2.55"/><circle cx="409.8" cy="323.0" r="2.55"/><circle cx="350.5" cy="241.9" r="2.55"/><circle cx="366.5" cy="291.7" r="2.55"/><circle cx="375.0" cy="290.0" r="2.55"/><circle cx="297.2" cy="305.1" r="2.55"/><circle cx="358.8" cy="292.5" r="2.55"/><circle cx="389.6" cy="290.3" r="2.55"/><circle cx="305.8" cy="272.3" r="2.55"/><circle cx="254.1" cy="241.0" r="2.55"/><circle cx="394.1" cy="337.3" r="2.55"/><circle cx="356.4" cy="335.0" r="2.55"/><circle cx="365.2" cy="320.0" r="2.55"/><circle cx="306.9" cy="274.0" r="2.55"/><circle cx="350.8" cy="326.9" r="2.55"/><circle cx="330.7" cy="247.4" r="2.55"/><circle cx="477.1" cy="324.4" r="2.55"/><circle cx="419.7" cy="299.6" r="2.55"/><circle cx="402.6" cy="278.4" r="2.55"/><circle cx="348.3" cy="229.6" r="2.55"/><circle cx="382.3" cy="326.0" r="2.55"/><circle cx="317.6" cy="228.9" r="2.55"/><circle cx="339.2" cy="309.7" r="2.55"/><circle cx="419.6" cy="319.4" r="2.55"/><circle cx="297.1" cy="275.1" r="2.55"/><circle cx="344.6" cy="282.6" r="2.55"/><circle cx="357.9" cy="288.6" r="2.55"/><circle cx="395.3" cy="337.8" r="2.55"/><circle cx="341.5" cy="292.4" r="2.55"/><circle cx="345.7" cy="329.8" r="2.55"/><circle cx="351.7" cy="233.0" r="2.55"/><circle cx="302.9" cy="233.7" r="2.55"/><circle cx="474.0" cy="332.9" r="2.55"/><circle cx="345.5" cy="323.9" r="2.55"/><circle cx="375.1" cy="275.4" r="2.55"/><circle cx="409.3" cy="245.9" r="2.55"/><circle cx="297.6" cy="269.9" r="2.55"/><circle cx="380.3" cy="310.3" r="2.55"/><circle cx="413.4" cy="378.8" r="2.55"/><circle cx="431.3" cy="376.1" r="2.55"/><circle cx="397.2" cy="299.6" r="2.55"/><circle cx="362.7" cy="255.6" r="2.55"/><circle cx="466.7" cy="317.2" r="2.55"/><circle cx="451.5" cy="364.9" r="2.55"/><circle cx="333.4" cy="323.0" r="2.55"/><circle cx="370.2" cy="304.7" r="2.55"/><circle cx="376.6" cy="293.1" r="2.55"/><circle cx="408.9" cy="340.1" r="2.55"/><circle cx="407.7" cy="259.0" r="2.55"/><circle cx="399.9" cy="266.2" r="2.55"/><circle cx="377.3" cy="357.8" r="2.55"/><circle cx="364.0" cy="229.6" r="2.55"/><circle cx="375.5" cy="255.5" r="2.55"/><circle cx="335.8" cy="296.4" r="2.55"/><circle cx="297.7" cy="249.4" r="2.55"/><circle cx="334.6" cy="188.3" r="2.55"/><circle cx="408.8" cy="277.0" r="2.55"/><circle cx="294.5" cy="291.6" r="2.55"/><circle cx="348.3" cy="319.0" r="2.55"/><circle cx="415.4" cy="299.8" r="2.55"/><circle cx="295.6" cy="298.9" r="2.55"/><circle cx="318.3" cy="297.1" r="2.55"/><circle cx="394.3" cy="363.6" r="2.55"/><circle cx="376.1" cy="254.3" r="2.55"/><circle cx="328.6" cy="248.2" r="2.55"/><circle cx="399.9" cy="331.5" r="2.55"/><circle cx="386.4" cy="336.6" r="2.55"/><circle cx="388.6" cy="360.0" r="2.55"/><circle cx="257.0" cy="238.8" r="2.55"/><circle cx="371.9" cy="304.5" r="2.55"/><circle cx="422.7" cy="266.9" r="2.55"/><circle cx="384.2" cy="383.9" r="2.55"/><circle cx="489.3" cy="392.4" r="2.55"/><circle cx="264.2" cy="240.2" r="2.55"/><circle cx="366.7" cy="300.3" r="2.55"/><circle cx="255.6" cy="232.9" r="2.55"/><circle cx="360.7" cy="268.8" r="2.55"/><circle cx="410.5" cy="392.9" r="2.55"/><circle cx="443.3" cy="364.8" r="2.55"/><circle cx="483.7" cy="364.6" r="2.55"/><circle cx="378.3" cy="275.6" r="2.55"/><circle cx="367.8" cy="316.9" r="2.55"/><circle cx="366.5" cy="222.5" r="2.55"/><circle cx="430.7" cy="251.8" r="2.55"/><circle cx="413.7" cy="297.0" r="2.55"/><circle cx="357.0" cy="277.0" r="2.55"/><circle cx="338.7" cy="242.3" r="2.55"/><circle cx="396.9" cy="341.6" r="2.55"/><circle cx="449.5" cy="331.2" r="2.55"/><circle cx="421.5" cy="291.8" r="2.55"/><circle cx="376.0" cy="264.8" r="2.55"/><circle cx="323.4" cy="234.1" r="2.55"/><circle cx="365.5" cy="279.7" r="2.55"/><circle cx="299.7" cy="294.3" r="2.55"/><circle cx="430.1" cy="322.7" r="2.55"/><circle cx="460.4" cy="332.2" r="2.55"/><circle cx="349.1" cy="296.5" r="2.55"/><circle cx="341.1" cy="232.1" r="2.55"/><circle cx="348.1" cy="311.2" r="2.55"/><circle cx="370.6" cy="243.3" r="2.55"/><circle cx="401.1" cy="328.0" r="2.55"/><circle cx="348.2" cy="257.0" r="2.55"/><circle cx="354.9" cy="228.0" r="2.55"/><circle cx="323.8" cy="350.5" r="2.55"/><circle cx="303.9" cy="275.6" r="2.55"/><circle cx="388.9" cy="331.4" r="2.55"/><circle cx="346.0" cy="242.5" r="2.55"/><circle cx="386.7" cy="291.2" r="2.55"/><circle cx="351.9" cy="263.2" r="2.55"/><circle cx="330.4" cy="232.6" r="2.55"/><circle cx="418.0" cy="333.8" r="2.55"/><circle cx="269.1" cy="191.8" r="2.55"/><circle cx="333.4" cy="318.2" r="2.55"/><circle cx="350.4" cy="279.9" r="2.55"/><circle cx="305.1" cy="285.0" r="2.55"/><circle cx="362.6" cy="307.3" r="2.55"/><circle cx="379.3" cy="285.1" r="2.55"/><circle cx="370.8" cy="321.2" r="2.55"/><circle cx="488.4" cy="341.7" r="2.55"/><circle cx="426.4" cy="307.7" r="2.55"/><circle cx="372.1" cy="283.0" r="2.55"/><circle cx="441.4" cy="350.0" r="2.55"/><circle cx="299.2" cy="272.5" r="2.55"/><circle cx="394.3" cy="328.8" r="2.55"/><circle cx="365.7" cy="271.7" r="2.55"/><circle cx="514.7" cy="322.4" r="2.55"/><circle cx="378.6" cy="271.2" r="2.55"/><circle cx="370.5" cy="359.9" r="2.55"/><circle cx="363.9" cy="327.2" r="2.55"/><circle cx="370.8" cy="301.6" r="2.55"/><circle cx="413.1" cy="441.5" r="2.55"/><circle cx="351.3" cy="276.3" r="2.55"/><circle cx="410.3" cy="296.5" r="2.55"/><circle cx="390.6" cy="298.7" r="2.55"/><circle cx="321.7" cy="297.7" r="2.55"/><circle cx="322.3" cy="243.4" r="2.55"/><circle cx="299.8" cy="285.5" r="2.55"/><circle cx="387.5" cy="341.2" r="2.55"/><circle cx="358.8" cy="258.5" r="2.55"/><circle cx="368.0" cy="277.9" r="2.55"/><circle cx="325.6" cy="324.6" r="2.55"/><circle cx="471.5" cy="381.8" r="2.55"/><circle cx="339.1" cy="312.1" r="2.55"/><circle cx="387.5" cy="191.8" r="2.55"/><circle cx="382.4" cy="276.6" r="2.55"/><circle cx="310.8" cy="272.1" r="2.55"/><circle cx="401.4" cy="274.1" r="2.55"/><circle cx="453.5" cy="389.6" r="2.55"/><circle cx="386.0" cy="246.9" r="2.55"/><circle cx="328.6" cy="245.6" r="2.55"/><circle cx="290.3" cy="255.7" r="2.55"/><circle cx="354.5" cy="249.4" r="2.55"/><circle cx="313.3" cy="232.3" r="2.55"/><circle cx="385.8" cy="261.9" r="2.55"/><circle cx="368.8" cy="257.5" r="2.55"/><circle cx="392.2" cy="323.7" r="2.55"/><circle cx="300.9" cy="242.4" r="2.55"/><circle cx="391.0" cy="318.6" r="2.55"/><circle cx="404.8" cy="404.6" r="2.55"/><circle cx="423.1" cy="251.2" r="2.55"/><circle cx="440.5" cy="311.3" r="2.55"/><circle cx="478.4" cy="318.9" r="2.55"/><circle cx="364.3" cy="293.0" r="2.55"/><circle cx="404.4" cy="416.1" r="2.55"/><circle cx="421.4" cy="255.9" r="2.55"/><circle cx="430.2" cy="379.2" r="2.55"/><circle cx="436.7" cy="323.2" r="2.55"/><circle cx="338.4" cy="349.2" r="2.55"/><circle cx="379.8" cy="266.9" r="2.55"/><circle cx="325.7" cy="210.2" r="2.55"/><circle cx="368.3" cy="268.9" r="2.55"/><circle cx="412.6" cy="349.7" r="2.55"/><circle cx="451.7" cy="299.7" r="2.55"/><circle cx="367.5" cy="308.9" r="2.55"/><circle cx="324.3" cy="269.5" r="2.55"/><circle cx="415.4" cy="347.9" r="2.55"/><circle cx="363.4" cy="382.3" r="2.55"/><circle cx="444.2" cy="289.4" r="2.55"/><circle cx="363.3" cy="319.0" r="2.55"/><circle cx="350.8" cy="284.6" r="2.55"/><circle cx="395.7" cy="344.2" r="2.55"/><circle cx="409.4" cy="363.8" r="2.55"/><circle cx="312.7" cy="274.3" r="2.55"/><circle cx="440.4" cy="346.9" r="2.55"/><circle cx="442.1" cy="346.7" r="2.55"/><circle cx="311.0" cy="207.2" r="2.55"/><circle cx="426.0" cy="285.3" r="2.55"/><circle cx="364.6" cy="228.2" r="2.55"/><circle cx="337.6" cy="299.1" r="2.55"/><circle cx="323.8" cy="200.6" r="2.55"/><circle cx="377.5" cy="234.6" r="2.55"/><circle cx="352.2" cy="225.5" r="2.55"/><circle cx="397.2" cy="311.1" r="2.55"/><circle cx="372.7" cy="316.8" r="2.55"/><circle cx="370.1" cy="291.1" r="2.55"/><circle cx="395.6" cy="265.9" r="2.55"/><circle cx="352.5" cy="268.5" r="2.55"/><circle cx="363.0" cy="267.2" r="2.55"/><circle cx="409.3" cy="391.5" r="2.55"/><circle cx="412.2" cy="291.1" r="2.55"/><circle cx="395.8" cy="269.3" r="2.55"/><circle cx="334.8" cy="236.6" r="2.55"/><circle cx="374.5" cy="329.0" r="2.55"/><circle cx="449.9" cy="335.7" r="2.55"/><circle cx="448.4" cy="320.8" r="2.55"/><circle cx="327.4" cy="287.6" r="2.55"/><circle cx="501.2" cy="332.0" r="2.55"/><circle cx="338.8" cy="286.1" r="2.55"/><circle cx="426.4" cy="358.1" r="2.55"/><circle cx="436.9" cy="297.9" r="2.55"/><circle cx="361.7" cy="300.1" r="2.55"/><circle cx="451.8" cy="385.9" r="2.55"/><circle cx="371.6" cy="331.8" r="2.55"/><circle cx="471.4" cy="371.4" r="2.55"/><circle cx="384.4" cy="214.9" r="2.55"/><circle cx="302.2" cy="292.4" r="2.55"/><circle cx="305.5" cy="279.9" r="2.55"/><circle cx="321.8" cy="247.8" r="2.55"/><circle cx="363.0" cy="335.8" r="2.55"/><circle cx="339.9" cy="280.5" r="2.55"/><circle cx="340.2" cy="228.4" r="2.55"/><circle cx="397.6" cy="284.5" r="2.55"/><circle cx="301.4" cy="269.6" r="2.55"/><circle cx="424.1" cy="286.0" r="2.55"/><circle cx="378.3" cy="197.8" r="2.55"/><circle cx="430.3" cy="374.0" r="2.55"/><circle cx="386.6" cy="309.5" r="2.55"/><circle cx="351.2" cy="297.5" r="2.55"/><circle cx="410.7" cy="214.9" r="2.55"/><circle cx="393.8" cy="308.1" r="2.55"/><circle cx="342.4" cy="237.1" r="2.55"/><circle cx="359.1" cy="350.3" r="2.55"/><circle cx="388.4" cy="272.1" r="2.55"/><circle cx="358.9" cy="329.8" r="2.55"/><circle cx="402.5" cy="398.4" r="2.55"/><circle cx="435.2" cy="318.5" r="2.55"/><circle cx="319.3" cy="305.6" r="2.55"/><circle cx="443.9" cy="369.1" r="2.55"/><circle cx="423.2" cy="362.5" r="2.55"/><circle cx="368.8" cy="318.1" r="2.55"/><circle cx="384.6" cy="317.9" r="2.55"/><circle cx="434.9" cy="318.2" r="2.55"/><circle cx="272.8" cy="236.7" r="2.55"/><circle cx="388.9" cy="331.1" r="2.55"/><circle cx="332.2" cy="334.2" r="2.55"/><circle cx="342.8" cy="273.7" r="2.55"/><circle cx="418.6" cy="341.1" r="2.55"/><circle cx="358.6" cy="259.4" r="2.55"/><circle cx="402.6" cy="326.1" r="2.55"/><circle cx="407.2" cy="364.7" r="2.55"/><circle cx="368.5" cy="318.5" r="2.55"/><circle cx="339.8" cy="300.7" r="2.55"/><circle cx="357.2" cy="288.5" r="2.55"/><circle cx="354.6" cy="327.1" r="2.55"/><circle cx="344.8" cy="306.9" r="2.55"/><circle cx="360.5" cy="263.6" r="2.55"/><circle cx="310.6" cy="234.2" r="2.55"/><circle cx="358.8" cy="278.3" r="2.55"/><circle cx="309.6" cy="246.5" r="2.55"/><circle cx="342.4" cy="302.1" r="2.55"/><circle cx="348.2" cy="306.2" r="2.55"/><circle cx="319.6" cy="273.5" r="2.55"/><circle cx="428.0" cy="249.2" r="2.55"/><circle cx="372.9" cy="301.5" r="2.55"/><circle cx="374.3" cy="353.1" r="2.55"/><circle cx="395.2" cy="287.7" r="2.55"/><circle cx="393.5" cy="299.5" r="2.55"/><circle cx="340.2" cy="308.9" r="2.55"/><circle cx="319.7" cy="269.7" r="2.55"/><circle cx="311.3" cy="268.4" r="2.55"/><circle cx="407.7" cy="298.3" r="2.55"/><circle cx="386.9" cy="281.5" r="2.55"/><circle cx="357.0" cy="307.5" r="2.55"/><circle cx="353.1" cy="269.4" r="2.55"/><circle cx="355.0" cy="244.0" r="2.55"/><circle cx="324.1" cy="274.3" r="2.55"/><circle cx="328.2" cy="259.9" r="2.55"/><circle cx="350.6" cy="275.6" r="2.55"/><circle cx="424.9" cy="343.3" r="2.55"/><circle cx="326.8" cy="295.0" r="2.55"/><circle cx="373.7" cy="328.0" r="2.55"/><circle cx="447.5" cy="351.0" r="2.55"/><circle cx="423.1" cy="335.9" r="2.55"/><circle cx="434.3" cy="410.2" r="2.55"/><circle cx="367.7" cy="282.1" r="2.55"/><circle cx="321.2" cy="299.9" r="2.55"/><circle cx="351.9" cy="300.3" r="2.55"/><circle cx="332.6" cy="244.4" r="2.55"/><circle cx="383.9" cy="353.9" r="2.55"/><circle cx="397.8" cy="359.0" r="2.55"/><circle cx="351.6" cy="284.6" r="2.55"/><circle cx="414.8" cy="329.3" r="2.55"/><circle cx="383.3" cy="304.0" r="2.55"/><circle cx="348.7" cy="250.0" r="2.55"/><circle cx="366.8" cy="331.4" r="2.55"/><circle cx="370.9" cy="291.2" r="2.55"/><circle cx="376.8" cy="285.9" r="2.55"/><circle cx="346.0" cy="363.6" r="2.55"/><circle cx="431.7" cy="323.0" r="2.55"/><circle cx="399.7" cy="296.5" r="2.55"/><circle cx="389.3" cy="323.7" r="2.55"/><circle cx="422.5" cy="336.3" r="2.55"/><circle cx="437.7" cy="366.9" r="2.55"/><circle cx="408.7" cy="343.3" r="2.55"/><circle cx="341.9" cy="275.0" r="2.55"/><circle cx="320.4" cy="333.7" r="2.55"/><circle cx="295.0" cy="217.0" r="2.55"/><circle cx="350.3" cy="236.2" r="2.55"/><circle cx="354.6" cy="311.0" r="2.55"/><circle cx="313.5" cy="266.3" r="2.55"/><circle cx="363.2" cy="357.7" r="2.55"/><circle cx="326.4" cy="249.2" r="2.55"/><circle cx="401.9" cy="268.8" r="2.55"/><circle cx="396.1" cy="288.4" r="2.55"/><circle cx="389.2" cy="333.7" r="2.55"/><circle cx="395.7" cy="335.8" r="2.55"/><circle cx="410.3" cy="299.1" r="2.55"/><circle cx="357.1" cy="349.6" r="2.55"/><circle cx="433.4" cy="329.8" r="2.55"/><circle cx="366.6" cy="338.2" r="2.55"/><circle cx="342.7" cy="269.6" r="2.55"/><circle cx="330.7" cy="272.8" r="2.55"/><circle cx="351.6" cy="220.0" r="2.55"/><circle cx="415.0" cy="420.2" r="2.55"/><circle cx="371.0" cy="339.5" r="2.55"/><circle cx="469.2" cy="353.4" r="2.55"/><circle cx="379.5" cy="282.3" r="2.55"/><circle cx="405.1" cy="333.3" r="2.55"/><circle cx="341.4" cy="248.3" r="2.55"/><circle cx="449.5" cy="399.2" r="2.55"/><circle cx="404.3" cy="266.5" r="2.55"/><circle cx="429.9" cy="359.2" r="2.55"/><circle cx="398.6" cy="411.4" r="2.55"/><circle cx="266.5" cy="269.7" r="2.55"/><circle cx="348.9" cy="252.6" r="2.55"/><circle cx="320.2" cy="259.0" r="2.55"/><circle cx="410.0" cy="262.7" r="2.55"/><circle cx="339.3" cy="297.8" r="2.55"/><circle cx="472.1" cy="361.4" r="2.55"/><circle cx="383.4" cy="271.9" r="2.55"/><circle cx="294.9" cy="235.7" r="2.55"/><circle cx="297.3" cy="278.7" r="2.55"/><circle cx="282.0" cy="235.2" r="2.55"/><circle cx="343.4" cy="230.5" r="2.55"/><circle cx="358.0" cy="260.9" r="2.55"/><circle cx="413.4" cy="311.8" r="2.55"/><circle cx="405.2" cy="333.0" r="2.55"/><circle cx="378.3" cy="302.5" r="2.55"/><circle cx="388.6" cy="390.2" r="2.55"/><circle cx="331.9" cy="288.1" r="2.55"/><circle cx="367.3" cy="309.8" r="2.55"/><circle cx="389.2" cy="313.1" r="2.55"/><circle cx="300.6" cy="256.8" r="2.55"/><circle cx="372.6" cy="322.8" r="2.55"/><circle cx="431.4" cy="394.1" r="2.55"/><circle cx="401.3" cy="267.7" r="2.55"/><circle cx="318.6" cy="291.1" r="2.55"/><circle cx="350.9" cy="303.7" r="2.55"/><circle cx="413.1" cy="332.1" r="2.55"/><circle cx="332.1" cy="235.5" r="2.55"/><circle cx="367.1" cy="250.8" r="2.55"/><circle cx="440.0" cy="295.7" r="2.55"/><circle cx="313.7" cy="291.0" r="2.55"/><circle cx="310.2" cy="310.1" r="2.55"/><circle cx="481.1" cy="356.2" r="2.55"/><circle cx="311.8" cy="263.3" r="2.55"/><circle cx="414.1" cy="348.5" r="2.55"/><circle cx="362.3" cy="376.6" r="2.55"/><circle cx="326.6" cy="240.0" r="2.55"/><circle cx="324.3" cy="276.8" r="2.55"/><circle cx="400.0" cy="344.6" r="2.55"/><circle cx="432.1" cy="324.9" r="2.55"/><circle cx="390.6" cy="316.2" r="2.55"/><circle cx="429.5" cy="273.1" r="2.55"/><circle cx="332.8" cy="248.8" r="2.55"/><circle cx="391.1" cy="225.4" r="2.55"/><circle cx="326.5" cy="313.5" r="2.55"/><circle cx="377.5" cy="340.5" r="2.55"/><circle cx="334.4" cy="245.6" r="2.55"/><circle cx="388.6" cy="373.0" r="2.55"/><circle cx="364.5" cy="303.2" r="2.55"/><circle cx="404.2" cy="366.8" r="2.55"/><circle cx="414.3" cy="260.5" r="2.55"/><circle cx="377.3" cy="290.7" r="2.55"/><circle cx="468.6" cy="367.3" r="2.55"/><circle cx="405.3" cy="303.4" r="2.55"/><circle cx="346.5" cy="298.9" r="2.55"/><circle cx="377.2" cy="337.2" r="2.55"/><circle cx="349.0" cy="297.0" r="2.55"/><circle cx="353.6" cy="315.1" r="2.55"/><circle cx="392.7" cy="294.9" r="2.55"/><circle cx="385.5" cy="391.1" r="2.55"/><circle cx="392.8" cy="305.7" r="2.55"/><circle cx="359.1" cy="323.8" r="2.55"/><circle cx="303.3" cy="269.1" r="2.55"/><circle cx="372.4" cy="340.1" r="2.55"/><circle cx="366.8" cy="339.8" r="2.55"/><circle cx="474.1" cy="387.8" r="2.55"/><circle cx="413.1" cy="332.6" r="2.55"/><circle cx="324.4" cy="281.9" r="2.55"/><circle cx="413.3" cy="271.6" r="2.55"/><circle cx="299.0" cy="187.4" r="2.55"/><circle cx="335.1" cy="346.2" r="2.55"/><circle cx="382.9" cy="357.5" r="2.55"/><circle cx="446.3" cy="374.9" r="2.55"/><circle cx="362.8" cy="296.6" r="2.55"/><circle cx="337.3" cy="352.2" r="2.55"/><circle cx="345.1" cy="256.9" r="2.55"/><circle cx="417.9" cy="342.7" r="2.55"/><circle cx="458.7" cy="346.8" r="2.55"/><circle cx="389.8" cy="280.9" r="2.55"/><circle cx="383.2" cy="313.7" r="2.55"/><circle cx="388.2" cy="282.4" r="2.55"/><circle cx="457.0" cy="299.3" r="2.55"/><circle cx="424.1" cy="329.3" r="2.55"/><circle cx="346.9" cy="298.7" r="2.55"/><circle cx="339.1" cy="244.0" r="2.55"/><circle cx="384.2" cy="327.6" r="2.55"/><circle cx="376.6" cy="327.8" r="2.55"/><circle cx="388.7" cy="342.6" r="2.55"/><circle cx="340.0" cy="247.8" r="2.55"/><circle cx="294.6" cy="199.0" r="2.55"/><circle cx="374.2" cy="335.6" r="2.55"/><circle cx="383.6" cy="275.6" r="2.55"/><circle cx="477.0" cy="368.8" r="2.55"/><circle cx="346.4" cy="245.1" r="2.55"/><circle cx="338.7" cy="287.0" r="2.55"/><circle cx="431.5" cy="344.8" r="2.55"/><circle cx="491.4" cy="405.9" r="2.55"/><circle cx="391.6" cy="294.7" r="2.55"/><circle cx="369.7" cy="247.9" r="2.55"/><circle cx="425.4" cy="389.8" r="2.55"/><circle cx="359.6" cy="250.8" r="2.55"/><circle cx="553.0" cy="458.8" r="2.55"/><circle cx="418.0" cy="308.3" r="2.55"/><circle cx="393.0" cy="403.1" r="2.55"/><circle cx="369.6" cy="333.5" r="2.55"/><circle cx="426.3" cy="279.9" r="2.55"/><circle cx="419.1" cy="332.2" r="2.55"/><circle cx="378.9" cy="269.0" r="2.55"/><circle cx="387.4" cy="258.9" r="2.55"/><circle cx="396.6" cy="215.8" r="2.55"/><circle cx="368.4" cy="338.8" r="2.55"/><circle cx="478.6" cy="361.3" r="2.55"/><circle cx="379.0" cy="305.4" r="2.55"/><circle cx="417.2" cy="288.0" r="2.55"/><circle cx="420.4" cy="313.0" r="2.55"/><circle cx="461.8" cy="331.1" r="2.55"/><circle cx="448.4" cy="344.6" r="2.55"/><circle cx="384.2" cy="294.4" r="2.55"/><circle cx="351.3" cy="287.0" r="2.55"/><circle cx="456.8" cy="345.5" r="2.55"/><circle cx="318.5" cy="210.2" r="2.55"/><circle cx="360.1" cy="245.4" r="2.55"/><circle cx="425.6" cy="386.3" r="2.55"/><circle cx="415.5" cy="386.2" r="2.55"/><circle cx="332.4" cy="279.5" r="2.55"/><circle cx="384.6" cy="321.9" r="2.55"/><circle cx="294.8" cy="251.7" r="2.55"/><circle cx="421.1" cy="373.7" r="2.55"/><circle cx="417.4" cy="303.4" r="2.55"/><circle cx="371.0" cy="312.1" r="2.55"/><circle cx="403.5" cy="466.2" r="2.55"/><circle cx="381.4" cy="271.1" r="2.55"/><circle cx="275.4" cy="151.4" r="2.55"/><circle cx="431.9" cy="301.1" r="2.55"/><circle cx="374.1" cy="323.3" r="2.55"/><circle cx="436.5" cy="323.5" r="2.55"/><circle cx="443.6" cy="346.7" r="2.55"/><circle cx="428.0" cy="324.2" r="2.55"/><circle cx="411.1" cy="371.7" r="2.55"/><circle cx="346.4" cy="268.0" r="2.55"/><circle cx="443.0" cy="329.2" r="2.55"/><circle cx="356.0" cy="328.0" r="2.55"/><circle cx="421.0" cy="328.8" r="2.55"/><circle cx="369.4" cy="276.3" r="2.55"/><circle cx="453.5" cy="337.9" r="2.55"/><circle cx="395.1" cy="260.4" r="2.55"/><circle cx="368.3" cy="305.7" r="2.55"/><circle cx="413.7" cy="312.3" r="2.55"/><circle cx="471.3" cy="334.9" r="2.55"/><circle cx="416.9" cy="396.0" r="2.55"/><circle cx="471.6" cy="394.1" r="2.55"/><circle cx="427.4" cy="345.9" r="2.55"/><circle cx="350.3" cy="327.4" r="2.55"/><circle cx="410.7" cy="333.6" r="2.55"/><circle cx="380.1" cy="258.0" r="2.55"/><circle cx="337.5" cy="320.2" r="2.55"/><circle cx="310.8" cy="308.7" r="2.55"/><circle cx="288.6" cy="273.6" r="2.55"/><circle cx="324.7" cy="196.2" r="2.55"/><circle cx="360.2" cy="246.2" r="2.55"/><circle cx="327.7" cy="315.8" r="2.55"/><circle cx="386.7" cy="310.0" r="2.55"/><circle cx="335.4" cy="293.8" r="2.55"/><circle cx="426.3" cy="345.8" r="2.55"/><circle cx="410.3" cy="293.6" r="2.55"/><circle cx="367.4" cy="274.3" r="2.55"/><circle cx="414.9" cy="350.6" r="2.55"/><circle cx="294.1" cy="205.6" r="2.55"/><circle cx="409.7" cy="371.3" r="2.55"/><circle cx="363.2" cy="285.1" r="2.55"/><circle cx="394.8" cy="254.8" r="2.55"/><circle cx="452.4" cy="380.5" r="2.55"/><circle cx="387.4" cy="294.5" r="2.55"/><circle cx="290.8" cy="261.6" r="2.55"/><circle cx="380.1" cy="258.8" r="2.55"/><circle cx="442.7" cy="293.4" r="2.55"/><circle cx="353.5" cy="312.6" r="2.55"/><circle cx="326.1" cy="251.4" r="2.55"/><circle cx="364.8" cy="327.5" r="2.55"/><circle cx="389.1" cy="310.4" r="2.55"/><circle cx="447.6" cy="308.1" r="2.55"/><circle cx="381.4" cy="288.6" r="2.55"/><circle cx="425.2" cy="257.5" r="2.55"/><circle cx="346.3" cy="285.5" r="2.55"/><circle cx="385.6" cy="326.5" r="2.55"/><circle cx="437.3" cy="290.2" r="2.55"/><circle cx="353.4" cy="217.2" r="2.55"/><circle cx="317.3" cy="311.1" r="2.55"/><circle cx="340.0" cy="309.6" r="2.55"/><circle cx="386.2" cy="251.7" r="2.55"/><circle cx="391.5" cy="371.7" r="2.55"/><circle cx="359.6" cy="282.4" r="2.55"/><circle cx="410.8" cy="352.4" r="2.55"/><circle cx="327.7" cy="330.5" r="2.55"/><circle cx="306.5" cy="210.3" r="2.55"/><circle cx="342.2" cy="329.7" r="2.55"/><circle cx="416.8" cy="294.8" r="2.55"/><circle cx="394.7" cy="302.1" r="2.55"/><circle cx="332.9" cy="306.7" r="2.55"/><circle cx="344.3" cy="194.2" r="2.55"/><circle cx="322.0" cy="131.3" r="2.55"/><circle cx="386.3" cy="335.1" r="2.55"/><circle cx="300.8" cy="335.0" r="2.55"/><circle cx="334.9" cy="284.3" r="2.55"/><circle cx="392.7" cy="250.8" r="2.55"/><circle cx="351.7" cy="313.6" r="2.55"/><circle cx="368.8" cy="312.5" r="2.55"/><circle cx="350.1" cy="282.1" r="2.55"/><circle cx="393.5" cy="318.4" r="2.55"/><circle cx="340.4" cy="178.4" r="2.55"/><circle cx="321.7" cy="254.1" r="2.55"/><circle cx="366.7" cy="336.9" r="2.55"/><circle cx="307.4" cy="276.7" r="2.55"/><circle cx="375.8" cy="331.3" r="2.55"/><circle cx="373.5" cy="240.8" r="2.55"/><circle cx="488.6" cy="307.5" r="2.55"/><circle cx="414.0" cy="264.6" r="2.55"/><circle cx="402.0" cy="332.3" r="2.55"/><circle cx="425.8" cy="365.0" r="2.55"/><circle cx="354.3" cy="246.0" r="2.55"/><circle cx="321.7" cy="299.0" r="2.55"/><circle cx="341.7" cy="318.7" r="2.55"/><circle cx="400.6" cy="331.7" r="2.55"/><circle cx="450.1" cy="373.7" r="2.55"/><circle cx="420.8" cy="276.3" r="2.55"/><circle cx="358.6" cy="266.7" r="2.55"/><circle cx="364.5" cy="270.3" r="2.55"/><circle cx="390.1" cy="361.9" r="2.55"/><circle cx="385.6" cy="317.6" r="2.55"/><circle cx="306.6" cy="240.3" r="2.55"/><circle cx="408.2" cy="317.4" r="2.55"/><circle cx="348.0" cy="245.3" r="2.55"/><circle cx="331.1" cy="310.3" r="2.55"/><circle cx="381.4" cy="385.4" r="2.55"/><circle cx="402.5" cy="303.2" r="2.55"/><circle cx="383.3" cy="330.7" r="2.55"/><circle cx="336.8" cy="337.6" r="2.55"/><circle cx="424.6" cy="325.6" r="2.55"/><circle cx="375.5" cy="241.7" r="2.55"/><circle cx="349.8" cy="324.8" r="2.55"/><circle cx="398.1" cy="312.7" r="2.55"/><circle cx="424.3" cy="336.0" r="2.55"/><circle cx="353.3" cy="251.0" r="2.55"/><circle cx="329.9" cy="305.4" r="2.55"/><circle cx="312.9" cy="319.5" r="2.55"/><circle cx="362.8" cy="290.3" r="2.55"/><circle cx="387.3" cy="341.7" r="2.55"/><circle cx="368.2" cy="231.0" r="2.55"/><circle cx="392.5" cy="292.3" r="2.55"/><circle cx="342.9" cy="345.3" r="2.55"/><circle cx="330.6" cy="290.5" r="2.55"/><circle cx="354.7" cy="249.9" r="2.55"/><circle cx="367.1" cy="264.0" r="2.55"/><circle cx="280.6" cy="243.8" r="2.55"/><circle cx="362.1" cy="288.0" r="2.55"/><circle cx="317.8" cy="249.1" r="2.55"/><circle cx="415.6" cy="389.9" r="2.55"/><circle cx="352.2" cy="224.8" r="2.55"/><circle cx="367.9" cy="427.4" r="2.55"/><circle cx="411.9" cy="251.6" r="2.55"/><circle cx="442.3" cy="366.7" r="2.55"/><circle cx="398.7" cy="287.5" r="2.55"/><circle cx="241.7" cy="179.4" r="2.55"/><circle cx="357.5" cy="206.0" r="2.55"/><circle cx="389.4" cy="354.4" r="2.55"/><circle cx="459.9" cy="440.7" r="2.55"/><circle cx="455.9" cy="366.6" r="2.55"/><circle cx="381.6" cy="258.0" r="2.55"/><circle cx="308.6" cy="269.0" r="2.55"/><circle cx="370.8" cy="261.0" r="2.55"/><circle cx="313.1" cy="262.3" r="2.55"/><circle cx="390.6" cy="329.8" r="2.55"/><circle cx="343.6" cy="286.9" r="2.55"/><circle cx="284.4" cy="233.5" r="2.55"/><circle cx="494.6" cy="422.6" r="2.55"/><circle cx="364.6" cy="331.1" r="2.55"/><circle cx="432.2" cy="361.5" r="2.55"/><circle cx="356.4" cy="289.3" r="2.55"/><circle cx="315.9" cy="250.1" r="2.55"/><circle cx="405.1" cy="353.3" r="2.55"/><circle cx="342.2" cy="245.2" r="2.55"/><circle cx="360.5" cy="336.4" r="2.55"/><circle cx="401.5" cy="329.2" r="2.55"/><circle cx="412.4" cy="261.1" r="2.55"/><circle cx="398.3" cy="284.1" r="2.55"/><circle cx="386.5" cy="331.7" r="2.55"/><circle cx="373.9" cy="248.9" r="2.55"/><circle cx="336.3" cy="319.4" r="2.55"/><circle cx="346.5" cy="264.5" r="2.55"/><circle cx="337.4" cy="207.0" r="2.55"/><circle cx="297.7" cy="223.7" r="2.55"/><circle cx="400.9" cy="292.1" r="2.55"/><circle cx="290.9" cy="279.0" r="2.55"/><circle cx="402.8" cy="308.6" r="2.55"/><circle cx="369.2" cy="288.8" r="2.55"/><circle cx="397.6" cy="333.6" r="2.55"/><circle cx="304.1" cy="213.2" r="2.55"/><circle cx="363.5" cy="280.7" r="2.55"/><circle cx="331.7" cy="271.0" r="2.55"/><circle cx="306.2" cy="208.3" r="2.55"/><circle cx="343.0" cy="223.5" r="2.55"/><circle cx="375.5" cy="317.7" r="2.55"/><circle cx="418.9" cy="315.1" r="2.55"/><circle cx="376.2" cy="288.6" r="2.55"/><circle cx="398.4" cy="361.9" r="2.55"/><circle cx="444.9" cy="396.2" r="2.55"/><circle cx="363.6" cy="366.5" r="2.55"/><circle cx="407.1" cy="337.1" r="2.55"/><circle cx="423.6" cy="320.8" r="2.55"/><circle cx="398.6" cy="293.9" r="2.55"/><circle cx="351.6" cy="304.4" r="2.55"/><circle cx="397.0" cy="366.1" r="2.55"/><circle cx="379.9" cy="210.5" r="2.55"/><circle cx="352.7" cy="273.0" r="2.55"/><circle cx="412.1" cy="303.4" r="2.55"/><circle cx="382.4" cy="232.5" r="2.55"/><circle cx="412.4" cy="258.9" r="2.55"/><circle cx="355.5" cy="284.9" r="2.55"/><circle cx="430.7" cy="305.9" r="2.55"/><circle cx="404.1" cy="353.8" r="2.55"/><circle cx="505.0" cy="337.0" r="2.55"/><circle cx="393.6" cy="331.1" r="2.55"/><circle cx="386.5" cy="279.7" r="2.55"/><circle cx="350.9" cy="358.3" r="2.55"/><circle cx="429.0" cy="395.3" r="2.55"/><circle cx="440.0" cy="343.7" r="2.55"/><circle cx="318.8" cy="223.2" r="2.55"/><circle cx="344.8" cy="340.1" r="2.55"/><circle cx="399.1" cy="323.0" r="2.55"/><circle cx="382.0" cy="308.3" r="2.55"/><circle cx="437.2" cy="371.5" r="2.55"/><circle cx="383.0" cy="350.9" r="2.55"/><circle cx="429.3" cy="350.5" r="2.55"/><circle cx="344.2" cy="244.0" r="2.55"/><circle cx="333.9" cy="270.0" r="2.55"/><circle cx="347.0" cy="232.0" r="2.55"/><circle cx="414.7" cy="313.5" r="2.55"/><circle cx="342.4" cy="327.0" r="2.55"/><circle cx="348.0" cy="292.4" r="2.55"/><circle cx="363.7" cy="386.1" r="2.55"/><circle cx="366.8" cy="316.9" r="2.55"/><circle cx="341.8" cy="262.0" r="2.55"/><circle cx="374.9" cy="265.3" r="2.55"/><circle cx="324.9" cy="263.6" r="2.55"/><circle cx="365.0" cy="330.8" r="2.55"/><circle cx="410.6" cy="348.5" r="2.55"/><circle cx="371.5" cy="302.0" r="2.55"/><circle cx="345.6" cy="267.9" r="2.55"/><circle cx="491.9" cy="395.0" r="2.55"/><circle cx="402.0" cy="311.3" r="2.55"/><circle cx="352.1" cy="242.3" r="2.55"/><circle cx="389.8" cy="307.7" r="2.55"/><circle cx="435.6" cy="353.1" r="2.55"/><circle cx="362.4" cy="312.1" r="2.55"/><circle cx="399.3" cy="409.2" r="2.55"/><circle cx="375.4" cy="331.3" r="2.55"/><circle cx="406.1" cy="242.1" r="2.55"/><circle cx="379.8" cy="304.5" r="2.55"/><circle cx="403.3" cy="371.5" r="2.55"/><circle cx="416.7" cy="316.2" r="2.55"/><circle cx="346.3" cy="232.6" r="2.55"/><circle cx="369.6" cy="232.9" r="2.55"/><circle cx="416.6" cy="384.0" r="2.55"/><circle cx="334.1" cy="324.0" r="2.55"/><circle cx="345.5" cy="239.3" r="2.55"/><circle cx="398.6" cy="437.3" r="2.55"/><circle cx="433.8" cy="272.8" r="2.55"/><circle cx="380.1" cy="328.0" r="2.55"/><circle cx="442.6" cy="370.5" r="2.55"/><circle cx="309.6" cy="235.2" r="2.55"/><circle cx="397.8" cy="318.3" r="2.55"/><circle cx="428.9" cy="337.5" r="2.55"/><circle cx="349.5" cy="246.1" r="2.55"/><circle cx="304.7" cy="203.2" r="2.55"/><circle cx="338.4" cy="241.1" r="2.55"/><circle cx="297.0" cy="298.9" r="2.55"/><circle cx="289.5" cy="218.8" r="2.55"/><circle cx="383.6" cy="325.7" r="2.55"/><circle cx="400.3" cy="299.7" r="2.55"/><circle cx="341.9" cy="284.0" r="2.55"/><circle cx="300.1" cy="263.8" r="2.55"/><circle cx="322.8" cy="315.2" r="2.55"/><circle cx="334.6" cy="295.3" r="2.55"/><circle cx="394.9" cy="290.2" r="2.55"/><circle cx="345.7" cy="261.1" r="2.55"/><circle cx="365.2" cy="394.2" r="2.55"/><circle cx="411.3" cy="366.1" r="2.55"/><circle cx="402.4" cy="332.6" r="2.55"/><circle cx="377.2" cy="315.5" r="2.55"/><circle cx="374.9" cy="249.9" r="2.55"/><circle cx="397.6" cy="363.4" r="2.55"/><circle cx="324.0" cy="298.3" r="2.55"/><circle cx="420.2" cy="319.1" r="2.55"/><circle cx="322.5" cy="336.4" r="2.55"/><circle cx="416.8" cy="417.7" r="2.55"/><circle cx="384.8" cy="353.5" r="2.55"/><circle cx="467.6" cy="343.2" r="2.55"/><circle cx="331.1" cy="248.9" r="2.55"/><circle cx="443.8" cy="315.8" r="2.55"/><circle cx="418.9" cy="364.5" r="2.55"/><circle cx="390.1" cy="272.5" r="2.55"/><circle cx="402.9" cy="317.7" r="2.55"/><circle cx="381.2" cy="295.9" r="2.55"/><circle cx="346.4" cy="229.4" r="2.55"/><circle cx="351.3" cy="305.2" r="2.55"/><circle cx="386.9" cy="409.2" r="2.55"/><circle cx="359.0" cy="260.8" r="2.55"/><circle cx="395.7" cy="336.4" r="2.55"/><circle cx="401.7" cy="295.0" r="2.55"/><circle cx="354.7" cy="309.6" r="2.55"/><circle cx="372.3" cy="223.5" r="2.55"/><circle cx="407.5" cy="367.6" r="2.55"/><circle cx="317.8" cy="294.2" r="2.55"/><circle cx="396.5" cy="342.2" r="2.55"/><circle cx="398.3" cy="347.9" r="2.55"/><circle cx="377.0" cy="232.4" r="2.55"/><circle cx="327.9" cy="312.3" r="2.55"/><circle cx="327.9" cy="352.5" r="2.55"/><circle cx="394.6" cy="302.3" r="2.55"/><circle cx="293.1" cy="224.6" r="2.55"/><circle cx="352.4" cy="266.0" r="2.55"/><circle cx="349.7" cy="154.3" r="2.55"/><circle cx="325.3" cy="277.6" r="2.55"/><circle cx="382.5" cy="351.9" r="2.55"/><circle cx="351.4" cy="298.1" r="2.55"/><circle cx="390.0" cy="211.2" r="2.55"/><circle cx="434.2" cy="330.6" r="2.55"/><circle cx="357.4" cy="302.6" r="2.55"/><circle cx="341.9" cy="285.0" r="2.55"/><circle cx="477.2" cy="403.3" r="2.55"/><circle cx="378.3" cy="251.4" r="2.55"/><circle cx="340.5" cy="223.0" r="2.55"/><circle cx="303.9" cy="213.3" r="2.55"/><circle cx="454.6" cy="395.9" r="2.55"/><circle cx="360.9" cy="322.2" r="2.55"/><circle cx="359.2" cy="309.6" r="2.55"/><circle cx="312.7" cy="225.6" r="2.55"/><circle cx="380.0" cy="302.7" r="2.55"/><circle cx="364.4" cy="289.6" r="2.55"/><circle cx="439.9" cy="302.8" r="2.55"/><circle cx="333.4" cy="288.2" r="2.55"/><circle cx="353.6" cy="362.8" r="2.55"/><circle cx="423.6" cy="337.4" r="2.55"/><circle cx="339.5" cy="358.2" r="2.55"/><circle cx="300.4" cy="280.1" r="2.55"/><circle cx="413.3" cy="234.1" r="2.55"/><circle cx="389.1" cy="294.0" r="2.55"/><circle cx="372.9" cy="311.8" r="2.55"/><circle cx="461.0" cy="372.1" r="2.55"/><circle cx="418.3" cy="352.2" r="2.55"/><circle cx="389.7" cy="312.8" r="2.55"/><circle cx="344.8" cy="294.1" r="2.55"/><circle cx="434.9" cy="361.2" r="2.55"/><circle cx="358.5" cy="305.1" r="2.55"/><circle cx="430.4" cy="352.2" r="2.55"/><circle cx="336.5" cy="350.9" r="2.55"/><circle cx="470.1" cy="236.9" r="2.55"/><circle cx="455.4" cy="378.0" r="2.55"/><circle cx="464.7" cy="355.0" r="2.55"/><circle cx="357.7" cy="243.4" r="2.55"/><circle cx="405.1" cy="285.2" r="2.55"/><circle cx="323.1" cy="233.4" r="2.55"/><circle cx="428.2" cy="208.8" r="2.55"/><circle cx="337.2" cy="231.7" r="2.55"/><circle cx="432.8" cy="318.1" r="2.55"/><circle cx="424.5" cy="257.5" r="2.55"/><circle cx="374.0" cy="287.1" r="2.55"/><circle cx="357.6" cy="330.6" r="2.55"/><circle cx="326.1" cy="320.1" r="2.55"/><circle cx="443.6" cy="353.1" r="2.55"/><circle cx="379.6" cy="297.9" r="2.55"/><circle cx="411.5" cy="375.3" r="2.55"/><circle cx="407.7" cy="350.8" r="2.55"/><circle cx="429.7" cy="360.1" r="2.55"/><circle cx="431.4" cy="403.5" r="2.55"/><circle cx="382.3" cy="290.8" r="2.55"/><circle cx="383.0" cy="342.9" r="2.55"/><circle cx="413.4" cy="323.1" r="2.55"/><circle cx="463.3" cy="377.8" r="2.55"/><circle cx="398.4" cy="223.7" r="2.55"/><circle cx="348.9" cy="357.7" r="2.55"/><circle cx="304.8" cy="290.4" r="2.55"/><circle cx="385.0" cy="298.1" r="2.55"/><circle cx="456.2" cy="378.9" r="2.55"/><circle cx="378.4" cy="343.1" r="2.55"/><circle cx="422.1" cy="349.8" r="2.55"/><circle cx="367.9" cy="215.2" r="2.55"/><circle cx="329.5" cy="333.6" r="2.55"/><circle cx="396.0" cy="297.4" r="2.55"/><circle cx="369.8" cy="289.6" r="2.55"/><circle cx="371.7" cy="292.2" r="2.55"/><circle cx="406.6" cy="364.3" r="2.55"/><circle cx="380.6" cy="249.8" r="2.55"/><circle cx="435.5" cy="342.2" r="2.55"/><circle cx="388.2" cy="297.8" r="2.55"/><circle cx="323.0" cy="246.8" r="2.55"/><circle cx="454.7" cy="389.7" r="2.55"/><circle cx="357.4" cy="272.1" r="2.55"/><circle cx="343.5" cy="318.7" r="2.55"/><circle cx="320.0" cy="356.6" r="2.55"/><circle cx="332.4" cy="301.1" r="2.55"/><circle cx="446.8" cy="315.2" r="2.55"/><circle cx="464.0" cy="363.7" r="2.55"/><circle cx="338.7" cy="281.9" r="2.55"/><circle cx="365.1" cy="266.6" r="2.55"/><circle cx="406.2" cy="286.7" r="2.55"/><circle cx="346.6" cy="257.4" r="2.55"/><circle cx="455.1" cy="279.8" r="2.55"/><circle cx="333.2" cy="265.8" r="2.55"/><circle cx="476.0" cy="392.5" r="2.55"/><circle cx="513.9" cy="284.9" r="2.55"/><circle cx="332.3" cy="299.2" r="2.55"/><circle cx="478.2" cy="372.7" r="2.55"/><circle cx="414.0" cy="435.4" r="2.55"/><circle cx="384.4" cy="245.8" r="2.55"/><circle cx="446.5" cy="322.9" r="2.55"/><circle cx="383.7" cy="443.4" r="2.55"/><circle cx="350.8" cy="255.6" r="2.55"/><circle cx="343.3" cy="267.0" r="2.55"/><circle cx="446.2" cy="360.7" r="2.55"/><circle cx="370.1" cy="317.3" r="2.55"/><circle cx="347.8" cy="343.4" r="2.55"/><circle cx="329.7" cy="254.2" r="2.55"/><circle cx="342.5" cy="254.5" r="2.55"/><circle cx="360.4" cy="287.1" r="2.55"/><circle cx="284.0" cy="317.4" r="2.55"/><circle cx="392.8" cy="304.0" r="2.55"/><circle cx="350.3" cy="316.0" r="2.55"/><circle cx="354.2" cy="264.1" r="2.55"/><circle cx="367.7" cy="218.3" r="2.55"/><circle cx="392.0" cy="309.2" r="2.55"/><circle cx="303.5" cy="319.2" r="2.55"/><circle cx="393.3" cy="338.1" r="2.55"/><circle cx="389.7" cy="258.5" r="2.55"/><circle cx="373.8" cy="323.8" r="2.55"/><circle cx="326.4" cy="299.2" r="2.55"/><circle cx="405.0" cy="334.8" r="2.55"/><circle cx="366.5" cy="276.4" r="2.55"/><circle cx="441.0" cy="295.6" r="2.55"/><circle cx="430.5" cy="289.1" r="2.55"/><circle cx="356.6" cy="276.2" r="2.55"/><circle cx="368.9" cy="272.2" r="2.55"/><circle cx="373.7" cy="311.1" r="2.55"/><circle cx="339.1" cy="300.5" r="2.55"/><circle cx="359.6" cy="238.9" r="2.55"/><circle cx="396.3" cy="355.0" r="2.55"/><circle cx="429.3" cy="270.8" r="2.55"/><circle cx="323.0" cy="226.0" r="2.55"/><circle cx="425.4" cy="274.0" r="2.55"/><circle cx="305.2" cy="276.3" r="2.55"/><circle cx="441.6" cy="321.1" r="2.55"/><circle cx="341.5" cy="208.8" r="2.55"/><circle cx="390.3" cy="278.6" r="2.55"/><circle cx="419.7" cy="297.4" r="2.55"/><circle cx="281.6" cy="339.4" r="2.55"/><circle cx="420.5" cy="316.9" r="2.55"/><circle cx="333.2" cy="250.6" r="2.55"/><circle cx="357.1" cy="332.1" r="2.55"/><circle cx="288.4" cy="136.7" r="2.55"/><circle cx="400.2" cy="390.9" r="2.55"/><circle cx="344.9" cy="300.6" r="2.55"/><circle cx="382.8" cy="299.5" r="2.55"/><circle cx="364.7" cy="319.6" r="2.55"/><circle cx="297.0" cy="168.9" r="2.55"/><circle cx="513.2" cy="277.9" r="2.55"/><circle cx="419.1" cy="310.8" r="2.55"/><circle cx="412.0" cy="305.2" r="2.55"/><circle cx="408.2" cy="391.1" r="2.55"/><circle cx="395.5" cy="292.0" r="2.55"/><circle cx="448.7" cy="208.8" r="2.55"/><circle cx="369.2" cy="260.4" r="2.55"/><circle cx="386.1" cy="270.4" r="2.55"/><circle cx="329.5" cy="275.0" r="2.55"/><circle cx="427.3" cy="354.4" r="2.55"/><circle cx="360.7" cy="270.9" r="2.55"/><circle cx="378.6" cy="299.7" r="2.55"/><circle cx="415.1" cy="318.4" r="2.55"/><circle cx="406.0" cy="333.8" r="2.55"/><circle cx="322.3" cy="251.6" r="2.55"/><circle cx="382.8" cy="281.9" r="2.55"/><circle cx="355.5" cy="318.9" r="2.55"/><circle cx="409.3" cy="354.9" r="2.55"/><circle cx="347.8" cy="364.9" r="2.55"/><circle cx="382.5" cy="237.6" r="2.55"/><circle cx="348.8" cy="313.7" r="2.55"/><circle cx="406.4" cy="346.9" r="2.55"/><circle cx="351.0" cy="279.4" r="2.55"/><circle cx="431.1" cy="361.8" r="2.55"/><circle cx="307.6" cy="243.7" r="2.55"/><circle cx="408.9" cy="320.5" r="2.55"/><circle cx="468.8" cy="328.3" r="2.55"/><circle cx="429.5" cy="254.6" r="2.55"/><circle cx="405.3" cy="331.9" r="2.55"/><circle cx="362.9" cy="287.0" r="2.55"/><circle cx="426.7" cy="336.5" r="2.55"/><circle cx="385.3" cy="283.9" r="2.55"/><circle cx="438.8" cy="336.2" r="2.55"/><circle cx="357.8" cy="339.2" r="2.55"/><circle cx="435.0" cy="351.8" r="2.55"/><circle cx="376.8" cy="275.0" r="2.55"/><circle cx="397.4" cy="334.3" r="2.55"/><circle cx="356.8" cy="276.8" r="2.55"/><circle cx="321.6" cy="255.5" r="2.55"/><circle cx="471.8" cy="402.0" r="2.55"/><circle cx="415.1" cy="330.5" r="2.55"/><circle cx="439.9" cy="299.3" r="2.55"/><circle cx="360.9" cy="200.3" r="2.55"/><circle cx="427.7" cy="361.0" r="2.55"/><circle cx="431.0" cy="386.4" r="2.55"/><circle cx="419.4" cy="389.3" r="2.55"/><circle cx="365.4" cy="356.4" r="2.55"/><circle cx="428.1" cy="379.6" r="2.55"/><circle cx="389.1" cy="351.8" r="2.55"/><circle cx="218.0" cy="199.3" r="2.55"/><circle cx="291.7" cy="231.9" r="2.55"/><circle cx="346.9" cy="251.2" r="2.55"/><circle cx="411.6" cy="398.3" r="2.55"/><circle cx="408.7" cy="369.7" r="2.55"/><circle cx="397.0" cy="356.0" r="2.55"/><circle cx="394.4" cy="292.8" r="2.55"/><circle cx="271.0" cy="220.2" r="2.55"/><circle cx="401.6" cy="306.7" r="2.55"/><circle cx="353.3" cy="255.2" r="2.55"/><circle cx="464.3" cy="344.5" r="2.55"/><circle cx="382.4" cy="271.7" r="2.55"/><circle cx="413.9" cy="270.0" r="2.55"/><circle cx="264.8" cy="313.8" r="2.55"/><circle cx="331.1" cy="288.8" r="2.55"/><circle cx="473.6" cy="387.4" r="2.55"/><circle cx="370.3" cy="272.8" r="2.55"/><circle cx="343.3" cy="273.6" r="2.55"/><circle cx="376.4" cy="330.6" r="2.55"/><circle cx="384.4" cy="339.5" r="2.55"/><circle cx="374.0" cy="301.7" r="2.55"/><circle cx="394.8" cy="292.2" r="2.55"/><circle cx="331.7" cy="296.8" r="2.55"/><circle cx="329.7" cy="257.0" r="2.55"/><circle cx="355.0" cy="266.7" r="2.55"/><circle cx="293.4" cy="222.8" r="2.55"/><circle cx="418.5" cy="308.1" r="2.55"/><circle cx="362.0" cy="310.8" r="2.55"/><circle cx="470.1" cy="356.2" r="2.55"/><circle cx="434.2" cy="401.9" r="2.55"/><circle cx="382.5" cy="302.5" r="2.55"/><circle cx="385.0" cy="314.2" r="2.55"/><circle cx="478.4" cy="333.3" r="2.55"/><circle cx="476.1" cy="429.1" r="2.55"/><circle cx="399.1" cy="332.9" r="2.55"/><circle cx="418.2" cy="293.6" r="2.55"/><circle cx="320.3" cy="245.2" r="2.55"/><circle cx="343.7" cy="317.4" r="2.55"/><circle cx="397.2" cy="289.8" r="2.55"/><circle cx="369.2" cy="264.8" r="2.55"/><circle cx="355.4" cy="255.0" r="2.55"/><circle cx="320.7" cy="267.6" r="2.55"/><circle cx="402.1" cy="392.1" r="2.55"/><circle cx="334.1" cy="205.4" r="2.55"/><circle cx="351.8" cy="264.7" r="2.55"/><circle cx="354.0" cy="204.3" r="2.55"/><circle cx="362.4" cy="239.6" r="2.55"/><circle cx="398.2" cy="337.9" r="2.55"/><circle cx="323.6" cy="267.8" r="2.55"/><circle cx="416.9" cy="322.9" r="2.55"/><circle cx="401.2" cy="327.4" r="2.55"/><circle cx="415.2" cy="290.7" r="2.55"/><circle cx="337.0" cy="245.6" r="2.55"/><circle cx="410.2" cy="364.2" r="2.55"/><circle cx="311.0" cy="228.4" r="2.55"/><circle cx="372.0" cy="319.7" r="2.55"/><circle cx="413.1" cy="445.0" r="2.55"/><circle cx="440.4" cy="358.0" r="2.55"/><circle cx="300.8" cy="265.3" r="2.55"/><circle cx="422.3" cy="301.2" r="2.55"/><circle cx="381.8" cy="244.4" r="2.55"/><circle cx="381.0" cy="302.6" r="2.55"/><circle cx="442.5" cy="368.9" r="2.55"/><circle cx="472.3" cy="307.3" r="2.55"/><circle cx="396.1" cy="239.5" r="2.55"/><circle cx="348.8" cy="240.2" r="2.55"/><circle cx="331.3" cy="311.5" r="2.55"/><circle cx="343.6" cy="324.3" r="2.55"/><circle cx="366.1" cy="288.7" r="2.55"/><circle cx="411.4" cy="412.6" r="2.55"/><circle cx="299.4" cy="292.7" r="2.55"/><circle cx="326.7" cy="212.2" r="2.55"/><circle cx="402.7" cy="269.1" r="2.55"/><circle cx="476.4" cy="351.5" r="2.55"/><circle cx="494.5" cy="397.3" r="2.55"/><circle cx="411.2" cy="319.3" r="2.55"/><circle cx="321.9" cy="302.4" r="2.55"/><circle cx="397.8" cy="323.5" r="2.55"/><circle cx="382.7" cy="269.3" r="2.55"/><circle cx="368.7" cy="289.0" r="2.55"/><circle cx="335.0" cy="245.1" r="2.55"/><circle cx="424.4" cy="252.1" r="2.55"/><circle cx="375.3" cy="369.5" r="2.55"/><circle cx="430.4" cy="274.6" r="2.55"/><circle cx="407.8" cy="358.4" r="2.55"/><circle cx="406.0" cy="362.3" r="2.55"/><circle cx="305.3" cy="171.1" r="2.55"/><circle cx="430.1" cy="270.0" r="2.55"/><circle cx="347.7" cy="242.6" r="2.55"/><circle cx="358.0" cy="279.7" r="2.55"/><circle cx="320.0" cy="253.6" r="2.55"/><circle cx="472.7" cy="378.7" r="2.55"/><circle cx="413.8" cy="323.2" r="2.55"/><circle cx="392.1" cy="326.8" r="2.55"/><circle cx="371.1" cy="331.5" r="2.55"/><circle cx="338.2" cy="275.6" r="2.55"/><circle cx="379.4" cy="300.9" r="2.55"/><circle cx="458.7" cy="377.5" r="2.55"/><circle cx="445.8" cy="345.5" r="2.55"/><circle cx="404.2" cy="265.0" r="2.55"/><circle cx="355.2" cy="307.7" r="2.55"/><circle cx="414.6" cy="340.6" r="2.55"/><circle cx="424.9" cy="383.1" r="2.55"/><circle cx="400.4" cy="361.0" r="2.55"/><circle cx="301.0" cy="297.9" r="2.55"/><circle cx="404.0" cy="269.5" r="2.55"/><circle cx="401.5" cy="281.1" r="2.55"/><circle cx="283.7" cy="249.7" r="2.55"/><circle cx="318.5" cy="294.9" r="2.55"/><circle cx="426.1" cy="393.4" r="2.55"/><circle cx="384.9" cy="276.2" r="2.55"/><circle cx="396.8" cy="307.4" r="2.55"/><circle cx="339.1" cy="289.3" r="2.55"/><circle cx="372.8" cy="319.6" r="2.55"/><circle cx="389.2" cy="320.6" r="2.55"/><circle cx="415.2" cy="265.6" r="2.55"/><circle cx="414.7" cy="238.8" r="2.55"/><circle cx="340.9" cy="271.8" r="2.55"/><circle cx="338.4" cy="333.8" r="2.55"/><circle cx="320.9" cy="259.7" r="2.55"/><circle cx="373.0" cy="361.8" r="2.55"/><circle cx="375.3" cy="361.8" r="2.55"/><circle cx="412.6" cy="314.6" r="2.55"/><circle cx="338.4" cy="257.8" r="2.55"/><circle cx="377.0" cy="324.0" r="2.55"/><circle cx="410.3" cy="290.0" r="2.55"/><circle cx="329.7" cy="271.9" r="2.55"/><circle cx="360.7" cy="244.0" r="2.55"/><circle cx="419.2" cy="321.5" r="2.55"/><circle cx="400.8" cy="335.6" r="2.55"/><circle cx="313.9" cy="308.5" r="2.55"/><circle cx="422.8" cy="280.8" r="2.55"/><circle cx="395.6" cy="321.8" r="2.55"/><circle cx="384.2" cy="240.8" r="2.55"/><circle cx="338.6" cy="294.8" r="2.55"/><circle cx="484.7" cy="289.8" r="2.55"/><circle cx="395.8" cy="411.3" r="2.55"/><circle cx="402.0" cy="315.5" r="2.55"/><circle cx="369.2" cy="299.3" r="2.55"/><circle cx="363.9" cy="285.7" r="2.55"/><circle cx="367.8" cy="315.1" r="2.55"/><circle cx="394.0" cy="370.6" r="2.55"/><circle cx="356.7" cy="275.6" r="2.55"/><circle cx="421.7" cy="392.2" r="2.55"/><circle cx="421.1" cy="322.9" r="2.55"/><circle cx="398.4" cy="331.1" r="2.55"/><circle cx="458.4" cy="335.0" r="2.55"/><circle cx="315.1" cy="302.8" r="2.55"/><circle cx="426.9" cy="360.1" r="2.55"/><circle cx="309.7" cy="226.7" r="2.55"/><circle cx="335.9" cy="276.2" r="2.55"/><circle cx="306.0" cy="261.2" r="2.55"/><circle cx="326.1" cy="321.1" r="2.55"/><circle cx="339.3" cy="259.4" r="2.55"/><circle cx="474.9" cy="296.1" r="2.55"/><circle cx="315.1" cy="240.6" r="2.55"/><circle cx="345.0" cy="281.2" r="2.55"/><circle cx="422.7" cy="271.1" r="2.55"/><circle cx="406.1" cy="293.1" r="2.55"/><circle cx="326.0" cy="256.6" r="2.55"/><circle cx="273.3" cy="248.8" r="2.55"/><circle cx="330.7" cy="334.2" r="2.55"/><circle cx="425.9" cy="439.8" r="2.55"/><circle cx="369.5" cy="320.2" r="2.55"/><circle cx="359.5" cy="246.4" r="2.55"/><circle cx="375.1" cy="304.7" r="2.55"/><circle cx="446.3" cy="293.8" r="2.55"/><circle cx="362.7" cy="283.0" r="2.55"/><circle cx="409.1" cy="332.0" r="2.55"/><circle cx="322.4" cy="289.8" r="2.55"/><circle cx="406.2" cy="290.4" r="2.55"/><circle cx="373.7" cy="240.2" r="2.55"/><circle cx="380.5" cy="349.8" r="2.55"/><circle cx="458.0" cy="390.3" r="2.55"/><circle cx="380.4" cy="298.0" r="2.55"/><circle cx="402.7" cy="402.4" r="2.55"/><circle cx="445.9" cy="329.8" r="2.55"/><circle cx="349.9" cy="325.6" r="2.55"/><circle cx="293.1" cy="202.7" r="2.55"/><circle cx="399.1" cy="284.1" r="2.55"/><circle cx="360.0" cy="275.2" r="2.55"/><circle cx="355.4" cy="276.0" r="2.55"/><circle cx="454.2" cy="347.8" r="2.55"/><circle cx="457.9" cy="380.8" r="2.55"/><circle cx="454.5" cy="308.1" r="2.55"/><circle cx="267.3" cy="248.3" r="2.55"/><circle cx="409.8" cy="302.3" r="2.55"/><circle cx="382.9" cy="307.0" r="2.55"/><circle cx="362.3" cy="364.0" r="2.55"/><circle cx="415.1" cy="236.4" r="2.55"/><circle cx="386.0" cy="287.1" r="2.55"/><circle cx="299.4" cy="214.2" r="2.55"/><circle cx="382.4" cy="341.0" r="2.55"/><circle cx="392.1" cy="330.7" r="2.55"/><circle cx="417.7" cy="358.6" r="2.55"/><circle cx="426.7" cy="368.6" r="2.55"/><circle cx="400.3" cy="239.6" r="2.55"/><circle cx="386.9" cy="327.6" r="2.55"/><circle cx="404.8" cy="318.4" r="2.55"/><circle cx="335.7" cy="292.0" r="2.55"/><circle cx="340.7" cy="307.0" r="2.55"/><circle cx="402.1" cy="303.0" r="2.55"/><circle cx="401.1" cy="297.4" r="2.55"/><circle cx="421.1" cy="333.3" r="2.55"/><circle cx="363.3" cy="344.0" r="2.55"/><circle cx="367.1" cy="307.2" r="2.55"/><circle cx="409.9" cy="283.3" r="2.55"/><circle cx="427.5" cy="270.9" r="2.55"/><circle cx="276.9" cy="231.2" r="2.55"/><circle cx="460.7" cy="307.0" r="2.55"/><circle cx="310.4" cy="186.4" r="2.55"/><circle cx="387.8" cy="265.6" r="2.55"/><circle cx="394.4" cy="344.9" r="2.55"/><circle cx="332.7" cy="261.9" r="2.55"/><circle cx="380.6" cy="256.5" r="2.55"/><circle cx="368.1" cy="327.0" r="2.55"/><circle cx="391.5" cy="332.7" r="2.55"/><circle cx="304.1" cy="207.3" r="2.55"/><circle cx="460.7" cy="365.0" r="2.55"/><circle cx="417.5" cy="358.3" r="2.55"/><circle cx="326.4" cy="298.7" r="2.55"/><circle cx="368.5" cy="308.6" r="2.55"/><circle cx="303.3" cy="317.9" r="2.55"/><circle cx="370.7" cy="253.9" r="2.55"/><circle cx="417.3" cy="330.6" r="2.55"/><circle cx="408.1" cy="354.1" r="2.55"/><circle cx="405.7" cy="339.8" r="2.55"/><circle cx="290.8" cy="288.8" r="2.55"/><circle cx="448.7" cy="326.7" r="2.55"/><circle cx="446.4" cy="351.5" r="2.55"/><circle cx="368.3" cy="338.8" r="2.55"/><circle cx="361.5" cy="305.8" r="2.55"/><circle cx="306.0" cy="300.6" r="2.55"/><circle cx="374.6" cy="276.0" r="2.55"/><circle cx="352.5" cy="231.7" r="2.55"/><circle cx="318.9" cy="272.1" r="2.55"/><circle cx="347.4" cy="318.0" r="2.55"/><circle cx="397.3" cy="325.3" r="2.55"/><circle cx="393.3" cy="253.6" r="2.55"/><circle cx="441.5" cy="275.4" r="2.55"/><circle cx="360.7" cy="315.5" r="2.55"/><circle cx="401.1" cy="257.9" r="2.55"/><circle cx="398.8" cy="315.7" r="2.55"/><circle cx="360.8" cy="242.5" r="2.55"/><circle cx="348.6" cy="359.3" r="2.55"/><circle cx="289.7" cy="223.2" r="2.55"/><circle cx="478.5" cy="349.2" r="2.55"/><circle cx="341.3" cy="329.2" r="2.55"/><circle cx="346.3" cy="312.4" r="2.55"/><circle cx="328.6" cy="323.0" r="2.55"/><circle cx="281.8" cy="209.8" r="2.55"/><circle cx="411.7" cy="360.9" r="2.55"/><circle cx="353.8" cy="311.1" r="2.55"/><circle cx="325.0" cy="264.6" r="2.55"/><circle cx="258.7" cy="165.2" r="2.55"/><circle cx="401.3" cy="300.3" r="2.55"/><circle cx="447.7" cy="281.8" r="2.55"/><circle cx="372.2" cy="298.9" r="2.55"/><circle cx="418.0" cy="315.4" r="2.55"/><circle cx="408.0" cy="295.4" r="2.55"/><circle cx="349.7" cy="307.3" r="2.55"/><circle cx="435.9" cy="430.1" r="2.55"/><circle cx="393.2" cy="294.5" r="2.55"/><circle cx="344.2" cy="272.0" r="2.55"/><circle cx="410.3" cy="373.0" r="2.55"/><circle cx="368.9" cy="333.9" r="2.55"/><circle cx="248.2" cy="233.2" r="2.55"/><circle cx="406.9" cy="270.3" r="2.55"/><circle cx="321.2" cy="207.8" r="2.55"/><circle cx="426.5" cy="324.9" r="2.55"/><circle cx="487.1" cy="471.3" r="2.55"/><circle cx="337.2" cy="279.0" r="2.55"/><circle cx="377.6" cy="335.8" r="2.55"/><circle cx="305.2" cy="265.3" r="2.55"/><circle cx="358.7" cy="330.2" r="2.55"/><circle cx="417.3" cy="388.5" r="2.55"/><circle cx="410.6" cy="352.6" r="2.55"/><circle cx="383.0" cy="313.5" r="2.55"/><circle cx="375.1" cy="363.1" r="2.55"/><circle cx="459.9" cy="381.0" r="2.55"/><circle cx="401.8" cy="326.8" r="2.55"/><circle cx="452.3" cy="345.9" r="2.55"/><circle cx="396.8" cy="385.3" r="2.55"/><circle cx="385.2" cy="328.2" r="2.55"/><circle cx="433.2" cy="254.6" r="2.55"/><circle cx="408.8" cy="411.8" r="2.55"/><circle cx="391.5" cy="391.2" r="2.55"/><circle cx="381.4" cy="291.1" r="2.55"/><circle cx="416.3" cy="299.5" r="2.55"/><circle cx="329.5" cy="272.0" r="2.55"/><circle cx="343.4" cy="269.3" r="2.55"/><circle cx="427.9" cy="281.0" r="2.55"/><circle cx="415.7" cy="277.6" r="2.55"/><circle cx="321.4" cy="320.7" r="2.55"/><circle cx="215.8" cy="196.2" r="2.55"/><circle cx="383.4" cy="350.1" r="2.55"/><circle cx="353.1" cy="193.2" r="2.55"/><circle cx="490.1" cy="320.7" r="2.55"/><circle cx="329.0" cy="275.7" r="2.55"/><circle cx="371.4" cy="295.5" r="2.55"/><circle cx="381.3" cy="317.3" r="2.55"/><circle cx="392.7" cy="317.4" r="2.55"/><circle cx="334.4" cy="235.9" r="2.55"/><circle cx="387.9" cy="276.3" r="2.55"/><circle cx="378.1" cy="246.1" r="2.55"/><circle cx="390.7" cy="249.9" r="2.55"/><circle cx="319.2" cy="242.7" r="2.55"/><circle cx="393.7" cy="353.7" r="2.55"/><circle cx="345.8" cy="269.8" r="2.55"/><circle cx="367.1" cy="355.2" r="2.55"/><circle cx="396.9" cy="312.0" r="2.55"/><circle cx="361.2" cy="384.2" r="2.55"/><circle cx="376.2" cy="301.6" r="2.55"/><circle cx="302.9" cy="269.9" r="2.55"/><circle cx="304.7" cy="224.2" r="2.55"/><circle cx="375.8" cy="301.9" r="2.55"/><circle cx="377.1" cy="326.3" r="2.55"/><circle cx="406.6" cy="328.4" r="2.55"/><circle cx="460.7" cy="339.0" r="2.55"/><circle cx="387.8" cy="303.7" r="2.55"/><circle cx="410.0" cy="364.0" r="2.55"/><circle cx="250.5" cy="286.1" r="2.55"/><circle cx="390.6" cy="338.6" r="2.55"/><circle cx="417.2" cy="408.3" r="2.55"/><circle cx="336.0" cy="240.0" r="2.55"/><circle cx="309.7" cy="316.2" r="2.55"/><circle cx="333.0" cy="333.9" r="2.55"/><circle cx="404.8" cy="321.2" r="2.55"/><circle cx="313.9" cy="270.7" r="2.55"/><circle cx="387.0" cy="279.4" r="2.55"/><circle cx="345.6" cy="289.4" r="2.55"/><circle cx="286.8" cy="277.4" r="2.55"/><circle cx="432.1" cy="326.1" r="2.55"/><circle cx="415.1" cy="316.4" r="2.55"/><circle cx="373.3" cy="304.8" r="2.55"/><circle cx="384.1" cy="253.4" r="2.55"/><circle cx="403.7" cy="315.4" r="2.55"/><circle cx="457.5" cy="425.8" r="2.55"/><circle cx="400.1" cy="215.8" r="2.55"/><circle cx="374.4" cy="281.5" r="2.55"/><circle cx="376.6" cy="266.6" r="2.55"/><circle cx="330.5" cy="278.5" r="2.55"/><circle cx="256.2" cy="205.9" r="2.55"/><circle cx="343.3" cy="292.9" r="2.55"/><circle cx="414.7" cy="307.2" r="2.55"/><circle cx="270.4" cy="230.3" r="2.55"/><circle cx="321.3" cy="302.3" r="2.55"/><circle cx="396.0" cy="302.4" r="2.55"/><circle cx="362.7" cy="309.0" r="2.55"/><circle cx="434.5" cy="384.0" r="2.55"/><circle cx="372.9" cy="304.0" r="2.55"/><circle cx="366.9" cy="273.3" r="2.55"/><circle cx="324.0" cy="268.7" r="2.55"/><circle cx="362.6" cy="303.5" r="2.55"/><circle cx="373.4" cy="354.5" r="2.55"/><circle cx="428.0" cy="415.3" r="2.55"/><circle cx="367.0" cy="260.0" r="2.55"/><circle cx="357.2" cy="365.0" r="2.55"/><circle cx="401.6" cy="334.0" r="2.55"/><circle cx="344.5" cy="387.4" r="2.55"/><circle cx="432.4" cy="339.2" r="2.55"/><circle cx="360.2" cy="273.4" r="2.55"/><circle cx="374.5" cy="339.4" r="2.55"/><circle cx="339.3" cy="373.3" r="2.55"/><circle cx="354.0" cy="407.7" r="2.55"/><circle cx="344.9" cy="273.0" r="2.55"/><circle cx="358.9" cy="254.9" r="2.55"/><circle cx="402.6" cy="288.4" r="2.55"/><circle cx="363.3" cy="340.1" r="2.55"/><circle cx="388.3" cy="354.6" r="2.55"/><circle cx="342.4" cy="247.4" r="2.55"/><circle cx="314.9" cy="310.2" r="2.55"/><circle cx="402.9" cy="304.1" r="2.55"/><circle cx="352.1" cy="290.0" r="2.55"/><circle cx="297.8" cy="256.4" r="2.55"/><circle cx="408.2" cy="297.9" r="2.55"/><circle cx="384.3" cy="269.2" r="2.55"/><circle cx="385.3" cy="237.1" r="2.55"/><circle cx="372.7" cy="271.9" r="2.55"/><circle cx="427.4" cy="356.4" r="2.55"/><circle cx="365.6" cy="325.7" r="2.55"/><circle cx="346.4" cy="226.8" r="2.55"/><circle cx="366.9" cy="260.0" r="2.55"/><circle cx="321.9" cy="256.3" r="2.55"/><circle cx="437.9" cy="266.3" r="2.55"/><circle cx="276.0" cy="315.5" r="2.55"/><circle cx="372.1" cy="287.3" r="2.55"/><circle cx="362.3" cy="378.0" r="2.55"/><circle cx="398.7" cy="353.2" r="2.55"/><circle cx="410.2" cy="252.3" r="2.55"/><circle cx="380.6" cy="339.2" r="2.55"/><circle cx="532.2" cy="321.5" r="2.55"/><circle cx="453.6" cy="200.0" r="2.55"/><circle cx="316.8" cy="242.7" r="2.55"/><circle cx="394.5" cy="324.2" r="2.55"/><circle cx="397.4" cy="320.7" r="2.55"/><circle cx="392.9" cy="317.1" r="2.55"/><circle cx="377.2" cy="281.1" r="2.55"/><circle cx="444.6" cy="331.8" r="2.55"/><circle cx="329.4" cy="248.5" r="2.55"/><circle cx="376.2" cy="331.5" r="2.55"/><circle cx="398.6" cy="318.3" r="2.55"/><circle cx="338.5" cy="229.9" r="2.55"/><circle cx="348.8" cy="286.1" r="2.55"/><circle cx="331.8" cy="252.9" r="2.55"/><circle cx="408.3" cy="343.9" r="2.55"/><circle cx="280.5" cy="288.6" r="2.55"/><circle cx="412.6" cy="309.9" r="2.55"/><circle cx="360.0" cy="306.7" r="2.55"/><circle cx="342.6" cy="233.7" r="2.55"/><circle cx="318.9" cy="313.9" r="2.55"/><circle cx="490.8" cy="332.6" r="2.55"/><circle cx="363.1" cy="192.9" r="2.55"/><circle cx="439.0" cy="361.2" r="2.55"/><circle cx="407.8" cy="293.7" r="2.55"/><circle cx="390.1" cy="291.8" r="2.55"/><circle cx="351.8" cy="199.9" r="2.55"/><circle cx="329.5" cy="343.4" r="2.55"/><circle cx="421.3" cy="321.0" r="2.55"/><circle cx="459.0" cy="348.7" r="2.55"/><circle cx="471.2" cy="369.6" r="2.55"/><circle cx="311.5" cy="320.7" r="2.55"/><circle cx="487.1" cy="386.3" r="2.55"/><circle cx="366.8" cy="268.3" r="2.55"/><circle cx="461.3" cy="336.7" r="2.55"/><circle cx="364.8" cy="286.7" r="2.55"/><circle cx="378.8" cy="335.5" r="2.55"/><circle cx="407.6" cy="351.6" r="2.55"/><circle cx="365.3" cy="270.8" r="2.55"/><circle cx="472.0" cy="406.1" r="2.55"/><circle cx="423.2" cy="302.3" r="2.55"/><circle cx="280.2" cy="220.0" r="2.55"/><circle cx="219.7" cy="222.2" r="2.55"/><circle cx="441.0" cy="329.0" r="2.55"/><circle cx="354.0" cy="250.9" r="2.55"/><circle cx="368.2" cy="316.5" r="2.55"/><circle cx="441.1" cy="297.1" r="2.55"/><circle cx="421.6" cy="324.8" r="2.55"/><circle cx="477.3" cy="376.6" r="2.55"/><circle cx="312.3" cy="266.3" r="2.55"/><circle cx="438.5" cy="326.7" r="2.55"/><circle cx="474.8" cy="309.4" r="2.55"/><circle cx="345.1" cy="251.6" r="2.55"/><circle cx="425.1" cy="361.7" r="2.55"/><circle cx="327.2" cy="269.6" r="2.55"/><circle cx="399.4" cy="407.7" r="2.55"/><circle cx="323.0" cy="285.9" r="2.55"/><circle cx="391.7" cy="358.9" r="2.55"/><circle cx="319.7" cy="212.9" r="2.55"/><circle cx="287.2" cy="258.2" r="2.55"/><circle cx="347.6" cy="284.2" r="2.55"/><circle cx="386.4" cy="318.6" r="2.55"/><circle cx="379.4" cy="273.1" r="2.55"/><circle cx="357.4" cy="276.6" r="2.55"/><circle cx="421.9" cy="303.0" r="2.55"/><circle cx="338.4" cy="326.4" r="2.55"/><circle cx="390.2" cy="285.6" r="2.55"/><circle cx="347.3" cy="335.1" r="2.55"/><circle cx="407.7" cy="292.2" r="2.55"/><circle cx="446.5" cy="360.5" r="2.55"/><circle cx="438.6" cy="361.8" r="2.55"/><circle cx="354.0" cy="338.9" r="2.55"/><circle cx="375.9" cy="319.3" r="2.55"/><circle cx="361.0" cy="291.6" r="2.55"/><circle cx="354.0" cy="300.6" r="2.55"/><circle cx="363.1" cy="263.7" r="2.55"/><circle cx="364.6" cy="350.8" r="2.55"/><circle cx="351.6" cy="246.9" r="2.55"/><circle cx="343.3" cy="283.0" r="2.55"/><circle cx="379.8" cy="318.6" r="2.55"/><circle cx="406.3" cy="308.2" r="2.55"/><circle cx="403.3" cy="332.6" r="2.55"/><circle cx="333.8" cy="313.8" r="2.55"/><circle cx="405.7" cy="328.2" r="2.55"/><circle cx="307.9" cy="294.9" r="2.55"/><circle cx="378.7" cy="278.6" r="2.55"/><circle cx="411.3" cy="341.8" r="2.55"/><circle cx="296.4" cy="287.9" r="2.55"/><circle cx="346.0" cy="316.9" r="2.55"/><circle cx="373.9" cy="377.3" r="2.55"/><circle cx="369.0" cy="263.9" r="2.55"/><circle cx="294.6" cy="318.6" r="2.55"/><circle cx="404.4" cy="277.6" r="2.55"/><circle cx="405.2" cy="378.1" r="2.55"/><circle cx="338.9" cy="246.3" r="2.55"/><circle cx="379.9" cy="354.0" r="2.55"/><circle cx="419.8" cy="356.4" r="2.55"/><circle cx="340.4" cy="309.8" r="2.55"/><circle cx="372.9" cy="356.0" r="2.55"/><circle cx="305.1" cy="281.9" r="2.55"/><circle cx="410.5" cy="293.7" r="2.55"/><circle cx="365.1" cy="288.0" r="2.55"/><circle cx="380.4" cy="224.7" r="2.55"/><circle cx="427.4" cy="323.8" r="2.55"/><circle cx="442.1" cy="231.8" r="2.55"/><circle cx="405.8" cy="295.6" r="2.55"/><circle cx="404.7" cy="378.8" r="2.55"/><circle cx="390.1" cy="220.8" r="2.55"/><circle cx="311.6" cy="326.2" r="2.55"/><circle cx="430.6" cy="326.4" r="2.55"/><circle cx="391.8" cy="315.1" r="2.55"/><circle cx="349.0" cy="219.8" r="2.55"/><circle cx="399.9" cy="297.3" r="2.55"/><circle cx="332.5" cy="252.4" r="2.55"/><circle cx="313.1" cy="291.9" r="2.55"/><circle cx="373.5" cy="275.1" r="2.55"/><circle cx="434.1" cy="345.6" r="2.55"/><circle cx="387.8" cy="368.0" r="2.55"/><circle cx="426.0" cy="330.0" r="2.55"/><circle cx="345.0" cy="254.5" r="2.55"/><circle cx="399.2" cy="294.7" r="2.55"/><circle cx="371.5" cy="386.6" r="2.55"/><circle cx="381.8" cy="356.0" r="2.55"/><circle cx="408.8" cy="313.6" r="2.55"/><circle cx="332.6" cy="275.3" r="2.55"/><circle cx="318.1" cy="261.2" r="2.55"/><circle cx="357.3" cy="357.9" r="2.55"/><circle cx="321.0" cy="330.8" r="2.55"/><circle cx="351.8" cy="345.0" r="2.55"/><circle cx="415.5" cy="320.3" r="2.55"/><circle cx="448.6" cy="334.7" r="2.55"/><circle cx="406.0" cy="325.1" r="2.55"/><circle cx="346.1" cy="312.5" r="2.55"/><circle cx="373.4" cy="316.7" r="2.55"/><circle cx="457.8" cy="350.8" r="2.55"/><circle cx="414.4" cy="334.7" r="2.55"/><circle cx="421.9" cy="331.8" r="2.55"/><circle cx="442.5" cy="309.4" r="2.55"/><circle cx="206.4" cy="247.2" r="2.55"/><circle cx="375.6" cy="208.9" r="2.55"/><circle cx="357.2" cy="334.7" r="2.55"/><circle cx="371.8" cy="335.9" r="2.55"/><circle cx="319.2" cy="262.0" r="2.55"/><circle cx="313.4" cy="164.6" r="2.55"/><circle cx="366.6" cy="349.8" r="2.55"/><circle cx="483.1" cy="354.9" r="2.55"/><circle cx="329.9" cy="309.7" r="2.55"/><circle cx="480.6" cy="398.8" r="2.55"/><circle cx="412.1" cy="331.0" r="2.55"/><circle cx="355.6" cy="301.7" r="2.55"/><circle cx="348.1" cy="283.7" r="2.55"/><circle cx="418.5" cy="338.7" r="2.55"/><circle cx="334.7" cy="256.7" r="2.55"/><circle cx="485.4" cy="290.9" r="2.55"/><circle cx="308.8" cy="240.9" r="2.55"/><circle cx="320.4" cy="188.2" r="2.55"/><circle cx="514.3" cy="327.7" r="2.55"/><circle cx="305.9" cy="314.5" r="2.55"/><circle cx="388.2" cy="345.3" r="2.55"/><circle cx="373.9" cy="324.0" r="2.55"/><circle cx="363.4" cy="339.1" r="2.55"/><circle cx="414.1" cy="359.6" r="2.55"/><circle cx="384.1" cy="317.9" r="2.55"/><circle cx="397.0" cy="241.4" r="2.55"/><circle cx="336.1" cy="265.5" r="2.55"/><circle cx="386.0" cy="321.8" r="2.55"/><circle cx="437.8" cy="347.5" r="2.55"/><circle cx="414.8" cy="249.4" r="2.55"/><circle cx="274.9" cy="249.5" r="2.55"/><circle cx="435.3" cy="369.9" r="2.55"/><circle cx="381.2" cy="256.4" r="2.55"/><circle cx="331.5" cy="241.4" r="2.55"/><circle cx="365.6" cy="328.2" r="2.55"/><circle cx="272.3" cy="220.8" r="2.55"/><circle cx="320.1" cy="279.0" r="2.55"/><circle cx="358.6" cy="278.7" r="2.55"/><circle cx="368.0" cy="323.3" r="2.55"/><circle cx="360.5" cy="270.0" r="2.55"/><circle cx="450.6" cy="364.0" r="2.55"/><circle cx="356.1" cy="342.3" r="2.55"/><circle cx="335.5" cy="317.7" r="2.55"/><circle cx="379.8" cy="272.6" r="2.55"/><circle cx="424.0" cy="385.6" r="2.55"/><circle cx="473.6" cy="368.3" r="2.55"/><circle cx="432.6" cy="357.7" r="2.55"/><circle cx="381.5" cy="394.5" r="2.55"/><circle cx="481.5" cy="375.2" r="2.55"/><circle cx="388.6" cy="283.3" r="2.55"/><circle cx="407.7" cy="382.4" r="2.55"/><circle cx="380.7" cy="326.0" r="2.55"/><circle cx="452.1" cy="344.2" r="2.55"/><circle cx="372.4" cy="333.1" r="2.55"/><circle cx="355.3" cy="307.3" r="2.55"/><circle cx="341.6" cy="250.4" r="2.55"/><circle cx="363.0" cy="329.9" r="2.55"/><circle cx="410.3" cy="336.7" r="2.55"/><circle cx="285.1" cy="321.6" r="2.55"/><circle cx="358.0" cy="267.2" r="2.55"/><circle cx="426.7" cy="321.9" r="2.55"/><circle cx="337.9" cy="234.0" r="2.55"/><circle cx="401.1" cy="322.5" r="2.55"/><circle cx="311.2" cy="283.7" r="2.55"/><circle cx="430.1" cy="336.2" r="2.55"/><circle cx="479.0" cy="381.6" r="2.55"/><circle cx="436.6" cy="320.3" r="2.55"/><circle cx="340.4" cy="340.4" r="2.55"/><circle cx="395.2" cy="306.3" r="2.55"/><circle cx="416.4" cy="385.4" r="2.55"/><circle cx="393.6" cy="306.9" r="2.55"/><circle cx="420.3" cy="223.7" r="2.55"/><circle cx="405.7" cy="266.5" r="2.55"/><circle cx="442.5" cy="356.4" r="2.55"/><circle cx="332.4" cy="296.1" r="2.55"/><circle cx="374.1" cy="316.6" r="2.55"/><circle cx="473.9" cy="396.8" r="2.55"/><circle cx="359.0" cy="333.2" r="2.55"/><circle cx="424.2" cy="387.1" r="2.55"/><circle cx="445.1" cy="269.7" r="2.55"/><circle cx="420.2" cy="390.5" r="2.55"/><circle cx="415.0" cy="221.4" r="2.55"/><circle cx="314.6" cy="264.6" r="2.55"/><circle cx="418.7" cy="353.5" r="2.55"/><circle cx="367.8" cy="237.2" r="2.55"/><circle cx="340.4" cy="263.1" r="2.55"/><circle cx="398.4" cy="366.3" r="2.55"/><circle cx="338.4" cy="266.7" r="2.55"/><circle cx="378.2" cy="304.8" r="2.55"/><circle cx="425.7" cy="272.7" r="2.55"/><circle cx="348.6" cy="289.2" r="2.55"/><circle cx="455.5" cy="388.5" r="2.55"/><circle cx="355.1" cy="292.1" r="2.55"/><circle cx="435.8" cy="321.0" r="2.55"/><circle cx="412.1" cy="336.2" r="2.55"/><circle cx="416.7" cy="377.3" r="2.55"/><circle cx="380.2" cy="396.1" r="2.55"/><circle cx="456.2" cy="324.3" r="2.55"/><circle cx="359.4" cy="261.5" r="2.55"/><circle cx="309.0" cy="184.9" r="2.55"/><circle cx="317.8" cy="205.9" r="2.55"/><circle cx="407.4" cy="309.9" r="2.55"/><circle cx="332.2" cy="318.0" r="2.55"/><circle cx="434.8" cy="329.0" r="2.55"/><circle cx="331.9" cy="284.7" r="2.55"/><circle cx="459.6" cy="334.8" r="2.55"/><circle cx="321.8" cy="220.7" r="2.55"/><circle cx="492.2" cy="260.6" r="2.55"/><circle cx="342.8" cy="266.5" r="2.55"/><circle cx="392.6" cy="357.4" r="2.55"/><circle cx="334.2" cy="284.9" r="2.55"/><circle cx="368.3" cy="230.9" r="2.55"/><circle cx="400.9" cy="319.6" r="2.55"/><circle cx="322.2" cy="304.9" r="2.55"/><circle cx="334.0" cy="320.1" r="2.55"/><circle cx="265.1" cy="259.9" r="2.55"/><circle cx="371.8" cy="305.7" r="2.55"/><circle cx="391.8" cy="402.4" r="2.55"/><circle cx="452.3" cy="233.2" r="2.55"/><circle cx="430.9" cy="360.5" r="2.55"/><circle cx="370.7" cy="282.4" r="2.55"/><circle cx="409.2" cy="324.5" r="2.55"/><circle cx="416.8" cy="306.9" r="2.55"/><circle cx="441.2" cy="342.1" r="2.55"/><circle cx="391.4" cy="373.5" r="2.55"/><circle cx="357.1" cy="286.4" r="2.55"/><circle cx="384.5" cy="363.3" r="2.55"/><circle cx="365.7" cy="330.9" r="2.55"/><circle cx="356.9" cy="277.1" r="2.55"/><circle cx="433.9" cy="378.3" r="2.55"/><circle cx="429.3" cy="349.5" r="2.55"/><circle cx="281.7" cy="226.5" r="2.55"/><circle cx="357.9" cy="323.3" r="2.55"/><circle cx="468.0" cy="382.9" r="2.55"/><circle cx="299.5" cy="234.6" r="2.55"/><circle cx="392.6" cy="316.5" r="2.55"/><circle cx="320.1" cy="339.5" r="2.55"/><circle cx="447.0" cy="380.0" r="2.55"/><circle cx="321.4" cy="173.2" r="2.55"/><circle cx="405.7" cy="342.7" r="2.55"/><circle cx="287.7" cy="230.6" r="2.55"/><circle cx="426.6" cy="326.1" r="2.55"/><circle cx="370.8" cy="374.4" r="2.55"/><circle cx="382.5" cy="275.3" r="2.55"/><circle cx="284.0" cy="210.6" r="2.55"/><circle cx="326.1" cy="275.0" r="2.55"/><circle cx="367.6" cy="288.6" r="2.55"/><circle cx="291.3" cy="251.5" r="2.55"/><circle cx="293.6" cy="226.6" r="2.55"/><circle cx="392.4" cy="284.7" r="2.55"/><circle cx="377.3" cy="316.7" r="2.55"/><circle cx="436.5" cy="334.5" r="2.55"/><circle cx="480.2" cy="387.1" r="2.55"/><circle cx="442.1" cy="331.3" r="2.55"/><circle cx="408.8" cy="391.1" r="2.55"/><circle cx="441.5" cy="389.8" r="2.55"/><circle cx="388.6" cy="304.8" r="2.55"/><circle cx="449.5" cy="364.8" r="2.55"/><circle cx="396.8" cy="304.0" r="2.55"/><circle cx="376.5" cy="301.3" r="2.55"/><circle cx="304.4" cy="230.4" r="2.55"/><circle cx="337.1" cy="276.9" r="2.55"/><circle cx="385.7" cy="279.6" r="2.55"/><circle cx="355.0" cy="300.5" r="2.55"/><circle cx="288.7" cy="231.6" r="2.55"/><circle cx="382.3" cy="359.9" r="2.55"/><circle cx="392.0" cy="391.3" r="2.55"/><circle cx="414.8" cy="318.8" r="2.55"/><circle cx="323.6" cy="250.7" r="2.55"/><circle cx="393.3" cy="326.3" r="2.55"/><circle cx="341.6" cy="234.6" r="2.55"/><circle cx="286.7" cy="159.5" r="2.55"/><circle cx="335.0" cy="226.9" r="2.55"/><circle cx="376.9" cy="317.3" r="2.55"/><circle cx="342.4" cy="276.1" r="2.55"/><circle cx="314.0" cy="306.8" r="2.55"/><circle cx="338.2" cy="331.1" r="2.55"/><circle cx="348.6" cy="312.6" r="2.55"/><circle cx="391.6" cy="266.0" r="2.55"/><circle cx="423.3" cy="257.8" r="2.55"/><circle cx="407.5" cy="350.4" r="2.55"/><circle cx="397.2" cy="252.0" r="2.55"/><circle cx="340.8" cy="233.8" r="2.55"/><circle cx="414.1" cy="341.2" r="2.55"/><circle cx="325.5" cy="245.1" r="2.55"/><circle cx="305.3" cy="238.9" r="2.55"/><circle cx="385.8" cy="315.0" r="2.55"/><circle cx="364.5" cy="285.5" r="2.55"/><circle cx="377.8" cy="304.1" r="2.55"/><circle cx="392.4" cy="274.5" r="2.55"/><circle cx="348.6" cy="228.0" r="2.55"/><circle cx="381.3" cy="268.5" r="2.55"/><circle cx="399.6" cy="323.9" r="2.55"/><circle cx="363.4" cy="297.5" r="2.55"/><circle cx="336.0" cy="276.7" r="2.55"/><circle cx="366.3" cy="327.7" r="2.55"/><circle cx="323.8" cy="225.3" r="2.55"/><circle cx="290.4" cy="265.8" r="2.55"/><circle cx="319.7" cy="226.3" r="2.55"/><circle cx="306.1" cy="269.9" r="2.55"/><circle cx="416.8" cy="212.0" r="2.55"/><circle cx="341.5" cy="261.4" r="2.55"/><circle cx="353.9" cy="353.1" r="2.55"/><circle cx="357.9" cy="289.6" r="2.55"/><circle cx="337.7" cy="332.4" r="2.55"/><circle cx="370.0" cy="391.7" r="2.55"/><circle cx="454.7" cy="353.3" r="2.55"/><circle cx="380.1" cy="311.0" r="2.55"/><circle cx="354.6" cy="257.2" r="2.55"/><circle cx="359.8" cy="205.3" r="2.55"/><circle cx="389.7" cy="333.7" r="2.55"/><circle cx="401.2" cy="284.4" r="2.55"/><circle cx="376.6" cy="244.1" r="2.55"/><circle cx="359.9" cy="275.8" r="2.55"/><circle cx="359.6" cy="297.1" r="2.55"/><circle cx="382.3" cy="326.8" r="2.55"/><circle cx="466.0" cy="351.8" r="2.55"/><circle cx="286.2" cy="287.6" r="2.55"/><circle cx="401.5" cy="295.1" r="2.55"/><circle cx="371.0" cy="364.8" r="2.55"/><circle cx="406.0" cy="318.8" r="2.55"/><circle cx="400.7" cy="367.7" r="2.55"/><circle cx="405.6" cy="385.2" r="2.55"/><circle cx="457.5" cy="274.9" r="2.55"/><circle cx="436.6" cy="328.6" r="2.55"/><circle cx="430.4" cy="314.1" r="2.55"/><circle cx="320.7" cy="260.2" r="2.55"/><circle cx="366.0" cy="276.9" r="2.55"/><circle cx="322.6" cy="222.8" r="2.55"/><circle cx="324.4" cy="228.8" r="2.55"/><circle cx="401.2" cy="337.4" r="2.55"/><circle cx="410.5" cy="315.4" r="2.55"/><circle cx="394.1" cy="309.1" r="2.55"/><circle cx="411.2" cy="339.2" r="2.55"/><circle cx="430.1" cy="383.9" r="2.55"/><circle cx="371.8" cy="358.1" r="2.55"/><circle cx="356.1" cy="309.7" r="2.55"/><circle cx="484.8" cy="342.4" r="2.55"/><circle cx="379.6" cy="217.2" r="2.55"/><circle cx="360.5" cy="266.2" r="2.55"/><circle cx="353.8" cy="333.5" r="2.55"/><circle cx="345.2" cy="317.6" r="2.55"/><circle cx="409.2" cy="336.2" r="2.55"/><circle cx="394.9" cy="311.7" r="2.55"/><circle cx="439.4" cy="278.0" r="2.55"/><circle cx="414.1" cy="304.6" r="2.55"/><circle cx="373.1" cy="277.5" r="2.55"/><circle cx="364.9" cy="238.5" r="2.55"/><circle cx="449.7" cy="328.0" r="2.55"/><circle cx="335.5" cy="214.6" r="2.55"/><circle cx="281.2" cy="258.3" r="2.55"/><circle cx="379.3" cy="247.6" r="2.55"/><circle cx="415.4" cy="200.6" r="2.55"/><circle cx="366.0" cy="294.9" r="2.55"/><circle cx="423.1" cy="376.1" r="2.55"/><circle cx="322.0" cy="267.6" r="2.55"/><circle cx="367.1" cy="286.0" r="2.55"/><circle cx="429.3" cy="362.8" r="2.55"/><circle cx="403.2" cy="259.5" r="2.55"/><circle cx="354.3" cy="266.8" r="2.55"/><circle cx="402.3" cy="363.4" r="2.55"/><circle cx="366.4" cy="319.0" r="2.55"/><circle cx="329.1" cy="222.1" r="2.55"/><circle cx="393.5" cy="357.6" r="2.55"/><circle cx="351.8" cy="364.5" r="2.55"/><circle cx="281.6" cy="202.1" r="2.55"/><circle cx="395.7" cy="364.0" r="2.55"/><circle cx="348.5" cy="335.2" r="2.55"/><circle cx="447.7" cy="301.3" r="2.55"/><circle cx="416.1" cy="339.4" r="2.55"/><circle cx="388.2" cy="293.2" r="2.55"/><circle cx="388.1" cy="256.5" r="2.55"/><circle cx="369.1" cy="265.5" r="2.55"/><circle cx="327.4" cy="270.8" r="2.55"/><circle cx="383.5" cy="272.6" r="2.55"/><circle cx="396.6" cy="293.2" r="2.55"/><circle cx="398.3" cy="321.8" r="2.55"/><circle cx="376.2" cy="346.6" r="2.55"/><circle cx="352.2" cy="242.6" r="2.55"/><circle cx="405.4" cy="308.7" r="2.55"/><circle cx="392.4" cy="295.1" r="2.55"/><circle cx="451.2" cy="358.3" r="2.55"/><circle cx="449.9" cy="367.2" r="2.55"/><circle cx="298.2" cy="287.1" r="2.55"/><circle cx="339.2" cy="300.9" r="2.55"/><circle cx="414.8" cy="336.4" r="2.55"/><circle cx="338.3" cy="291.6" r="2.55"/><circle cx="428.7" cy="305.3" r="2.55"/><circle cx="390.2" cy="266.1" r="2.55"/><circle cx="367.2" cy="287.5" r="2.55"/><circle cx="308.0" cy="298.5" r="2.55"/><circle cx="330.5" cy="291.6" r="2.55"/><circle cx="400.7" cy="331.7" r="2.55"/><circle cx="456.3" cy="305.0" r="2.55"/><circle cx="309.2" cy="240.7" r="2.55"/><circle cx="469.6" cy="429.3" r="2.55"/><circle cx="382.8" cy="358.1" r="2.55"/><circle cx="341.1" cy="273.7" r="2.55"/><circle cx="460.3" cy="315.6" r="2.55"/><circle cx="318.9" cy="231.1" r="2.55"/><circle cx="326.3" cy="334.8" r="2.55"/><circle cx="383.5" cy="293.3" r="2.55"/><circle cx="386.0" cy="296.1" r="2.55"/><circle cx="426.1" cy="284.3" r="2.55"/><circle cx="433.8" cy="332.8" r="2.55"/><circle cx="346.6" cy="241.3" r="2.55"/><circle cx="442.4" cy="346.8" r="2.55"/><circle cx="369.4" cy="298.3" r="2.55"/><circle cx="355.2" cy="261.0" r="2.55"/><circle cx="384.5" cy="287.8" r="2.55"/><circle cx="368.2" cy="334.0" r="2.55"/><circle cx="409.0" cy="371.8" r="2.55"/><circle cx="347.5" cy="286.9" r="2.55"/><circle cx="350.9" cy="283.1" r="2.55"/><circle cx="424.2" cy="280.7" r="2.55"/><circle cx="400.8" cy="283.2" r="2.55"/><circle cx="373.2" cy="256.6" r="2.55"/><circle cx="365.9" cy="311.3" r="2.55"/><circle cx="390.8" cy="358.3" r="2.55"/><circle cx="430.9" cy="263.3" r="2.55"/><circle cx="428.1" cy="302.4" r="2.55"/><circle cx="379.0" cy="322.6" r="2.55"/><circle cx="433.8" cy="357.4" r="2.55"/><circle cx="401.4" cy="223.9" r="2.55"/><circle cx="407.4" cy="378.3" r="2.55"/><circle cx="353.2" cy="278.8" r="2.55"/><circle cx="400.4" cy="389.3" r="2.55"/><circle cx="436.7" cy="288.8" r="2.55"/><circle cx="410.0" cy="332.4" r="2.55"/><circle cx="411.2" cy="254.7" r="2.55"/><circle cx="338.7" cy="188.2" r="2.55"/><circle cx="305.7" cy="313.0" r="2.55"/><circle cx="365.9" cy="190.8" r="2.55"/><circle cx="403.3" cy="278.4" r="2.55"/><circle cx="335.6" cy="211.6" r="2.55"/><circle cx="338.6" cy="235.9" r="2.55"/><circle cx="357.7" cy="316.2" r="2.55"/><circle cx="284.9" cy="221.1" r="2.55"/><circle cx="428.2" cy="328.3" r="2.55"/><circle cx="325.0" cy="296.1" r="2.55"/><circle cx="319.3" cy="294.9" r="2.55"/><circle cx="412.0" cy="370.3" r="2.55"/><circle cx="411.5" cy="382.3" r="2.55"/><circle cx="421.0" cy="317.6" r="2.55"/><circle cx="325.4" cy="265.9" r="2.55"/><circle cx="398.7" cy="312.7" r="2.55"/><circle cx="322.2" cy="276.7" r="2.55"/><circle cx="362.7" cy="337.2" r="2.55"/><circle cx="390.6" cy="246.5" r="2.55"/><circle cx="347.0" cy="309.3" r="2.55"/><circle cx="380.3" cy="336.6" r="2.55"/><circle cx="401.2" cy="314.7" r="2.55"/><circle cx="391.0" cy="283.1" r="2.55"/><circle cx="474.0" cy="316.3" r="2.55"/><circle cx="361.7" cy="331.9" r="2.55"/><circle cx="436.0" cy="323.1" r="2.55"/><circle cx="369.7" cy="277.0" r="2.55"/><circle cx="379.4" cy="338.6" r="2.55"/><circle cx="405.4" cy="342.6" r="2.55"/><circle cx="417.1" cy="291.8" r="2.55"/><circle cx="363.8" cy="315.5" r="2.55"/><circle cx="253.4" cy="264.7" r="2.55"/><circle cx="295.0" cy="298.3" r="2.55"/><circle cx="345.9" cy="312.7" r="2.55"/><circle cx="400.3" cy="317.2" r="2.55"/><circle cx="396.6" cy="390.3" r="2.55"/><circle cx="393.8" cy="355.4" r="2.55"/><circle cx="353.3" cy="257.4" r="2.55"/><circle cx="295.1" cy="303.1" r="2.55"/><circle cx="352.5" cy="311.7" r="2.55"/><circle cx="430.2" cy="364.5" r="2.55"/><circle cx="331.6" cy="283.4" r="2.55"/><circle cx="433.0" cy="343.0" r="2.55"/><circle cx="400.6" cy="320.9" r="2.55"/><circle cx="302.6" cy="236.3" r="2.55"/><circle cx="401.8" cy="352.2" r="2.55"/><circle cx="395.8" cy="369.1" r="2.55"/><circle cx="434.7" cy="345.3" r="2.55"/><circle cx="377.4" cy="291.8" r="2.55"/><circle cx="290.9" cy="326.0" r="2.55"/><circle cx="285.0" cy="249.1" r="2.55"/><circle cx="456.0" cy="280.6" r="2.55"/><circle cx="449.8" cy="328.3" r="2.55"/><circle cx="373.5" cy="302.6" r="2.55"/><circle cx="372.3" cy="241.3" r="2.55"/><circle cx="431.2" cy="363.5" r="2.55"/><circle cx="414.1" cy="312.7" r="2.55"/><circle cx="326.8" cy="300.8" r="2.55"/><circle cx="390.9" cy="323.9" r="2.55"/><circle cx="438.5" cy="346.5" r="2.55"/><circle cx="341.7" cy="310.0" r="2.55"/><circle cx="389.3" cy="253.1" r="2.55"/><circle cx="352.8" cy="262.7" r="2.55"/><circle cx="401.6" cy="400.3" r="2.55"/><circle cx="480.0" cy="322.1" r="2.55"/><circle cx="338.1" cy="294.0" r="2.55"/><circle cx="420.8" cy="339.1" r="2.55"/><circle cx="327.0" cy="233.8" r="2.55"/><circle cx="461.0" cy="347.5" r="2.55"/><circle cx="379.7" cy="303.2" r="2.55"/><circle cx="328.8" cy="277.4" r="2.55"/><circle cx="384.9" cy="318.4" r="2.55"/><circle cx="436.5" cy="277.9" r="2.55"/><circle cx="370.4" cy="287.0" r="2.55"/><circle cx="433.7" cy="316.4" r="2.55"/><circle cx="409.0" cy="321.8" r="2.55"/><circle cx="346.3" cy="294.7" r="2.55"/><circle cx="341.8" cy="289.8" r="2.55"/><circle cx="418.6" cy="366.4" r="2.55"/><circle cx="301.8" cy="270.6" r="2.55"/><circle cx="329.7" cy="201.7" r="2.55"/><circle cx="420.6" cy="334.4" r="2.55"/><circle cx="372.2" cy="293.5" r="2.55"/><circle cx="351.8" cy="269.1" r="2.55"/><circle cx="405.2" cy="257.6" r="2.55"/><circle cx="346.1" cy="316.7" r="2.55"/><circle cx="430.5" cy="338.1" r="2.55"/><circle cx="417.3" cy="364.8" r="2.55"/><circle cx="399.3" cy="272.4" r="2.55"/><circle cx="346.5" cy="375.6" r="2.55"/><circle cx="375.1" cy="306.3" r="2.55"/><circle cx="341.5" cy="308.2" r="2.55"/><circle cx="359.6" cy="259.2" r="2.55"/><circle cx="303.6" cy="310.1" r="2.55"/><circle cx="408.5" cy="328.9" r="2.55"/><circle cx="341.0" cy="337.6" r="2.55"/><circle cx="464.2" cy="265.8" r="2.55"/><circle cx="422.8" cy="291.1" r="2.55"/><circle cx="356.3" cy="268.8" r="2.55"/><circle cx="357.9" cy="270.9" r="2.55"/><circle cx="376.1" cy="243.6" r="2.55"/><circle cx="314.0" cy="269.4" r="2.55"/><circle cx="374.6" cy="289.3" r="2.55"/><circle cx="369.9" cy="308.2" r="2.55"/><circle cx="402.4" cy="278.8" r="2.55"/><circle cx="346.2" cy="279.5" r="2.55"/><circle cx="320.9" cy="249.5" r="2.55"/><circle cx="339.0" cy="301.7" r="2.55"/><circle cx="354.3" cy="286.2" r="2.55"/><circle cx="471.8" cy="384.5" r="2.55"/><circle cx="322.3" cy="258.3" r="2.55"/><circle cx="456.4" cy="405.3" r="2.55"/><circle cx="380.2" cy="303.6" r="2.55"/><circle cx="350.5" cy="212.0" r="2.55"/><circle cx="302.2" cy="215.1" r="2.55"/><circle cx="357.3" cy="268.8" r="2.55"/><circle cx="349.5" cy="310.0" r="2.55"/><circle cx="398.8" cy="278.9" r="2.55"/><circle cx="354.8" cy="242.5" r="2.55"/><circle cx="393.3" cy="347.5" r="2.55"/><circle cx="419.0" cy="301.0" r="2.55"/><circle cx="464.7" cy="348.3" r="2.55"/><circle cx="380.6" cy="288.5" r="2.55"/><circle cx="361.0" cy="317.5" r="2.55"/><circle cx="385.1" cy="337.7" r="2.55"/><circle cx="406.6" cy="392.4" r="2.55"/><circle cx="482.4" cy="352.2" r="2.55"/><circle cx="346.0" cy="414.6" r="2.55"/><circle cx="390.7" cy="316.4" r="2.55"/><circle cx="338.2" cy="320.0" r="2.55"/><circle cx="350.7" cy="294.7" r="2.55"/><circle cx="325.7" cy="261.5" r="2.55"/><circle cx="402.9" cy="316.7" r="2.55"/><circle cx="394.5" cy="337.2" r="2.55"/><circle cx="431.3" cy="352.3" r="2.55"/><circle cx="293.5" cy="243.8" r="2.55"/><circle cx="379.0" cy="362.8" r="2.55"/><circle cx="378.4" cy="322.2" r="2.55"/><circle cx="419.4" cy="345.6" r="2.55"/><circle cx="367.0" cy="239.5" r="2.55"/><circle cx="311.1" cy="291.9" r="2.55"/><circle cx="378.5" cy="320.4" r="2.55"/><circle cx="405.6" cy="351.0" r="2.55"/><circle cx="386.1" cy="214.1" r="2.55"/><circle cx="392.3" cy="292.4" r="2.55"/><circle cx="366.2" cy="323.3" r="2.55"/><circle cx="351.4" cy="297.7" r="2.55"/><circle cx="362.2" cy="314.2" r="2.55"/><circle cx="333.0" cy="288.8" r="2.55"/><circle cx="415.0" cy="356.6" r="2.55"/><circle cx="385.5" cy="383.8" r="2.55"/><circle cx="277.5" cy="240.2" r="2.55"/><circle cx="472.3" cy="315.6" r="2.55"/><circle cx="385.0" cy="274.2" r="2.55"/><circle cx="401.5" cy="364.2" r="2.55"/><circle cx="358.9" cy="308.6" r="2.55"/><circle cx="339.4" cy="202.9" r="2.55"/><circle cx="387.9" cy="302.8" r="2.55"/><circle cx="320.4" cy="281.5" r="2.55"/><circle cx="387.5" cy="271.1" r="2.55"/><circle cx="443.4" cy="398.0" r="2.55"/><circle cx="461.0" cy="253.6" r="2.55"/><circle cx="369.4" cy="258.3" r="2.55"/><circle cx="381.9" cy="334.4" r="2.55"/><circle cx="352.5" cy="268.0" r="2.55"/><circle cx="411.6" cy="337.2" r="2.55"/><circle cx="320.2" cy="313.3" r="2.55"/><circle cx="330.4" cy="328.4" r="2.55"/><circle cx="301.3" cy="276.8" r="2.55"/><circle cx="411.8" cy="384.4" r="2.55"/><circle cx="376.0" cy="322.7" r="2.55"/><circle cx="425.2" cy="312.1" r="2.55"/><circle cx="425.9" cy="424.0" r="2.55"/><circle cx="311.8" cy="199.8" r="2.55"/><circle cx="444.0" cy="356.9" r="2.55"/><circle cx="347.8" cy="240.3" r="2.55"/><circle cx="340.0" cy="337.8" r="2.55"/><circle cx="449.2" cy="347.4" r="2.55"/><circle cx="422.9" cy="352.2" r="2.55"/><circle cx="433.9" cy="335.3" r="2.55"/><circle cx="457.0" cy="375.4" r="2.55"/><circle cx="352.8" cy="305.2" r="2.55"/><circle cx="425.9" cy="337.6" r="2.55"/><circle cx="415.3" cy="305.7" r="2.55"/><circle cx="334.9" cy="363.2" r="2.55"/><circle cx="466.2" cy="314.2" r="2.55"/><circle cx="462.8" cy="384.2" r="2.55"/><circle cx="409.6" cy="348.3" r="2.55"/><circle cx="408.2" cy="318.4" r="2.55"/><circle cx="401.3" cy="372.1" r="2.55"/><circle cx="458.5" cy="361.0" r="2.55"/><circle cx="369.5" cy="240.6" r="2.55"/><circle cx="326.9" cy="241.6" r="2.55"/><circle cx="331.3" cy="371.4" r="2.55"/><circle cx="416.9" cy="335.2" r="2.55"/><circle cx="334.3" cy="272.7" r="2.55"/><circle cx="381.0" cy="262.7" r="2.55"/><circle cx="326.3" cy="286.8" r="2.55"/><circle cx="347.6" cy="286.9" r="2.55"/><circle cx="392.1" cy="314.1" r="2.55"/><circle cx="356.4" cy="329.9" r="2.55"/><circle cx="351.2" cy="293.2" r="2.55"/><circle cx="350.9" cy="334.4" r="2.55"/><circle cx="452.3" cy="331.9" r="2.55"/><circle cx="406.3" cy="289.2" r="2.55"/><circle cx="352.3" cy="304.9" r="2.55"/><circle cx="374.8" cy="351.0" r="2.55"/><circle cx="402.7" cy="296.4" r="2.55"/><circle cx="391.2" cy="237.2" r="2.55"/><circle cx="340.1" cy="353.4" r="2.55"/><circle cx="349.3" cy="291.9" r="2.55"/><circle cx="401.5" cy="360.4" r="2.55"/><circle cx="380.7" cy="215.8" r="2.55"/><circle cx="437.0" cy="338.6" r="2.55"/><circle cx="416.3" cy="301.1" r="2.55"/><circle cx="424.6" cy="273.7" r="2.55"/><circle cx="380.7" cy="277.6" r="2.55"/>
</g>
<g font-size="14" fill="#303030" stroke="#303030" stroke-width="0.25"><text x="66" y="11.7" text-anchor="end">80000</text><text x="66" y="77.3" text-anchor="end">60000</text><text x="66" y="143.0" text-anchor="end">40000</text><text x="66" y="208.7" text-anchor="end">20000</text><text x="66" y="274.3" text-anchor="end">0</text><text x="66" y="340.0" text-anchor="end">-20000</text><text x="66" y="405.6" text-anchor="end">-40000</text><text x="66" y="471.3" text-anchor="end">-60000</text><text x="66" y="536.9" text-anchor="end">-80000</text><text x="79.8" y="557" text-anchor="middle">-2.5</text><text x="178.8" y="557" text-anchor="middle">-1.5</text><text x="277.8" y="557" text-anchor="middle">-0.5</text><text x="376.8" y="557" text-anchor="middle">0.5</text><text x="475.8" y="557" text-anchor="middle">1.5</text><text x="574.8" y="557" text-anchor="middle">2.5</text><text x="673.8" y="557" text-anchor="middle">3.5</text></g>
<text x="257.3" y="573.9" font-size="16" font-weight="bold" fill="#000" textLength="238" lengthAdjust="spacingAndGlyphs">Incremental effectiveness (QALYs)</text>
<text transform="translate(14.6,339.6) rotate(-90)" font-size="16" font-weight="bold" fill="#000" textLength="138.5" lengthAdjust="spacingAndGlyphs">Inremental costs (¥)</text>
</svg>
</body></html>
